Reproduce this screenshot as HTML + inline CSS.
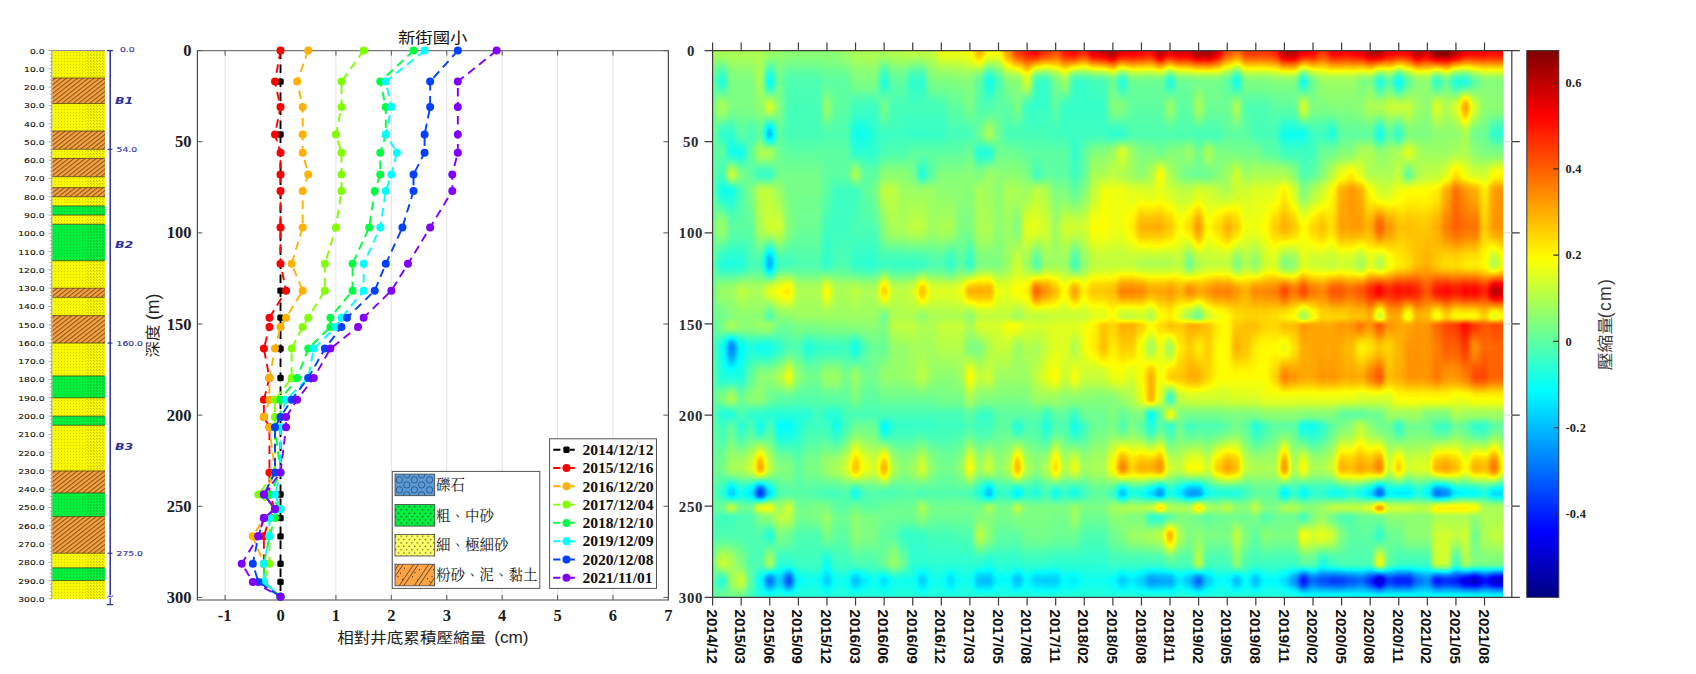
<!DOCTYPE html>
<html lang="zh-Hant"><head><meta charset="utf-8"><title>新街國小</title>
<style>html,body{margin:0;padding:0;background:#fff}body{width:1696px;height:674px;overflow:hidden}svg{display:block}text{white-space:pre}</style>
</head><body>
<svg width="1696" height="674" viewBox="0 0 1696 674">
<defs>
<pattern id="pdot" width="3" height="3" patternUnits="userSpaceOnUse"><rect x="1" y="1" width="1" height="1" fill="#5a5a00" fill-opacity=".26"/></pattern>
<pattern id="pdot2" width="3" height="3" patternUnits="userSpaceOnUse"><rect x="0" y="0" width="1.2" height="1.2" fill="#4a4a00" fill-opacity=".3"/></pattern>
<pattern id="phat" width="3.4" height="3.4" patternUnits="userSpaceOnUse" patternTransform="rotate(-38)"><rect x="0" y="0" width="3.4" height="1.1" fill="#5e3010" fill-opacity=".7"/></pattern>
<pattern id="lgdot" width="5.4" height="6.6" patternUnits="userSpaceOnUse"><rect x="1" y="1.2" width="1.1" height="1.1" fill="#111"/><rect x="3.7" y="4.5" width="1.1" height="1.1" fill="#111"/></pattern>
<filter id="jet" x="0" y="0" width="100%" height="100%" color-interpolation-filters="sRGB">
<feGaussianBlur stdDeviation="2.8 0.5"/>
<feComponentTransfer>
<feFuncR type="table" tableValues="0 0 0 0 0.5 1 1 1 0.5"/>
<feFuncG type="table" tableValues="0 0 0.5 1 1 1 0.5 0 0"/>
<feFuncB type="table" tableValues="0.5 1 1 1 0.5 0 0 0 0"/>
<feFuncA type="linear" slope="0" intercept="1"/>
</feComponentTransfer></filter>
<linearGradient id="cbar" x1="0" y1="1" x2="0" y2="0">
<stop offset="0" stop-color="#000080"/>
<stop offset="0.12" stop-color="#0000ff"/>
<stop offset="0.25" stop-color="#0080ff"/>
<stop offset="0.38" stop-color="#00ffff"/>
<stop offset="0.5" stop-color="#80ff80"/>
<stop offset="0.62" stop-color="#ffff00"/>
<stop offset="0.75" stop-color="#ff8000"/>
<stop offset="0.88" stop-color="#ff0000"/>
<stop offset="1" stop-color="#800000"/>
</linearGradient>
<clipPath id="hclip"><rect x="712.6" y="50.6" width="790.6" height="546.7"/></clipPath>
<linearGradient id="c0" x1="0" y1="0" x2="0" y2="1"><stop offset="0" stop-color="#8b8b8b"/><stop offset=".017" stop-color="#878787"/><stop offset=".0397" stop-color="#7c7c7c"/><stop offset=".0567" stop-color="#777777"/><stop offset=".1033" stop-color="#7f7f7f"/><stop offset=".1533" stop-color="#7b7b7b"/><stop offset=".1867" stop-color="#777777"/><stop offset=".2267" stop-color="#777777"/><stop offset=".2567" stop-color="#777777"/><stop offset=".3233" stop-color="#7f7f7f"/><stop offset=".39" stop-color="#777777"/><stop offset=".44" stop-color="#7f7f7f"/><stop offset=".4867" stop-color="#7b7b7b"/><stop offset=".5033" stop-color="#777777"/><stop offset=".5433" stop-color="#737373"/><stop offset=".5967" stop-color="#777777"/><stop offset=".6367" stop-color="#777777"/><stop offset=".6667" stop-color="#777777"/><stop offset=".6867" stop-color="#777777"/><stop offset=".7633" stop-color="#7b7b7b"/><stop offset=".81" stop-color="#777777"/><stop offset=".8367" stop-color="#777777"/><stop offset=".8533" stop-color="#737373"/><stop offset=".8867" stop-color="#737373"/><stop offset=".9017" stop-color="#767676"/><stop offset=".9217" stop-color="#7d7d7d"/><stop offset=".9367" stop-color="#7f7f7f"/><stop offset=".97" stop-color="#777777"/><stop offset="1" stop-color="#777777"/></linearGradient>
<linearGradient id="c1" x1="0" y1="0" x2="0" y2="1"><stop offset="0" stop-color="#8b8b8b"/><stop offset=".0142" stop-color="#868686"/><stop offset=".0283" stop-color="#797979"/><stop offset=".0425" stop-color="#6d6d6d"/><stop offset=".0567" stop-color="#676767"/><stop offset=".0683" stop-color="#6d6d6d"/><stop offset=".08" stop-color="#797979"/><stop offset=".0917" stop-color="#868686"/><stop offset=".1033" stop-color="#8b8b8b"/><stop offset=".1158" stop-color="#868686"/><stop offset=".1283" stop-color="#7b7b7b"/><stop offset=".1408" stop-color="#707070"/><stop offset=".1533" stop-color="#6b6b6b"/><stop offset=".1633" stop-color="#6e6e6e"/><stop offset=".1767" stop-color="#757575"/><stop offset=".1867" stop-color="#777777"/><stop offset=".2267" stop-color="#6f6f6f"/><stop offset=".2357" stop-color="#6d6d6d"/><stop offset=".2477" stop-color="#666666"/><stop offset=".2567" stop-color="#636363"/><stop offset=".2733" stop-color="#696969"/><stop offset=".29" stop-color="#757575"/><stop offset=".3067" stop-color="#828282"/><stop offset=".3233" stop-color="#878787"/><stop offset=".34" stop-color="#828282"/><stop offset=".3567" stop-color="#777777"/><stop offset=".3733" stop-color="#6c6c6c"/><stop offset=".39" stop-color="#676767"/><stop offset=".4025" stop-color="#6c6c6c"/><stop offset=".415" stop-color="#777777"/><stop offset=".4275" stop-color="#828282"/><stop offset=".44" stop-color="#878787"/><stop offset=".454" stop-color="#858585"/><stop offset=".4727" stop-color="#7e7e7e"/><stop offset=".4867" stop-color="#7b7b7b"/><stop offset=".5033" stop-color="#7f7f7f"/><stop offset=".5133" stop-color="#7b7b7b"/><stop offset=".5233" stop-color="#717171"/><stop offset=".5333" stop-color="#686868"/><stop offset=".5433" stop-color="#636363"/><stop offset=".5967" stop-color="#676767"/><stop offset=".6067" stop-color="#6b6b6b"/><stop offset=".6167" stop-color="#737373"/><stop offset=".6267" stop-color="#7c7c7c"/><stop offset=".6367" stop-color="#7f7f7f"/><stop offset=".6442" stop-color="#7c7c7c"/><stop offset=".6517" stop-color="#737373"/><stop offset=".6592" stop-color="#6b6b6b"/><stop offset=".6667" stop-color="#676767"/><stop offset=".6867" stop-color="#6f6f6f"/><stop offset=".7097" stop-color="#727272"/><stop offset=".7403" stop-color="#7a7a7a"/><stop offset=".7633" stop-color="#7d7d7d"/><stop offset=".7773" stop-color="#797979"/><stop offset=".796" stop-color="#6f6f6f"/><stop offset=".81" stop-color="#6b6b6b"/><stop offset=".818" stop-color="#6f6f6f"/><stop offset=".8287" stop-color="#787878"/><stop offset=".8367" stop-color="#7b7b7b"/><stop offset=".8417" stop-color="#797979"/><stop offset=".8483" stop-color="#727272"/><stop offset=".8533" stop-color="#6f6f6f"/><stop offset=".8867" stop-color="#737373"/><stop offset=".8992" stop-color="#787878"/><stop offset=".9117" stop-color="#838383"/><stop offset=".9242" stop-color="#8e8e8e"/><stop offset=".9367" stop-color="#949494"/><stop offset=".945" stop-color="#8d8d8d"/><stop offset=".9533" stop-color="#7d7d7d"/><stop offset=".9617" stop-color="#6e6e6e"/><stop offset=".97" stop-color="#676767"/><stop offset=".979" stop-color="#6c6c6c"/><stop offset=".991" stop-color="#777777"/><stop offset="1" stop-color="#7b7b7b"/></linearGradient>
<linearGradient id="c2" x1="0" y1="0" x2="0" y2="1"><stop offset="0" stop-color="#8b8b8b"/><stop offset=".017" stop-color="#898989"/><stop offset=".0397" stop-color="#828282"/><stop offset=".0567" stop-color="#7f7f7f"/><stop offset=".1033" stop-color="#7f7f7f"/><stop offset=".1183" stop-color="#7b7b7b"/><stop offset=".1383" stop-color="#707070"/><stop offset=".1533" stop-color="#6b6b6b"/><stop offset=".1867" stop-color="#636363"/><stop offset=".1967" stop-color="#6b6b6b"/><stop offset=".2067" stop-color="#7b7b7b"/><stop offset=".2167" stop-color="#8c8c8c"/><stop offset=".2267" stop-color="#949494"/><stop offset=".2342" stop-color="#8c8c8c"/><stop offset=".2417" stop-color="#7b7b7b"/><stop offset=".2492" stop-color="#6b6b6b"/><stop offset=".2567" stop-color="#636363"/><stop offset=".2767" stop-color="#686868"/><stop offset=".3033" stop-color="#737373"/><stop offset=".3233" stop-color="#777777"/><stop offset=".3433" stop-color="#747474"/><stop offset=".37" stop-color="#6b6b6b"/><stop offset=".39" stop-color="#676767"/><stop offset=".4025" stop-color="#6c6c6c"/><stop offset=".415" stop-color="#777777"/><stop offset=".4275" stop-color="#828282"/><stop offset=".44" stop-color="#878787"/><stop offset=".4867" stop-color="#818181"/><stop offset=".5033" stop-color="#8b8b8b"/><stop offset=".5093" stop-color="#878787"/><stop offset=".5153" stop-color="#7b7b7b"/><stop offset=".5233" stop-color="#656565"/><stop offset=".5313" stop-color="#505050"/><stop offset=".5373" stop-color="#444444"/><stop offset=".5433" stop-color="#3f3f3f"/><stop offset=".5567" stop-color="#454545"/><stop offset=".57" stop-color="#535353"/><stop offset=".5833" stop-color="#616161"/><stop offset=".5967" stop-color="#676767"/><stop offset=".6067" stop-color="#6d6d6d"/><stop offset=".6167" stop-color="#797979"/><stop offset=".6267" stop-color="#868686"/><stop offset=".6367" stop-color="#8b8b8b"/><stop offset=".6442" stop-color="#868686"/><stop offset=".6517" stop-color="#797979"/><stop offset=".6592" stop-color="#6d6d6d"/><stop offset=".6667" stop-color="#676767"/><stop offset=".6727" stop-color="#6b6b6b"/><stop offset=".6807" stop-color="#747474"/><stop offset=".6867" stop-color="#777777"/><stop offset=".7097" stop-color="#7c7c7c"/><stop offset=".7403" stop-color="#878787"/><stop offset=".7633" stop-color="#8b8b8b"/><stop offset=".7703" stop-color="#888888"/><stop offset=".7773" stop-color="#7f7f7f"/><stop offset=".7867" stop-color="#6f6f6f"/><stop offset=".796" stop-color="#5f5f5f"/><stop offset=".803" stop-color="#575757"/><stop offset=".81" stop-color="#535353"/><stop offset=".814" stop-color="#575757"/><stop offset=".818" stop-color="#606060"/><stop offset=".8233" stop-color="#717171"/><stop offset=".8287" stop-color="#828282"/><stop offset=".8327" stop-color="#8c8c8c"/><stop offset=".8367" stop-color="#909090"/><stop offset=".8408" stop-color="#8a8a8a"/><stop offset=".845" stop-color="#7f7f7f"/><stop offset=".8492" stop-color="#747474"/><stop offset=".8533" stop-color="#6f6f6f"/><stop offset=".8867" stop-color="#737373"/><stop offset=".8992" stop-color="#777777"/><stop offset=".9117" stop-color="#7f7f7f"/><stop offset=".9242" stop-color="#888888"/><stop offset=".9367" stop-color="#8b8b8b"/><stop offset=".97" stop-color="#878787"/><stop offset=".979" stop-color="#858585"/><stop offset=".991" stop-color="#7e7e7e"/><stop offset="1" stop-color="#7b7b7b"/></linearGradient>
<linearGradient id="c3" x1="0" y1="0" x2="0" y2="1"><stop offset="0" stop-color="#8b8b8b"/><stop offset=".017" stop-color="#898989"/><stop offset=".0397" stop-color="#828282"/><stop offset=".0567" stop-color="#7f7f7f"/><stop offset=".1033" stop-color="#7f7f7f"/><stop offset=".1533" stop-color="#777777"/><stop offset=".1633" stop-color="#737373"/><stop offset=".1767" stop-color="#686868"/><stop offset=".1867" stop-color="#636363"/><stop offset=".1967" stop-color="#686868"/><stop offset=".2067" stop-color="#717171"/><stop offset=".2167" stop-color="#7b7b7b"/><stop offset=".2267" stop-color="#7f7f7f"/><stop offset=".2357" stop-color="#7d7d7d"/><stop offset=".2477" stop-color="#767676"/><stop offset=".2567" stop-color="#737373"/><stop offset=".3233" stop-color="#777777"/><stop offset=".3433" stop-color="#747474"/><stop offset=".37" stop-color="#6b6b6b"/><stop offset=".39" stop-color="#676767"/><stop offset=".4025" stop-color="#6e6e6e"/><stop offset=".415" stop-color="#7b7b7b"/><stop offset=".4275" stop-color="#898989"/><stop offset=".44" stop-color="#909090"/><stop offset=".454" stop-color="#8d8d8d"/><stop offset=".4727" stop-color="#868686"/><stop offset=".4867" stop-color="#838383"/><stop offset=".5033" stop-color="#838383"/><stop offset=".5133" stop-color="#7e7e7e"/><stop offset=".5233" stop-color="#717171"/><stop offset=".5333" stop-color="#656565"/><stop offset=".5433" stop-color="#5f5f5f"/><stop offset=".5967" stop-color="#676767"/><stop offset=".6087" stop-color="#6c6c6c"/><stop offset=".6247" stop-color="#777777"/><stop offset=".6367" stop-color="#7b7b7b"/><stop offset=".6667" stop-color="#737373"/><stop offset=".6867" stop-color="#696969"/><stop offset=".7058" stop-color="#6f6f6f"/><stop offset=".725" stop-color="#7a7a7a"/><stop offset=".7442" stop-color="#868686"/><stop offset=".7633" stop-color="#8b8b8b"/><stop offset=".775" stop-color="#858585"/><stop offset=".7867" stop-color="#777777"/><stop offset=".7983" stop-color="#6a6a6a"/><stop offset=".81" stop-color="#636363"/><stop offset=".8167" stop-color="#676767"/><stop offset=".8233" stop-color="#6f6f6f"/><stop offset=".83" stop-color="#787878"/><stop offset=".8367" stop-color="#7b7b7b"/><stop offset=".8533" stop-color="#737373"/><stop offset=".8867" stop-color="#737373"/><stop offset=".9017" stop-color="#767676"/><stop offset=".9217" stop-color="#7d7d7d"/><stop offset=".9367" stop-color="#7f7f7f"/><stop offset=".9467" stop-color="#848484"/><stop offset=".96" stop-color="#8f8f8f"/><stop offset=".97" stop-color="#949494"/><stop offset=".9775" stop-color="#909090"/><stop offset=".985" stop-color="#878787"/><stop offset=".9925" stop-color="#7f7f7f"/><stop offset="1" stop-color="#7b7b7b"/></linearGradient>
<linearGradient id="c4" x1="0" y1="0" x2="0" y2="1"><stop offset="0" stop-color="#8b8b8b"/><stop offset=".017" stop-color="#898989"/><stop offset=".0397" stop-color="#828282"/><stop offset=".0567" stop-color="#7f7f7f"/><stop offset=".1033" stop-color="#7f7f7f"/><stop offset=".1183" stop-color="#7c7c7c"/><stop offset=".1383" stop-color="#747474"/><stop offset=".1533" stop-color="#717171"/><stop offset=".1867" stop-color="#777777"/><stop offset=".2267" stop-color="#777777"/><stop offset=".2567" stop-color="#7f7f7f"/><stop offset=".3233" stop-color="#777777"/><stop offset=".39" stop-color="#717171"/><stop offset=".4025" stop-color="#757575"/><stop offset=".415" stop-color="#7e7e7e"/><stop offset=".4275" stop-color="#878787"/><stop offset=".44" stop-color="#8b8b8b"/><stop offset=".4867" stop-color="#838383"/><stop offset=".5033" stop-color="#838383"/><stop offset=".5133" stop-color="#7f7f7f"/><stop offset=".5233" stop-color="#757575"/><stop offset=".5333" stop-color="#6c6c6c"/><stop offset=".5433" stop-color="#676767"/><stop offset=".5593" stop-color="#6b6b6b"/><stop offset=".5807" stop-color="#747474"/><stop offset=".5967" stop-color="#777777"/><stop offset=".6087" stop-color="#7a7a7a"/><stop offset=".6247" stop-color="#818181"/><stop offset=".6367" stop-color="#838383"/><stop offset=".6442" stop-color="#808080"/><stop offset=".6517" stop-color="#777777"/><stop offset=".6592" stop-color="#6f6f6f"/><stop offset=".6667" stop-color="#6b6b6b"/><stop offset=".6867" stop-color="#737373"/><stop offset=".7058" stop-color="#787878"/><stop offset=".725" stop-color="#838383"/><stop offset=".7442" stop-color="#8e8e8e"/><stop offset=".7633" stop-color="#949494"/><stop offset=".7703" stop-color="#909090"/><stop offset=".7773" stop-color="#878787"/><stop offset=".7867" stop-color="#777777"/><stop offset=".796" stop-color="#676767"/><stop offset=".803" stop-color="#5f5f5f"/><stop offset=".81" stop-color="#5b5b5b"/><stop offset=".8167" stop-color="#606060"/><stop offset=".8233" stop-color="#6b6b6b"/><stop offset=".83" stop-color="#767676"/><stop offset=".8367" stop-color="#7b7b7b"/><stop offset=".8533" stop-color="#737373"/><stop offset=".8867" stop-color="#737373"/><stop offset=".9367" stop-color="#737373"/><stop offset=".97" stop-color="#777777"/><stop offset="1" stop-color="#6f6f6f"/></linearGradient>
<linearGradient id="c5" x1="0" y1="0" x2="0" y2="1"><stop offset="0" stop-color="#8b8b8b"/><stop offset=".0567" stop-color="#8b8b8b"/><stop offset=".1033" stop-color="#838383"/><stop offset=".1183" stop-color="#818181"/><stop offset=".1383" stop-color="#7a7a7a"/><stop offset=".1533" stop-color="#777777"/><stop offset=".1633" stop-color="#7c7c7c"/><stop offset=".1767" stop-color="#878787"/><stop offset=".1867" stop-color="#8b8b8b"/><stop offset=".1967" stop-color="#878787"/><stop offset=".2067" stop-color="#7c7c7c"/><stop offset=".2167" stop-color="#727272"/><stop offset=".2267" stop-color="#6d6d6d"/><stop offset=".2342" stop-color="#737373"/><stop offset=".2417" stop-color="#7e7e7e"/><stop offset=".2492" stop-color="#8a8a8a"/><stop offset=".2567" stop-color="#909090"/><stop offset=".3233" stop-color="#8b8b8b"/><stop offset=".34" stop-color="#878787"/><stop offset=".3567" stop-color="#7e7e7e"/><stop offset=".3733" stop-color="#757575"/><stop offset=".39" stop-color="#717171"/><stop offset=".4025" stop-color="#757575"/><stop offset=".415" stop-color="#7e7e7e"/><stop offset=".4275" stop-color="#878787"/><stop offset=".44" stop-color="#8b8b8b"/><stop offset=".4867" stop-color="#838383"/><stop offset=".5033" stop-color="#878787"/><stop offset=".5133" stop-color="#828282"/><stop offset=".5233" stop-color="#757575"/><stop offset=".5333" stop-color="#696969"/><stop offset=".5433" stop-color="#636363"/><stop offset=".5567" stop-color="#686868"/><stop offset=".57" stop-color="#737373"/><stop offset=".5833" stop-color="#7e7e7e"/><stop offset=".5967" stop-color="#838383"/><stop offset=".6367" stop-color="#838383"/><stop offset=".6442" stop-color="#808080"/><stop offset=".6517" stop-color="#777777"/><stop offset=".6592" stop-color="#6f6f6f"/><stop offset=".6667" stop-color="#6b6b6b"/><stop offset=".6867" stop-color="#636363"/><stop offset=".6982" stop-color="#686868"/><stop offset=".7097" stop-color="#757575"/><stop offset=".725" stop-color="#8d8d8d"/><stop offset=".7403" stop-color="#a5a5a5"/><stop offset=".7518" stop-color="#b3b3b3"/><stop offset=".7633" stop-color="#b8b8b8"/><stop offset=".7703" stop-color="#afafaf"/><stop offset=".7773" stop-color="#999999"/><stop offset=".7867" stop-color="#717171"/><stop offset=".796" stop-color="#494949"/><stop offset=".803" stop-color="#333333"/><stop offset=".81" stop-color="#2b2b2b"/><stop offset=".814" stop-color="#323232"/><stop offset=".818" stop-color="#434343"/><stop offset=".8233" stop-color="#636363"/><stop offset=".8287" stop-color="#838383"/><stop offset=".8327" stop-color="#959595"/><stop offset=".8367" stop-color="#9c9c9c"/><stop offset=".8408" stop-color="#979797"/><stop offset=".845" stop-color="#8d8d8d"/><stop offset=".8492" stop-color="#848484"/><stop offset=".8533" stop-color="#7f7f7f"/><stop offset=".8633" stop-color="#7d7d7d"/><stop offset=".8767" stop-color="#767676"/><stop offset=".8867" stop-color="#737373"/><stop offset=".9367" stop-color="#737373"/><stop offset=".9467" stop-color="#6f6f6f"/><stop offset=".96" stop-color="#646464"/><stop offset=".97" stop-color="#5f5f5f"/><stop offset="1" stop-color="#696969"/></linearGradient>
<linearGradient id="c6" x1="0" y1="0" x2="0" y2="1"><stop offset="0" stop-color="#898989"/><stop offset=".0142" stop-color="#828282"/><stop offset=".0283" stop-color="#747474"/><stop offset=".0425" stop-color="#666666"/><stop offset=".0567" stop-color="#5f5f5f"/><stop offset=".0637" stop-color="#626262"/><stop offset=".0707" stop-color="#6b6b6b"/><stop offset=".08" stop-color="#7a7a7a"/><stop offset=".0893" stop-color="#8a8a8a"/><stop offset=".0963" stop-color="#929292"/><stop offset=".1033" stop-color="#969696"/><stop offset=".1108" stop-color="#919191"/><stop offset=".1183" stop-color="#868686"/><stop offset=".1283" stop-color="#727272"/><stop offset=".1383" stop-color="#5e5e5e"/><stop offset=".1458" stop-color="#535353"/><stop offset=".1533" stop-color="#4f4f4f"/><stop offset=".1583" stop-color="#535353"/><stop offset=".1633" stop-color="#5c5c5c"/><stop offset=".17" stop-color="#6d6d6d"/><stop offset=".1767" stop-color="#7e7e7e"/><stop offset=".1817" stop-color="#888888"/><stop offset=".1867" stop-color="#8b8b8b"/><stop offset=".1967" stop-color="#878787"/><stop offset=".2067" stop-color="#7c7c7c"/><stop offset=".2167" stop-color="#727272"/><stop offset=".2267" stop-color="#6d6d6d"/><stop offset=".2342" stop-color="#737373"/><stop offset=".2417" stop-color="#7e7e7e"/><stop offset=".2492" stop-color="#8a8a8a"/><stop offset=".2567" stop-color="#909090"/><stop offset=".3233" stop-color="#949494"/><stop offset=".3333" stop-color="#8f8f8f"/><stop offset=".3433" stop-color="#848484"/><stop offset=".3567" stop-color="#6f6f6f"/><stop offset=".37" stop-color="#5b5b5b"/><stop offset=".38" stop-color="#4f4f4f"/><stop offset=".39" stop-color="#4b4b4b"/><stop offset=".3975" stop-color="#505050"/><stop offset=".405" stop-color="#5c5c5c"/><stop offset=".415" stop-color="#727272"/><stop offset=".425" stop-color="#898989"/><stop offset=".4325" stop-color="#959595"/><stop offset=".44" stop-color="#9a9a9a"/><stop offset=".4517" stop-color="#949494"/><stop offset=".4633" stop-color="#868686"/><stop offset=".475" stop-color="#797979"/><stop offset=".4867" stop-color="#737373"/><stop offset=".4917" stop-color="#787878"/><stop offset=".4983" stop-color="#838383"/><stop offset=".5033" stop-color="#878787"/><stop offset=".5133" stop-color="#828282"/><stop offset=".5233" stop-color="#757575"/><stop offset=".5333" stop-color="#696969"/><stop offset=".5433" stop-color="#636363"/><stop offset=".5567" stop-color="#686868"/><stop offset=".57" stop-color="#737373"/><stop offset=".5833" stop-color="#7e7e7e"/><stop offset=".5967" stop-color="#838383"/><stop offset=".6367" stop-color="#7b7b7b"/><stop offset=".6457" stop-color="#777777"/><stop offset=".6577" stop-color="#6d6d6d"/><stop offset=".6667" stop-color="#696969"/><stop offset=".6867" stop-color="#737373"/><stop offset=".7058" stop-color="#787878"/><stop offset=".725" stop-color="#818181"/><stop offset=".7442" stop-color="#8b8b8b"/><stop offset=".7633" stop-color="#909090"/><stop offset=".7703" stop-color="#8c8c8c"/><stop offset=".7773" stop-color="#848484"/><stop offset=".7867" stop-color="#747474"/><stop offset=".796" stop-color="#656565"/><stop offset=".803" stop-color="#5c5c5c"/><stop offset=".81" stop-color="#595959"/><stop offset=".814" stop-color="#5d5d5d"/><stop offset=".818" stop-color="#686868"/><stop offset=".8233" stop-color="#7a7a7a"/><stop offset=".8287" stop-color="#8d8d8d"/><stop offset=".8327" stop-color="#989898"/><stop offset=".8367" stop-color="#9c9c9c"/><stop offset=".8408" stop-color="#989898"/><stop offset=".845" stop-color="#909090"/><stop offset=".8492" stop-color="#878787"/><stop offset=".8533" stop-color="#838383"/><stop offset=".8617" stop-color="#7f7f7f"/><stop offset=".87" stop-color="#757575"/><stop offset=".8783" stop-color="#6c6c6c"/><stop offset=".8867" stop-color="#676767"/><stop offset=".8992" stop-color="#6d6d6d"/><stop offset=".9117" stop-color="#797979"/><stop offset=".9242" stop-color="#868686"/><stop offset=".9367" stop-color="#8b8b8b"/><stop offset=".9417" stop-color="#878787"/><stop offset=".9467" stop-color="#7a7a7a"/><stop offset=".9533" stop-color="#636363"/><stop offset=".96" stop-color="#4c4c4c"/><stop offset=".965" stop-color="#404040"/><stop offset=".97" stop-color="#3b3b3b"/><stop offset=".9775" stop-color="#424242"/><stop offset=".985" stop-color="#525252"/><stop offset=".9925" stop-color="#626262"/><stop offset="1" stop-color="#696969"/></linearGradient>
<linearGradient id="c7" x1="0" y1="0" x2="0" y2="1"><stop offset="0" stop-color="#868686"/><stop offset=".0567" stop-color="#7b7b7b"/><stop offset=".1033" stop-color="#818181"/><stop offset=".1533" stop-color="#777777"/><stop offset=".1867" stop-color="#7b7b7b"/><stop offset=".2267" stop-color="#7d7d7d"/><stop offset=".2567" stop-color="#878787"/><stop offset=".2767" stop-color="#8a8a8a"/><stop offset=".3033" stop-color="#919191"/><stop offset=".3233" stop-color="#949494"/><stop offset=".34" stop-color="#8e8e8e"/><stop offset=".3567" stop-color="#818181"/><stop offset=".3733" stop-color="#757575"/><stop offset=".39" stop-color="#6f6f6f"/><stop offset=".4025" stop-color="#777777"/><stop offset=".415" stop-color="#878787"/><stop offset=".4275" stop-color="#989898"/><stop offset=".44" stop-color="#a0a0a0"/><stop offset=".4517" stop-color="#9b9b9b"/><stop offset=".4633" stop-color="#929292"/><stop offset=".475" stop-color="#888888"/><stop offset=".4867" stop-color="#838383"/><stop offset=".5033" stop-color="#7b7b7b"/><stop offset=".5153" stop-color="#787878"/><stop offset=".5313" stop-color="#6f6f6f"/><stop offset=".5433" stop-color="#6b6b6b"/><stop offset=".5567" stop-color="#707070"/><stop offset=".57" stop-color="#7b7b7b"/><stop offset=".5833" stop-color="#868686"/><stop offset=".5967" stop-color="#8b8b8b"/><stop offset=".6087" stop-color="#878787"/><stop offset=".6247" stop-color="#7c7c7c"/><stop offset=".6367" stop-color="#777777"/><stop offset=".6457" stop-color="#747474"/><stop offset=".6577" stop-color="#6c6c6c"/><stop offset=".6667" stop-color="#696969"/><stop offset=".6867" stop-color="#5f5f5f"/><stop offset=".7058" stop-color="#656565"/><stop offset=".725" stop-color="#707070"/><stop offset=".7442" stop-color="#7c7c7c"/><stop offset=".7633" stop-color="#818181"/><stop offset=".7773" stop-color="#7e7e7e"/><stop offset=".796" stop-color="#767676"/><stop offset=".81" stop-color="#737373"/><stop offset=".818" stop-color="#787878"/><stop offset=".8287" stop-color="#838383"/><stop offset=".8367" stop-color="#878787"/><stop offset=".8533" stop-color="#909090"/><stop offset=".8633" stop-color="#8c8c8c"/><stop offset=".8767" stop-color="#838383"/><stop offset=".8867" stop-color="#7f7f7f"/><stop offset=".9017" stop-color="#7b7b7b"/><stop offset=".9217" stop-color="#707070"/><stop offset=".9367" stop-color="#6b6b6b"/><stop offset=".9467" stop-color="#666666"/><stop offset=".96" stop-color="#5a5a5a"/><stop offset=".97" stop-color="#555555"/><stop offset=".979" stop-color="#595959"/><stop offset=".991" stop-color="#656565"/><stop offset="1" stop-color="#696969"/></linearGradient>
<linearGradient id="c8" x1="0" y1="0" x2="0" y2="1"><stop offset="0" stop-color="#838383"/><stop offset=".017" stop-color="#808080"/><stop offset=".0397" stop-color="#777777"/><stop offset=".0567" stop-color="#737373"/><stop offset=".1033" stop-color="#717171"/><stop offset=".1533" stop-color="#717171"/><stop offset=".1867" stop-color="#777777"/><stop offset=".2267" stop-color="#7d7d7d"/><stop offset=".2567" stop-color="#7d7d7d"/><stop offset=".3233" stop-color="#818181"/><stop offset=".3433" stop-color="#7d7d7d"/><stop offset=".37" stop-color="#737373"/><stop offset=".39" stop-color="#6f6f6f"/><stop offset=".3975" stop-color="#737373"/><stop offset=".405" stop-color="#7b7b7b"/><stop offset=".415" stop-color="#8a8a8a"/><stop offset=".425" stop-color="#9a9a9a"/><stop offset=".4325" stop-color="#a2a2a2"/><stop offset=".44" stop-color="#a6a6a6"/><stop offset=".4517" stop-color="#a0a0a0"/><stop offset=".4633" stop-color="#959595"/><stop offset=".475" stop-color="#898989"/><stop offset=".4867" stop-color="#838383"/><stop offset=".5033" stop-color="#7b7b7b"/><stop offset=".5433" stop-color="#737373"/><stop offset=".5567" stop-color="#7a7a7a"/><stop offset=".57" stop-color="#878787"/><stop offset=".5833" stop-color="#959595"/><stop offset=".5967" stop-color="#9c9c9c"/><stop offset=".6067" stop-color="#969696"/><stop offset=".6167" stop-color="#898989"/><stop offset=".6267" stop-color="#7d7d7d"/><stop offset=".6367" stop-color="#777777"/><stop offset=".6457" stop-color="#747474"/><stop offset=".6577" stop-color="#6c6c6c"/><stop offset=".6667" stop-color="#696969"/><stop offset=".6867" stop-color="#5f5f5f"/><stop offset=".7058" stop-color="#656565"/><stop offset=".725" stop-color="#707070"/><stop offset=".7442" stop-color="#7c7c7c"/><stop offset=".7633" stop-color="#818181"/><stop offset=".7773" stop-color="#7f7f7f"/><stop offset=".796" stop-color="#787878"/><stop offset=".81" stop-color="#757575"/><stop offset=".8167" stop-color="#7a7a7a"/><stop offset=".8233" stop-color="#848484"/><stop offset=".83" stop-color="#8f8f8f"/><stop offset=".8367" stop-color="#949494"/><stop offset=".8533" stop-color="#909090"/><stop offset=".8633" stop-color="#8b8b8b"/><stop offset=".8767" stop-color="#808080"/><stop offset=".8867" stop-color="#7b7b7b"/><stop offset=".9017" stop-color="#787878"/><stop offset=".9217" stop-color="#6f6f6f"/><stop offset=".9367" stop-color="#6b6b6b"/><stop offset=".9417" stop-color="#686868"/><stop offset=".9467" stop-color="#5f5f5f"/><stop offset=".9533" stop-color="#4f4f4f"/><stop offset=".96" stop-color="#3f3f3f"/><stop offset=".965" stop-color="#363636"/><stop offset=".97" stop-color="#333333"/><stop offset=".9745" stop-color="#363636"/><stop offset=".979" stop-color="#3f3f3f"/><stop offset=".985" stop-color="#4e4e4e"/><stop offset=".991" stop-color="#5e5e5e"/><stop offset=".9955" stop-color="#666666"/><stop offset="1" stop-color="#696969"/></linearGradient>
<linearGradient id="c9" x1="0" y1="0" x2="0" y2="1"><stop offset="0" stop-color="#838383"/><stop offset=".017" stop-color="#808080"/><stop offset=".0397" stop-color="#777777"/><stop offset=".0567" stop-color="#737373"/><stop offset=".1033" stop-color="#717171"/><stop offset=".1533" stop-color="#717171"/><stop offset=".1867" stop-color="#777777"/><stop offset=".2267" stop-color="#7d7d7d"/><stop offset=".2567" stop-color="#7d7d7d"/><stop offset=".3233" stop-color="#7b7b7b"/><stop offset=".39" stop-color="#737373"/><stop offset=".4025" stop-color="#777777"/><stop offset=".415" stop-color="#7f7f7f"/><stop offset=".4275" stop-color="#888888"/><stop offset=".44" stop-color="#8b8b8b"/><stop offset=".4867" stop-color="#878787"/><stop offset=".5033" stop-color="#7f7f7f"/><stop offset=".5153" stop-color="#7d7d7d"/><stop offset=".5313" stop-color="#767676"/><stop offset=".5433" stop-color="#737373"/><stop offset=".5593" stop-color="#777777"/><stop offset=".5807" stop-color="#808080"/><stop offset=".5967" stop-color="#838383"/><stop offset=".6087" stop-color="#808080"/><stop offset=".6247" stop-color="#787878"/><stop offset=".6367" stop-color="#757575"/><stop offset=".6457" stop-color="#737373"/><stop offset=".6577" stop-color="#6c6c6c"/><stop offset=".6667" stop-color="#696969"/><stop offset=".6867" stop-color="#676767"/><stop offset=".7097" stop-color="#6b6b6b"/><stop offset=".7403" stop-color="#747474"/><stop offset=".7633" stop-color="#777777"/><stop offset=".81" stop-color="#757575"/><stop offset=".8367" stop-color="#7d7d7d"/><stop offset=".8533" stop-color="#7d7d7d"/><stop offset=".8867" stop-color="#737373"/><stop offset=".9367" stop-color="#6f6f6f"/><stop offset=".9467" stop-color="#6c6c6c"/><stop offset=".96" stop-color="#636363"/><stop offset=".97" stop-color="#5f5f5f"/><stop offset="1" stop-color="#696969"/></linearGradient>
<linearGradient id="c10" x1="0" y1="0" x2="0" y2="1"><stop offset="0" stop-color="#838383"/><stop offset=".017" stop-color="#808080"/><stop offset=".0397" stop-color="#777777"/><stop offset=".0567" stop-color="#737373"/><stop offset=".1033" stop-color="#717171"/><stop offset=".1533" stop-color="#717171"/><stop offset=".1867" stop-color="#777777"/><stop offset=".2267" stop-color="#7d7d7d"/><stop offset=".2567" stop-color="#7d7d7d"/><stop offset=".3233" stop-color="#7b7b7b"/><stop offset=".39" stop-color="#737373"/><stop offset=".4025" stop-color="#777777"/><stop offset=".415" stop-color="#7f7f7f"/><stop offset=".4275" stop-color="#888888"/><stop offset=".44" stop-color="#8b8b8b"/><stop offset=".4867" stop-color="#878787"/><stop offset=".5033" stop-color="#7f7f7f"/><stop offset=".5133" stop-color="#7c7c7c"/><stop offset=".5233" stop-color="#737373"/><stop offset=".5333" stop-color="#6b6b6b"/><stop offset=".5433" stop-color="#676767"/><stop offset=".5593" stop-color="#6c6c6c"/><stop offset=".5807" stop-color="#797979"/><stop offset=".5967" stop-color="#7d7d7d"/><stop offset=".6367" stop-color="#757575"/><stop offset=".6457" stop-color="#737373"/><stop offset=".6577" stop-color="#6c6c6c"/><stop offset=".6667" stop-color="#696969"/><stop offset=".6867" stop-color="#6f6f6f"/><stop offset=".7097" stop-color="#737373"/><stop offset=".7403" stop-color="#7c7c7c"/><stop offset=".7633" stop-color="#7f7f7f"/><stop offset=".81" stop-color="#757575"/><stop offset=".8367" stop-color="#7d7d7d"/><stop offset=".8533" stop-color="#7d7d7d"/><stop offset=".8867" stop-color="#737373"/><stop offset=".9367" stop-color="#6f6f6f"/><stop offset=".9467" stop-color="#6d6d6d"/><stop offset=".96" stop-color="#666666"/><stop offset=".97" stop-color="#636363"/><stop offset="1" stop-color="#696969"/></linearGradient>
<linearGradient id="c11" x1="0" y1="0" x2="0" y2="1"><stop offset="0" stop-color="#838383"/><stop offset=".017" stop-color="#808080"/><stop offset=".0397" stop-color="#777777"/><stop offset=".0567" stop-color="#737373"/><stop offset=".1033" stop-color="#717171"/><stop offset=".1533" stop-color="#717171"/><stop offset=".1867" stop-color="#777777"/><stop offset=".2267" stop-color="#7d7d7d"/><stop offset=".2567" stop-color="#7d7d7d"/><stop offset=".3233" stop-color="#7b7b7b"/><stop offset=".39" stop-color="#737373"/><stop offset=".4025" stop-color="#777777"/><stop offset=".415" stop-color="#7f7f7f"/><stop offset=".4275" stop-color="#888888"/><stop offset=".44" stop-color="#8b8b8b"/><stop offset=".4867" stop-color="#878787"/><stop offset=".5033" stop-color="#7f7f7f"/><stop offset=".5153" stop-color="#7b7b7b"/><stop offset=".5313" stop-color="#717171"/><stop offset=".5433" stop-color="#6d6d6d"/><stop offset=".5593" stop-color="#717171"/><stop offset=".5807" stop-color="#7a7a7a"/><stop offset=".5967" stop-color="#7d7d7d"/><stop offset=".6367" stop-color="#757575"/><stop offset=".6667" stop-color="#717171"/><stop offset=".6867" stop-color="#6f6f6f"/><stop offset=".7097" stop-color="#737373"/><stop offset=".7403" stop-color="#7c7c7c"/><stop offset=".7633" stop-color="#7f7f7f"/><stop offset=".7773" stop-color="#7d7d7d"/><stop offset=".796" stop-color="#767676"/><stop offset=".81" stop-color="#737373"/><stop offset=".818" stop-color="#767676"/><stop offset=".8287" stop-color="#7d7d7d"/><stop offset=".8367" stop-color="#7f7f7f"/><stop offset=".8533" stop-color="#7f7f7f"/><stop offset=".8633" stop-color="#7d7d7d"/><stop offset=".8767" stop-color="#767676"/><stop offset=".8867" stop-color="#737373"/><stop offset=".9367" stop-color="#6f6f6f"/><stop offset=".9467" stop-color="#6d6d6d"/><stop offset=".96" stop-color="#666666"/><stop offset=".97" stop-color="#636363"/><stop offset="1" stop-color="#696969"/></linearGradient>
<linearGradient id="c12" x1="0" y1="0" x2="0" y2="1"><stop offset="0" stop-color="#838383"/><stop offset=".017" stop-color="#818181"/><stop offset=".0397" stop-color="#7a7a7a"/><stop offset=".0567" stop-color="#777777"/><stop offset=".0707" stop-color="#7a7a7a"/><stop offset=".0893" stop-color="#828282"/><stop offset=".1033" stop-color="#858585"/><stop offset=".1183" stop-color="#828282"/><stop offset=".1383" stop-color="#777777"/><stop offset=".1533" stop-color="#737373"/><stop offset=".1867" stop-color="#777777"/><stop offset=".2267" stop-color="#777777"/><stop offset=".2567" stop-color="#777777"/><stop offset=".3233" stop-color="#6f6f6f"/><stop offset=".39" stop-color="#6b6b6b"/><stop offset=".3975" stop-color="#6e6e6e"/><stop offset=".405" stop-color="#777777"/><stop offset=".415" stop-color="#858585"/><stop offset=".425" stop-color="#949494"/><stop offset=".4325" stop-color="#9c9c9c"/><stop offset=".44" stop-color="#a0a0a0"/><stop offset=".4517" stop-color="#9c9c9c"/><stop offset=".4633" stop-color="#949494"/><stop offset=".475" stop-color="#8b8b8b"/><stop offset=".4867" stop-color="#878787"/><stop offset=".5033" stop-color="#818181"/><stop offset=".5153" stop-color="#7d7d7d"/><stop offset=".5313" stop-color="#727272"/><stop offset=".5433" stop-color="#6d6d6d"/><stop offset=".5567" stop-color="#717171"/><stop offset=".57" stop-color="#7a7a7a"/><stop offset=".5833" stop-color="#838383"/><stop offset=".5967" stop-color="#878787"/><stop offset=".6087" stop-color="#848484"/><stop offset=".6247" stop-color="#7b7b7b"/><stop offset=".6367" stop-color="#777777"/><stop offset=".6457" stop-color="#747474"/><stop offset=".6577" stop-color="#6c6c6c"/><stop offset=".6667" stop-color="#696969"/><stop offset=".6867" stop-color="#6f6f6f"/><stop offset=".7058" stop-color="#737373"/><stop offset=".725" stop-color="#7b7b7b"/><stop offset=".7442" stop-color="#848484"/><stop offset=".7633" stop-color="#878787"/><stop offset=".7773" stop-color="#838383"/><stop offset=".796" stop-color="#767676"/><stop offset=".81" stop-color="#717171"/><stop offset=".818" stop-color="#747474"/><stop offset=".8287" stop-color="#7c7c7c"/><stop offset=".8367" stop-color="#7f7f7f"/><stop offset=".8533" stop-color="#878787"/><stop offset=".8867" stop-color="#7f7f7f"/><stop offset=".8992" stop-color="#7b7b7b"/><stop offset=".9117" stop-color="#717171"/><stop offset=".9242" stop-color="#686868"/><stop offset=".9367" stop-color="#636363"/><stop offset=".9467" stop-color="#606060"/><stop offset=".96" stop-color="#575757"/><stop offset=".97" stop-color="#535353"/><stop offset=".979" stop-color="#585858"/><stop offset=".991" stop-color="#646464"/><stop offset="1" stop-color="#696969"/></linearGradient>
<linearGradient id="c13" x1="0" y1="0" x2="0" y2="1"><stop offset="0" stop-color="#838383"/><stop offset=".017" stop-color="#818181"/><stop offset=".0397" stop-color="#7a7a7a"/><stop offset=".0567" stop-color="#777777"/><stop offset=".1033" stop-color="#777777"/><stop offset=".1533" stop-color="#737373"/><stop offset=".1867" stop-color="#777777"/><stop offset=".2267" stop-color="#777777"/><stop offset=".2567" stop-color="#6f6f6f"/><stop offset=".3233" stop-color="#6f6f6f"/><stop offset=".39" stop-color="#737373"/><stop offset=".4025" stop-color="#777777"/><stop offset=".415" stop-color="#7f7f7f"/><stop offset=".4275" stop-color="#888888"/><stop offset=".44" stop-color="#8b8b8b"/><stop offset=".4867" stop-color="#878787"/><stop offset=".5033" stop-color="#818181"/><stop offset=".5153" stop-color="#7d7d7d"/><stop offset=".5313" stop-color="#727272"/><stop offset=".5433" stop-color="#6d6d6d"/><stop offset=".5567" stop-color="#717171"/><stop offset=".57" stop-color="#7a7a7a"/><stop offset=".5833" stop-color="#838383"/><stop offset=".5967" stop-color="#878787"/><stop offset=".6087" stop-color="#848484"/><stop offset=".6247" stop-color="#7b7b7b"/><stop offset=".6367" stop-color="#777777"/><stop offset=".6457" stop-color="#747474"/><stop offset=".6577" stop-color="#6c6c6c"/><stop offset=".6667" stop-color="#696969"/><stop offset=".6867" stop-color="#636363"/><stop offset=".7058" stop-color="#6a6a6a"/><stop offset=".725" stop-color="#777777"/><stop offset=".7442" stop-color="#858585"/><stop offset=".7633" stop-color="#8b8b8b"/><stop offset=".775" stop-color="#878787"/><stop offset=".7867" stop-color="#7e7e7e"/><stop offset=".7983" stop-color="#757575"/><stop offset=".81" stop-color="#717171"/><stop offset=".8367" stop-color="#777777"/><stop offset=".8533" stop-color="#7b7b7b"/><stop offset=".8867" stop-color="#777777"/><stop offset=".9367" stop-color="#6f6f6f"/><stop offset=".9467" stop-color="#6d6d6d"/><stop offset=".96" stop-color="#666666"/><stop offset=".97" stop-color="#636363"/><stop offset="1" stop-color="#696969"/></linearGradient>
<linearGradient id="c14" x1="0" y1="0" x2="0" y2="1"><stop offset="0" stop-color="#878787"/><stop offset=".017" stop-color="#848484"/><stop offset=".0397" stop-color="#7b7b7b"/><stop offset=".0567" stop-color="#777777"/><stop offset=".1033" stop-color="#777777"/><stop offset=".1533" stop-color="#737373"/><stop offset=".1867" stop-color="#777777"/><stop offset=".2267" stop-color="#777777"/><stop offset=".2567" stop-color="#6f6f6f"/><stop offset=".3233" stop-color="#6f6f6f"/><stop offset=".39" stop-color="#737373"/><stop offset=".4025" stop-color="#777777"/><stop offset=".415" stop-color="#7f7f7f"/><stop offset=".4275" stop-color="#888888"/><stop offset=".44" stop-color="#8b8b8b"/><stop offset=".4867" stop-color="#878787"/><stop offset=".5033" stop-color="#818181"/><stop offset=".5153" stop-color="#7d7d7d"/><stop offset=".5313" stop-color="#737373"/><stop offset=".5433" stop-color="#6f6f6f"/><stop offset=".5593" stop-color="#727272"/><stop offset=".5807" stop-color="#7a7a7a"/><stop offset=".5967" stop-color="#7d7d7d"/><stop offset=".6367" stop-color="#777777"/><stop offset=".6667" stop-color="#717171"/><stop offset=".6867" stop-color="#717171"/><stop offset=".7058" stop-color="#777777"/><stop offset=".725" stop-color="#828282"/><stop offset=".7442" stop-color="#8e8e8e"/><stop offset=".7633" stop-color="#949494"/><stop offset=".775" stop-color="#8f8f8f"/><stop offset=".7867" stop-color="#848484"/><stop offset=".7983" stop-color="#797979"/><stop offset=".81" stop-color="#747474"/><stop offset=".8367" stop-color="#777777"/><stop offset=".8533" stop-color="#7b7b7b"/><stop offset=".8867" stop-color="#777777"/><stop offset=".9367" stop-color="#6f6f6f"/><stop offset=".9467" stop-color="#6d6d6d"/><stop offset=".96" stop-color="#666666"/><stop offset=".97" stop-color="#636363"/><stop offset="1" stop-color="#696969"/></linearGradient>
<linearGradient id="c15" x1="0" y1="0" x2="0" y2="1"><stop offset="0" stop-color="#8b8b8b"/><stop offset=".017" stop-color="#898989"/><stop offset=".0397" stop-color="#828282"/><stop offset=".0567" stop-color="#7f7f7f"/><stop offset=".0707" stop-color="#7c7c7c"/><stop offset=".0893" stop-color="#737373"/><stop offset=".1033" stop-color="#6f6f6f"/><stop offset=".1183" stop-color="#6d6d6d"/><stop offset=".1383" stop-color="#666666"/><stop offset=".1533" stop-color="#636363"/><stop offset=".1867" stop-color="#6b6b6b"/><stop offset=".1967" stop-color="#707070"/><stop offset=".2067" stop-color="#7b7b7b"/><stop offset=".2167" stop-color="#868686"/><stop offset=".2267" stop-color="#8b8b8b"/><stop offset=".2342" stop-color="#878787"/><stop offset=".2417" stop-color="#7d7d7d"/><stop offset=".2492" stop-color="#747474"/><stop offset=".2567" stop-color="#6f6f6f"/><stop offset=".3233" stop-color="#737373"/><stop offset=".39" stop-color="#6b6b6b"/><stop offset=".4025" stop-color="#717171"/><stop offset=".415" stop-color="#7d7d7d"/><stop offset=".4275" stop-color="#8a8a8a"/><stop offset=".44" stop-color="#909090"/><stop offset=".4867" stop-color="#878787"/><stop offset=".5033" stop-color="#838383"/><stop offset=".5133" stop-color="#7e7e7e"/><stop offset=".5233" stop-color="#737373"/><stop offset=".5333" stop-color="#686868"/><stop offset=".5433" stop-color="#636363"/><stop offset=".5567" stop-color="#696969"/><stop offset=".57" stop-color="#757575"/><stop offset=".5833" stop-color="#828282"/><stop offset=".5967" stop-color="#878787"/><stop offset=".6367" stop-color="#7f7f7f"/><stop offset=".6457" stop-color="#7c7c7c"/><stop offset=".6577" stop-color="#747474"/><stop offset=".6667" stop-color="#717171"/><stop offset=".6867" stop-color="#7b7b7b"/><stop offset=".6982" stop-color="#7f7f7f"/><stop offset=".7097" stop-color="#878787"/><stop offset=".725" stop-color="#969696"/><stop offset=".7403" stop-color="#a4a4a4"/><stop offset=".7518" stop-color="#adadad"/><stop offset=".7633" stop-color="#b0b0b0"/><stop offset=".7703" stop-color="#ababab"/><stop offset=".7773" stop-color="#9f9f9f"/><stop offset=".7867" stop-color="#898989"/><stop offset=".796" stop-color="#747474"/><stop offset=".803" stop-color="#686868"/><stop offset=".81" stop-color="#636363"/><stop offset=".8167" stop-color="#676767"/><stop offset=".8233" stop-color="#707070"/><stop offset=".83" stop-color="#797979"/><stop offset=".8367" stop-color="#7d7d7d"/><stop offset=".8533" stop-color="#858585"/><stop offset=".8867" stop-color="#838383"/><stop offset=".9017" stop-color="#808080"/><stop offset=".9217" stop-color="#777777"/><stop offset=".9367" stop-color="#737373"/><stop offset=".945" stop-color="#6e6e6e"/><stop offset=".9533" stop-color="#616161"/><stop offset=".9617" stop-color="#555555"/><stop offset=".97" stop-color="#4f4f4f"/><stop offset=".9775" stop-color="#535353"/><stop offset=".985" stop-color="#5c5c5c"/><stop offset=".9925" stop-color="#656565"/><stop offset="1" stop-color="#696969"/></linearGradient>
<linearGradient id="c16" x1="0" y1="0" x2="0" y2="1"><stop offset="0" stop-color="#8b8b8b"/><stop offset=".017" stop-color="#898989"/><stop offset=".0397" stop-color="#828282"/><stop offset=".0567" stop-color="#7f7f7f"/><stop offset=".0707" stop-color="#7c7c7c"/><stop offset=".0893" stop-color="#737373"/><stop offset=".1033" stop-color="#6f6f6f"/><stop offset=".1183" stop-color="#6d6d6d"/><stop offset=".1383" stop-color="#666666"/><stop offset=".1533" stop-color="#636363"/><stop offset=".1867" stop-color="#6b6b6b"/><stop offset=".1987" stop-color="#6e6e6e"/><stop offset=".2147" stop-color="#757575"/><stop offset=".2267" stop-color="#777777"/><stop offset=".2567" stop-color="#777777"/><stop offset=".3233" stop-color="#737373"/><stop offset=".39" stop-color="#6b6b6b"/><stop offset=".4025" stop-color="#707070"/><stop offset=".415" stop-color="#7b7b7b"/><stop offset=".4275" stop-color="#868686"/><stop offset=".44" stop-color="#8b8b8b"/><stop offset=".4867" stop-color="#878787"/><stop offset=".5033" stop-color="#838383"/><stop offset=".5153" stop-color="#808080"/><stop offset=".5313" stop-color="#777777"/><stop offset=".5433" stop-color="#737373"/><stop offset=".5967" stop-color="#7d7d7d"/><stop offset=".6367" stop-color="#777777"/><stop offset=".6667" stop-color="#717171"/><stop offset=".6867" stop-color="#7b7b7b"/><stop offset=".7058" stop-color="#808080"/><stop offset=".725" stop-color="#8b8b8b"/><stop offset=".7442" stop-color="#979797"/><stop offset=".7633" stop-color="#9c9c9c"/><stop offset=".775" stop-color="#959595"/><stop offset=".7867" stop-color="#878787"/><stop offset=".7983" stop-color="#797979"/><stop offset=".81" stop-color="#727272"/><stop offset=".8367" stop-color="#777777"/><stop offset=".8533" stop-color="#7f7f7f"/><stop offset=".8867" stop-color="#7f7f7f"/><stop offset=".9017" stop-color="#7d7d7d"/><stop offset=".9217" stop-color="#767676"/><stop offset=".9367" stop-color="#737373"/><stop offset=".945" stop-color="#707070"/><stop offset=".9533" stop-color="#676767"/><stop offset=".9617" stop-color="#5f5f5f"/><stop offset=".97" stop-color="#5b5b5b"/><stop offset=".979" stop-color="#5e5e5e"/><stop offset=".991" stop-color="#666666"/><stop offset="1" stop-color="#696969"/></linearGradient>
<linearGradient id="c17" x1="0" y1="0" x2="0" y2="1"><stop offset="0" stop-color="#8b8b8b"/><stop offset=".017" stop-color="#898989"/><stop offset=".0397" stop-color="#828282"/><stop offset=".0567" stop-color="#7f7f7f"/><stop offset=".0707" stop-color="#7c7c7c"/><stop offset=".0893" stop-color="#737373"/><stop offset=".1033" stop-color="#6f6f6f"/><stop offset=".1533" stop-color="#6b6b6b"/><stop offset=".1867" stop-color="#6b6b6b"/><stop offset=".1987" stop-color="#6e6e6e"/><stop offset=".2147" stop-color="#757575"/><stop offset=".2267" stop-color="#777777"/><stop offset=".2567" stop-color="#7d7d7d"/><stop offset=".3233" stop-color="#737373"/><stop offset=".39" stop-color="#6b6b6b"/><stop offset=".4025" stop-color="#707070"/><stop offset=".415" stop-color="#7b7b7b"/><stop offset=".4275" stop-color="#868686"/><stop offset=".44" stop-color="#8b8b8b"/><stop offset=".4867" stop-color="#878787"/><stop offset=".5033" stop-color="#838383"/><stop offset=".5433" stop-color="#7b7b7b"/><stop offset=".5967" stop-color="#7d7d7d"/><stop offset=".6367" stop-color="#777777"/><stop offset=".6667" stop-color="#717171"/><stop offset=".6867" stop-color="#7b7b7b"/><stop offset=".7058" stop-color="#7f7f7f"/><stop offset=".725" stop-color="#878787"/><stop offset=".7442" stop-color="#909090"/><stop offset=".7633" stop-color="#949494"/><stop offset=".775" stop-color="#8f8f8f"/><stop offset=".7867" stop-color="#848484"/><stop offset=".7983" stop-color="#7a7a7a"/><stop offset=".81" stop-color="#757575"/><stop offset=".8367" stop-color="#777777"/><stop offset=".8533" stop-color="#7f7f7f"/><stop offset=".8867" stop-color="#7f7f7f"/><stop offset=".9017" stop-color="#7d7d7d"/><stop offset=".9217" stop-color="#767676"/><stop offset=".9367" stop-color="#737373"/><stop offset=".9467" stop-color="#707070"/><stop offset=".96" stop-color="#676767"/><stop offset=".97" stop-color="#636363"/><stop offset="1" stop-color="#696969"/></linearGradient>
<linearGradient id="c18" x1="0" y1="0" x2="0" y2="1"><stop offset="0" stop-color="#8b8b8b"/><stop offset=".0142" stop-color="#868686"/><stop offset=".0283" stop-color="#797979"/><stop offset=".0425" stop-color="#6d6d6d"/><stop offset=".0567" stop-color="#676767"/><stop offset=".0707" stop-color="#6c6c6c"/><stop offset=".0893" stop-color="#797979"/><stop offset=".1033" stop-color="#7d7d7d"/><stop offset=".1183" stop-color="#7a7a7a"/><stop offset=".1383" stop-color="#727272"/><stop offset=".1533" stop-color="#6f6f6f"/><stop offset=".1867" stop-color="#737373"/><stop offset=".1987" stop-color="#777777"/><stop offset=".2147" stop-color="#808080"/><stop offset=".2267" stop-color="#838383"/><stop offset=".2357" stop-color="#868686"/><stop offset=".2477" stop-color="#8d8d8d"/><stop offset=".2567" stop-color="#909090"/><stop offset=".2767" stop-color="#8d8d8d"/><stop offset=".3033" stop-color="#868686"/><stop offset=".3233" stop-color="#838383"/><stop offset=".3433" stop-color="#7f7f7f"/><stop offset=".37" stop-color="#747474"/><stop offset=".39" stop-color="#6f6f6f"/><stop offset=".3975" stop-color="#737373"/><stop offset=".405" stop-color="#7c7c7c"/><stop offset=".415" stop-color="#8d8d8d"/><stop offset=".425" stop-color="#9f9f9f"/><stop offset=".4325" stop-color="#a8a8a8"/><stop offset=".44" stop-color="#acacac"/><stop offset=".4517" stop-color="#a4a4a4"/><stop offset=".4633" stop-color="#949494"/><stop offset=".475" stop-color="#838383"/><stop offset=".4867" stop-color="#7b7b7b"/><stop offset=".5033" stop-color="#7f7f7f"/><stop offset=".5433" stop-color="#797979"/><stop offset=".5593" stop-color="#7c7c7c"/><stop offset=".5807" stop-color="#838383"/><stop offset=".5967" stop-color="#858585"/><stop offset=".6367" stop-color="#7b7b7b"/><stop offset=".6667" stop-color="#717171"/><stop offset=".6727" stop-color="#6d6d6d"/><stop offset=".6807" stop-color="#626262"/><stop offset=".6867" stop-color="#5d5d5d"/><stop offset=".6982" stop-color="#626262"/><stop offset=".7097" stop-color="#707070"/><stop offset=".725" stop-color="#888888"/><stop offset=".7403" stop-color="#a1a1a1"/><stop offset=".7518" stop-color="#aeaeae"/><stop offset=".7633" stop-color="#b4b4b4"/><stop offset=".7703" stop-color="#b0b0b0"/><stop offset=".7773" stop-color="#a6a6a6"/><stop offset=".7867" stop-color="#939393"/><stop offset=".796" stop-color="#808080"/><stop offset=".803" stop-color="#767676"/><stop offset=".81" stop-color="#727272"/><stop offset=".8367" stop-color="#7b7b7b"/><stop offset=".8533" stop-color="#7b7b7b"/><stop offset=".8867" stop-color="#777777"/><stop offset=".9367" stop-color="#7b7b7b"/><stop offset=".945" stop-color="#767676"/><stop offset=".9533" stop-color="#696969"/><stop offset=".9617" stop-color="#5d5d5d"/><stop offset=".97" stop-color="#575757"/><stop offset=".979" stop-color="#5b5b5b"/><stop offset=".991" stop-color="#656565"/><stop offset="1" stop-color="#696969"/></linearGradient>
<linearGradient id="c19" x1="0" y1="0" x2="0" y2="1"><stop offset="0" stop-color="#8d8d8d"/><stop offset=".017" stop-color="#888888"/><stop offset=".0397" stop-color="#7c7c7c"/><stop offset=".0567" stop-color="#777777"/><stop offset=".1033" stop-color="#717171"/><stop offset=".1533" stop-color="#6f6f6f"/><stop offset=".1867" stop-color="#737373"/><stop offset=".1987" stop-color="#777777"/><stop offset=".2147" stop-color="#808080"/><stop offset=".2267" stop-color="#838383"/><stop offset=".2357" stop-color="#868686"/><stop offset=".2477" stop-color="#8d8d8d"/><stop offset=".2567" stop-color="#909090"/><stop offset=".3233" stop-color="#8b8b8b"/><stop offset=".34" stop-color="#878787"/><stop offset=".3567" stop-color="#7c7c7c"/><stop offset=".3733" stop-color="#727272"/><stop offset=".39" stop-color="#6d6d6d"/><stop offset=".4025" stop-color="#737373"/><stop offset=".415" stop-color="#7e7e7e"/><stop offset=".4275" stop-color="#8a8a8a"/><stop offset=".44" stop-color="#909090"/><stop offset=".4867" stop-color="#8b8b8b"/><stop offset=".5033" stop-color="#909090"/><stop offset=".5433" stop-color="#858585"/><stop offset=".5967" stop-color="#858585"/><stop offset=".6367" stop-color="#7b7b7b"/><stop offset=".6667" stop-color="#717171"/><stop offset=".6867" stop-color="#6b6b6b"/><stop offset=".7058" stop-color="#707070"/><stop offset=".725" stop-color="#7b7b7b"/><stop offset=".7442" stop-color="#868686"/><stop offset=".7633" stop-color="#8b8b8b"/><stop offset=".775" stop-color="#888888"/><stop offset=".7867" stop-color="#7f7f7f"/><stop offset=".7983" stop-color="#767676"/><stop offset=".81" stop-color="#727272"/><stop offset=".8367" stop-color="#7b7b7b"/><stop offset=".8533" stop-color="#7b7b7b"/><stop offset=".8867" stop-color="#777777"/><stop offset=".9017" stop-color="#7b7b7b"/><stop offset=".9217" stop-color="#848484"/><stop offset=".9367" stop-color="#878787"/><stop offset=".945" stop-color="#828282"/><stop offset=".9533" stop-color="#757575"/><stop offset=".9617" stop-color="#696969"/><stop offset=".97" stop-color="#636363"/><stop offset="1" stop-color="#696969"/></linearGradient>
<linearGradient id="c20" x1="0" y1="0" x2="0" y2="1"><stop offset="0" stop-color="#8e8e8e"/><stop offset=".017" stop-color="#898989"/><stop offset=".0397" stop-color="#7c7c7c"/><stop offset=".0567" stop-color="#777777"/><stop offset=".1033" stop-color="#717171"/><stop offset=".1533" stop-color="#6f6f6f"/><stop offset=".1867" stop-color="#737373"/><stop offset=".1987" stop-color="#777777"/><stop offset=".2147" stop-color="#808080"/><stop offset=".2267" stop-color="#838383"/><stop offset=".2567" stop-color="#878787"/><stop offset=".3233" stop-color="#8b8b8b"/><stop offset=".34" stop-color="#878787"/><stop offset=".3567" stop-color="#7c7c7c"/><stop offset=".3733" stop-color="#727272"/><stop offset=".39" stop-color="#6d6d6d"/><stop offset=".4025" stop-color="#737373"/><stop offset=".415" stop-color="#7e7e7e"/><stop offset=".4275" stop-color="#8a8a8a"/><stop offset=".44" stop-color="#909090"/><stop offset=".4867" stop-color="#8b8b8b"/><stop offset=".5033" stop-color="#909090"/><stop offset=".5433" stop-color="#858585"/><stop offset=".5967" stop-color="#858585"/><stop offset=".6367" stop-color="#7b7b7b"/><stop offset=".6667" stop-color="#717171"/><stop offset=".6867" stop-color="#6d6d6d"/><stop offset=".7097" stop-color="#727272"/><stop offset=".7403" stop-color="#7f7f7f"/><stop offset=".7633" stop-color="#838383"/><stop offset=".7773" stop-color="#808080"/><stop offset=".796" stop-color="#787878"/><stop offset=".81" stop-color="#757575"/><stop offset=".8367" stop-color="#7b7b7b"/><stop offset=".8533" stop-color="#7b7b7b"/><stop offset=".8633" stop-color="#787878"/><stop offset=".8767" stop-color="#707070"/><stop offset=".8867" stop-color="#6d6d6d"/><stop offset=".9017" stop-color="#707070"/><stop offset=".9217" stop-color="#787878"/><stop offset=".9367" stop-color="#7b7b7b"/><stop offset=".945" stop-color="#787878"/><stop offset=".9533" stop-color="#6f6f6f"/><stop offset=".9617" stop-color="#676767"/><stop offset=".97" stop-color="#636363"/><stop offset="1" stop-color="#696969"/></linearGradient>
<linearGradient id="c21" x1="0" y1="0" x2="0" y2="1"><stop offset="0" stop-color="#909090"/><stop offset=".0142" stop-color="#8a8a8a"/><stop offset=".0283" stop-color="#7d7d7d"/><stop offset=".0425" stop-color="#717171"/><stop offset=".0567" stop-color="#6b6b6b"/><stop offset=".1033" stop-color="#717171"/><stop offset=".1533" stop-color="#6d6d6d"/><stop offset=".1867" stop-color="#777777"/><stop offset=".2267" stop-color="#7f7f7f"/><stop offset=".2567" stop-color="#878787"/><stop offset=".3233" stop-color="#909090"/><stop offset=".34" stop-color="#8a8a8a"/><stop offset=".3567" stop-color="#7e7e7e"/><stop offset=".3733" stop-color="#737373"/><stop offset=".39" stop-color="#6d6d6d"/><stop offset=".4025" stop-color="#737373"/><stop offset=".415" stop-color="#808080"/><stop offset=".4275" stop-color="#8e8e8e"/><stop offset=".44" stop-color="#949494"/><stop offset=".4867" stop-color="#8b8b8b"/><stop offset=".5033" stop-color="#909090"/><stop offset=".5433" stop-color="#898989"/><stop offset=".5967" stop-color="#878787"/><stop offset=".6087" stop-color="#858585"/><stop offset=".6247" stop-color="#7e7e7e"/><stop offset=".6367" stop-color="#7b7b7b"/><stop offset=".6667" stop-color="#717171"/><stop offset=".6867" stop-color="#6d6d6d"/><stop offset=".7058" stop-color="#717171"/><stop offset=".725" stop-color="#7a7a7a"/><stop offset=".7442" stop-color="#838383"/><stop offset=".7633" stop-color="#878787"/><stop offset=".7773" stop-color="#848484"/><stop offset=".796" stop-color="#797979"/><stop offset=".81" stop-color="#757575"/><stop offset=".8367" stop-color="#7b7b7b"/><stop offset=".8533" stop-color="#7b7b7b"/><stop offset=".8633" stop-color="#787878"/><stop offset=".8767" stop-color="#707070"/><stop offset=".8867" stop-color="#6d6d6d"/><stop offset=".9367" stop-color="#6b6b6b"/><stop offset=".97" stop-color="#636363"/><stop offset="1" stop-color="#696969"/></linearGradient>
<linearGradient id="c22" x1="0" y1="0" x2="0" y2="1"><stop offset="0" stop-color="#909090"/><stop offset=".0142" stop-color="#8a8a8a"/><stop offset=".0283" stop-color="#7d7d7d"/><stop offset=".0425" stop-color="#717171"/><stop offset=".0567" stop-color="#6b6b6b"/><stop offset=".1033" stop-color="#717171"/><stop offset=".1533" stop-color="#6d6d6d"/><stop offset=".1867" stop-color="#777777"/><stop offset=".1987" stop-color="#747474"/><stop offset=".2147" stop-color="#6b6b6b"/><stop offset=".2267" stop-color="#676767"/><stop offset=".2342" stop-color="#6c6c6c"/><stop offset=".2417" stop-color="#777777"/><stop offset=".2492" stop-color="#828282"/><stop offset=".2567" stop-color="#878787"/><stop offset=".3233" stop-color="#909090"/><stop offset=".34" stop-color="#8a8a8a"/><stop offset=".3567" stop-color="#7e7e7e"/><stop offset=".3733" stop-color="#737373"/><stop offset=".39" stop-color="#6d6d6d"/><stop offset=".3975" stop-color="#717171"/><stop offset=".405" stop-color="#7c7c7c"/><stop offset=".415" stop-color="#8e8e8e"/><stop offset=".425" stop-color="#a1a1a1"/><stop offset=".4325" stop-color="#acacac"/><stop offset=".44" stop-color="#b0b0b0"/><stop offset=".4517" stop-color="#a9a9a9"/><stop offset=".4633" stop-color="#9a9a9a"/><stop offset=".475" stop-color="#8a8a8a"/><stop offset=".4867" stop-color="#838383"/><stop offset=".5033" stop-color="#8b8b8b"/><stop offset=".5433" stop-color="#898989"/><stop offset=".5967" stop-color="#909090"/><stop offset=".6087" stop-color="#8b8b8b"/><stop offset=".6247" stop-color="#808080"/><stop offset=".6367" stop-color="#7b7b7b"/><stop offset=".6667" stop-color="#717171"/><stop offset=".6867" stop-color="#6d6d6d"/><stop offset=".7058" stop-color="#747474"/><stop offset=".725" stop-color="#818181"/><stop offset=".7442" stop-color="#8f8f8f"/><stop offset=".7633" stop-color="#969696"/><stop offset=".775" stop-color="#909090"/><stop offset=".7867" stop-color="#838383"/><stop offset=".7983" stop-color="#777777"/><stop offset=".81" stop-color="#717171"/><stop offset=".8167" stop-color="#757575"/><stop offset=".8233" stop-color="#7e7e7e"/><stop offset=".83" stop-color="#878787"/><stop offset=".8367" stop-color="#8b8b8b"/><stop offset=".8533" stop-color="#838383"/><stop offset=".8633" stop-color="#7f7f7f"/><stop offset=".8767" stop-color="#727272"/><stop offset=".8867" stop-color="#6d6d6d"/><stop offset=".9367" stop-color="#6b6b6b"/><stop offset=".945" stop-color="#676767"/><stop offset=".9533" stop-color="#5f5f5f"/><stop offset=".9617" stop-color="#575757"/><stop offset=".97" stop-color="#535353"/><stop offset=".979" stop-color="#585858"/><stop offset=".991" stop-color="#646464"/><stop offset="1" stop-color="#696969"/></linearGradient>
<linearGradient id="c23" x1="0" y1="0" x2="0" y2="1"><stop offset="0" stop-color="#909090"/><stop offset=".017" stop-color="#8c8c8c"/><stop offset=".0397" stop-color="#838383"/><stop offset=".0567" stop-color="#7f7f7f"/><stop offset=".0707" stop-color="#7c7c7c"/><stop offset=".0893" stop-color="#747474"/><stop offset=".1033" stop-color="#717171"/><stop offset=".1533" stop-color="#6d6d6d"/><stop offset=".1867" stop-color="#777777"/><stop offset=".2267" stop-color="#777777"/><stop offset=".2357" stop-color="#7b7b7b"/><stop offset=".2477" stop-color="#848484"/><stop offset=".2567" stop-color="#878787"/><stop offset=".3233" stop-color="#878787"/><stop offset=".3433" stop-color="#838383"/><stop offset=".37" stop-color="#787878"/><stop offset=".39" stop-color="#737373"/><stop offset=".4025" stop-color="#797979"/><stop offset=".415" stop-color="#858585"/><stop offset=".4275" stop-color="#929292"/><stop offset=".44" stop-color="#989898"/><stop offset=".454" stop-color="#959595"/><stop offset=".4727" stop-color="#8e8e8e"/><stop offset=".4867" stop-color="#8b8b8b"/><stop offset=".5033" stop-color="#8b8b8b"/><stop offset=".5433" stop-color="#898989"/><stop offset=".5967" stop-color="#858585"/><stop offset=".6367" stop-color="#7b7b7b"/><stop offset=".6667" stop-color="#717171"/><stop offset=".6867" stop-color="#6d6d6d"/><stop offset=".7097" stop-color="#727272"/><stop offset=".7403" stop-color="#7f7f7f"/><stop offset=".7633" stop-color="#838383"/><stop offset=".7773" stop-color="#808080"/><stop offset=".796" stop-color="#787878"/><stop offset=".81" stop-color="#747474"/><stop offset=".8367" stop-color="#7d7d7d"/><stop offset=".8533" stop-color="#7b7b7b"/><stop offset=".8867" stop-color="#717171"/><stop offset=".9367" stop-color="#6b6b6b"/><stop offset=".97" stop-color="#636363"/><stop offset="1" stop-color="#696969"/></linearGradient>
<linearGradient id="c24" x1="0" y1="0" x2="0" y2="1"><stop offset="0" stop-color="#9c9c9c"/><stop offset=".0142" stop-color="#979797"/><stop offset=".0283" stop-color="#8d8d8d"/><stop offset=".0425" stop-color="#848484"/><stop offset=".0567" stop-color="#7f7f7f"/><stop offset=".0707" stop-color="#7c7c7c"/><stop offset=".0893" stop-color="#747474"/><stop offset=".1033" stop-color="#717171"/><stop offset=".1533" stop-color="#6d6d6d"/><stop offset=".1867" stop-color="#777777"/><stop offset=".2267" stop-color="#818181"/><stop offset=".2567" stop-color="#838383"/><stop offset=".3233" stop-color="#8b8b8b"/><stop offset=".34" stop-color="#888888"/><stop offset=".3567" stop-color="#7f7f7f"/><stop offset=".3733" stop-color="#777777"/><stop offset=".39" stop-color="#737373"/><stop offset=".4025" stop-color="#797979"/><stop offset=".415" stop-color="#858585"/><stop offset=".4275" stop-color="#929292"/><stop offset=".44" stop-color="#989898"/><stop offset=".454" stop-color="#959595"/><stop offset=".4727" stop-color="#8e8e8e"/><stop offset=".4867" stop-color="#8b8b8b"/><stop offset=".5033" stop-color="#929292"/><stop offset=".5433" stop-color="#8d8d8d"/><stop offset=".5967" stop-color="#838383"/><stop offset=".6367" stop-color="#7d7d7d"/><stop offset=".6457" stop-color="#7b7b7b"/><stop offset=".6577" stop-color="#747474"/><stop offset=".6667" stop-color="#717171"/><stop offset=".6867" stop-color="#6f6f6f"/><stop offset=".7097" stop-color="#727272"/><stop offset=".7403" stop-color="#7a7a7a"/><stop offset=".7633" stop-color="#7d7d7d"/><stop offset=".81" stop-color="#747474"/><stop offset=".8367" stop-color="#7d7d7d"/><stop offset=".8533" stop-color="#7b7b7b"/><stop offset=".8867" stop-color="#717171"/><stop offset=".9367" stop-color="#6b6b6b"/><stop offset=".97" stop-color="#636363"/><stop offset="1" stop-color="#696969"/></linearGradient>
<linearGradient id="c25" x1="0" y1="0" x2="0" y2="1"><stop offset="0" stop-color="#9c9c9c"/><stop offset=".0142" stop-color="#979797"/><stop offset=".0283" stop-color="#8d8d8d"/><stop offset=".0425" stop-color="#848484"/><stop offset=".0567" stop-color="#7f7f7f"/><stop offset=".1033" stop-color="#777777"/><stop offset=".1533" stop-color="#717171"/><stop offset=".1867" stop-color="#777777"/><stop offset=".2267" stop-color="#818181"/><stop offset=".2567" stop-color="#838383"/><stop offset=".3233" stop-color="#8b8b8b"/><stop offset=".34" stop-color="#868686"/><stop offset=".3567" stop-color="#7b7b7b"/><stop offset=".3733" stop-color="#707070"/><stop offset=".39" stop-color="#6b6b6b"/><stop offset=".4025" stop-color="#727272"/><stop offset=".415" stop-color="#818181"/><stop offset=".4275" stop-color="#919191"/><stop offset=".44" stop-color="#989898"/><stop offset=".454" stop-color="#959595"/><stop offset=".4727" stop-color="#8e8e8e"/><stop offset=".4867" stop-color="#8b8b8b"/><stop offset=".5033" stop-color="#929292"/><stop offset=".5433" stop-color="#8d8d8d"/><stop offset=".5967" stop-color="#838383"/><stop offset=".6367" stop-color="#7d7d7d"/><stop offset=".6457" stop-color="#7b7b7b"/><stop offset=".6577" stop-color="#747474"/><stop offset=".6667" stop-color="#717171"/><stop offset=".6867" stop-color="#6f6f6f"/><stop offset=".7097" stop-color="#727272"/><stop offset=".7403" stop-color="#7a7a7a"/><stop offset=".7633" stop-color="#7d7d7d"/><stop offset=".81" stop-color="#747474"/><stop offset=".8367" stop-color="#7d7d7d"/><stop offset=".8533" stop-color="#7b7b7b"/><stop offset=".8867" stop-color="#717171"/><stop offset=".9367" stop-color="#6b6b6b"/><stop offset=".9467" stop-color="#676767"/><stop offset=".96" stop-color="#5b5b5b"/><stop offset=".97" stop-color="#575757"/><stop offset=".979" stop-color="#5b5b5b"/><stop offset=".991" stop-color="#656565"/><stop offset="1" stop-color="#696969"/></linearGradient>
<linearGradient id="c26" x1="0" y1="0" x2="0" y2="1"><stop offset="0" stop-color="#9c9c9c"/><stop offset=".0142" stop-color="#979797"/><stop offset=".0283" stop-color="#8e8e8e"/><stop offset=".0425" stop-color="#868686"/><stop offset=".0567" stop-color="#818181"/><stop offset=".1033" stop-color="#777777"/><stop offset=".1533" stop-color="#717171"/><stop offset=".1867" stop-color="#777777"/><stop offset=".2267" stop-color="#818181"/><stop offset=".2567" stop-color="#838383"/><stop offset=".3233" stop-color="#7f7f7f"/><stop offset=".39" stop-color="#777777"/><stop offset=".4025" stop-color="#7d7d7d"/><stop offset=".415" stop-color="#898989"/><stop offset=".4275" stop-color="#969696"/><stop offset=".44" stop-color="#9c9c9c"/><stop offset=".454" stop-color="#989898"/><stop offset=".4727" stop-color="#8f8f8f"/><stop offset=".4867" stop-color="#8b8b8b"/><stop offset=".5033" stop-color="#929292"/><stop offset=".5433" stop-color="#8d8d8d"/><stop offset=".5967" stop-color="#878787"/><stop offset=".6367" stop-color="#7d7d7d"/><stop offset=".6457" stop-color="#7b7b7b"/><stop offset=".6577" stop-color="#747474"/><stop offset=".6667" stop-color="#717171"/><stop offset=".6867" stop-color="#6f6f6f"/><stop offset=".7097" stop-color="#747474"/><stop offset=".7403" stop-color="#7f7f7f"/><stop offset=".7633" stop-color="#838383"/><stop offset=".7773" stop-color="#808080"/><stop offset=".796" stop-color="#787878"/><stop offset=".81" stop-color="#747474"/><stop offset=".8367" stop-color="#7d7d7d"/><stop offset=".8533" stop-color="#7b7b7b"/><stop offset=".8867" stop-color="#737373"/><stop offset=".9367" stop-color="#6b6b6b"/><stop offset=".97" stop-color="#636363"/><stop offset="1" stop-color="#696969"/></linearGradient>
<linearGradient id="c27" x1="0" y1="0" x2="0" y2="1"><stop offset="0" stop-color="#a0a0a0"/><stop offset=".0142" stop-color="#9b9b9b"/><stop offset=".0283" stop-color="#919191"/><stop offset=".0425" stop-color="#868686"/><stop offset=".0567" stop-color="#818181"/><stop offset=".1033" stop-color="#7f7f7f"/><stop offset=".1183" stop-color="#7c7c7c"/><stop offset=".1383" stop-color="#747474"/><stop offset=".1533" stop-color="#717171"/><stop offset=".1867" stop-color="#7b7b7b"/><stop offset=".2267" stop-color="#838383"/><stop offset=".2567" stop-color="#818181"/><stop offset=".3233" stop-color="#7f7f7f"/><stop offset=".3433" stop-color="#7b7b7b"/><stop offset=".37" stop-color="#707070"/><stop offset=".39" stop-color="#6b6b6b"/><stop offset=".3975" stop-color="#707070"/><stop offset=".405" stop-color="#7b7b7b"/><stop offset=".415" stop-color="#909090"/><stop offset=".425" stop-color="#a4a4a4"/><stop offset=".4325" stop-color="#afafaf"/><stop offset=".44" stop-color="#b4b4b4"/><stop offset=".4517" stop-color="#acacac"/><stop offset=".4633" stop-color="#9c9c9c"/><stop offset=".475" stop-color="#8b8b8b"/><stop offset=".4867" stop-color="#838383"/><stop offset=".5033" stop-color="#898989"/><stop offset=".5433" stop-color="#7f7f7f"/><stop offset=".5567" stop-color="#848484"/><stop offset=".57" stop-color="#909090"/><stop offset=".5833" stop-color="#9b9b9b"/><stop offset=".5967" stop-color="#a0a0a0"/><stop offset=".6087" stop-color="#9b9b9b"/><stop offset=".6247" stop-color="#909090"/><stop offset=".6367" stop-color="#8b8b8b"/><stop offset=".6457" stop-color="#878787"/><stop offset=".6577" stop-color="#7c7c7c"/><stop offset=".6667" stop-color="#777777"/><stop offset=".6867" stop-color="#737373"/><stop offset=".7058" stop-color="#7a7a7a"/><stop offset=".725" stop-color="#898989"/><stop offset=".7442" stop-color="#999999"/><stop offset=".7633" stop-color="#a0a0a0"/><stop offset=".775" stop-color="#989898"/><stop offset=".7867" stop-color="#888888"/><stop offset=".7983" stop-color="#797979"/><stop offset=".81" stop-color="#717171"/><stop offset=".818" stop-color="#747474"/><stop offset=".8287" stop-color="#7b7b7b"/><stop offset=".8367" stop-color="#7d7d7d"/><stop offset=".8533" stop-color="#7b7b7b"/><stop offset=".8867" stop-color="#737373"/><stop offset=".9367" stop-color="#6b6b6b"/><stop offset=".97" stop-color="#636363"/><stop offset="1" stop-color="#696969"/></linearGradient>
<linearGradient id="c28" x1="0" y1="0" x2="0" y2="1"><stop offset="0" stop-color="#b4b4b4"/><stop offset=".0085" stop-color="#b0b0b0"/><stop offset=".017" stop-color="#a7a7a7"/><stop offset=".0283" stop-color="#969696"/><stop offset=".0397" stop-color="#848484"/><stop offset=".0482" stop-color="#7b7b7b"/><stop offset=".0567" stop-color="#777777"/><stop offset=".1033" stop-color="#737373"/><stop offset=".1533" stop-color="#7b7b7b"/><stop offset=".1633" stop-color="#777777"/><stop offset=".1767" stop-color="#6c6c6c"/><stop offset=".1867" stop-color="#676767"/><stop offset=".1967" stop-color="#6b6b6b"/><stop offset=".2067" stop-color="#737373"/><stop offset=".2167" stop-color="#7c7c7c"/><stop offset=".2267" stop-color="#7f7f7f"/><stop offset=".2357" stop-color="#828282"/><stop offset=".2477" stop-color="#898989"/><stop offset=".2567" stop-color="#8b8b8b"/><stop offset=".3233" stop-color="#8b8b8b"/><stop offset=".3433" stop-color="#898989"/><stop offset=".37" stop-color="#828282"/><stop offset=".39" stop-color="#7f7f7f"/><stop offset=".3975" stop-color="#838383"/><stop offset=".405" stop-color="#8b8b8b"/><stop offset=".415" stop-color="#9a9a9a"/><stop offset=".425" stop-color="#a8a8a8"/><stop offset=".4325" stop-color="#b1b1b1"/><stop offset=".44" stop-color="#b4b4b4"/><stop offset=".4517" stop-color="#aeaeae"/><stop offset=".4633" stop-color="#a2a2a2"/><stop offset=".475" stop-color="#959595"/><stop offset=".4867" stop-color="#909090"/><stop offset=".5033" stop-color="#969696"/><stop offset=".5153" stop-color="#919191"/><stop offset=".5313" stop-color="#848484"/><stop offset=".5433" stop-color="#7f7f7f"/><stop offset=".5593" stop-color="#838383"/><stop offset=".5807" stop-color="#8c8c8c"/><stop offset=".5967" stop-color="#909090"/><stop offset=".6087" stop-color="#8c8c8c"/><stop offset=".6247" stop-color="#848484"/><stop offset=".6367" stop-color="#818181"/><stop offset=".6457" stop-color="#7d7d7d"/><stop offset=".6577" stop-color="#727272"/><stop offset=".6667" stop-color="#6d6d6d"/><stop offset=".6867" stop-color="#6f6f6f"/><stop offset=".7058" stop-color="#737373"/><stop offset=".725" stop-color="#7b7b7b"/><stop offset=".7442" stop-color="#848484"/><stop offset=".7633" stop-color="#878787"/><stop offset=".775" stop-color="#828282"/><stop offset=".7867" stop-color="#777777"/><stop offset=".7983" stop-color="#6c6c6c"/><stop offset=".81" stop-color="#676767"/><stop offset=".818" stop-color="#6c6c6c"/><stop offset=".8287" stop-color="#797979"/><stop offset=".8367" stop-color="#7d7d7d"/><stop offset=".8533" stop-color="#818181"/><stop offset=".8633" stop-color="#848484"/><stop offset=".8767" stop-color="#8c8c8c"/><stop offset=".8867" stop-color="#909090"/><stop offset=".8992" stop-color="#8a8a8a"/><stop offset=".9117" stop-color="#7d7d7d"/><stop offset=".9242" stop-color="#717171"/><stop offset=".9367" stop-color="#6b6b6b"/><stop offset=".945" stop-color="#676767"/><stop offset=".9533" stop-color="#5d5d5d"/><stop offset=".9617" stop-color="#535353"/><stop offset=".97" stop-color="#4f4f4f"/><stop offset=".9775" stop-color="#535353"/><stop offset=".985" stop-color="#5c5c5c"/><stop offset=".9925" stop-color="#656565"/><stop offset="1" stop-color="#696969"/></linearGradient>
<linearGradient id="c29" x1="0" y1="0" x2="0" y2="1"><stop offset="0" stop-color="#a0a0a0"/><stop offset=".0085" stop-color="#9c9c9c"/><stop offset=".017" stop-color="#939393"/><stop offset=".0283" stop-color="#818181"/><stop offset=".0397" stop-color="#707070"/><stop offset=".0482" stop-color="#676767"/><stop offset=".0567" stop-color="#636363"/><stop offset=".0707" stop-color="#676767"/><stop offset=".0893" stop-color="#707070"/><stop offset=".1033" stop-color="#737373"/><stop offset=".1158" stop-color="#777777"/><stop offset=".1283" stop-color="#7f7f7f"/><stop offset=".1408" stop-color="#888888"/><stop offset=".1533" stop-color="#8b8b8b"/><stop offset=".1617" stop-color="#868686"/><stop offset=".17" stop-color="#797979"/><stop offset=".1783" stop-color="#6d6d6d"/><stop offset=".1867" stop-color="#676767"/><stop offset=".1967" stop-color="#6c6c6c"/><stop offset=".2067" stop-color="#777777"/><stop offset=".2167" stop-color="#828282"/><stop offset=".2267" stop-color="#878787"/><stop offset=".2567" stop-color="#878787"/><stop offset=".3233" stop-color="#8b8b8b"/><stop offset=".3433" stop-color="#898989"/><stop offset=".37" stop-color="#828282"/><stop offset=".39" stop-color="#7f7f7f"/><stop offset=".3975" stop-color="#838383"/><stop offset=".405" stop-color="#8b8b8b"/><stop offset=".415" stop-color="#9a9a9a"/><stop offset=".425" stop-color="#a8a8a8"/><stop offset=".4325" stop-color="#b1b1b1"/><stop offset=".44" stop-color="#b4b4b4"/><stop offset=".4517" stop-color="#aeaeae"/><stop offset=".4633" stop-color="#a2a2a2"/><stop offset=".475" stop-color="#959595"/><stop offset=".4867" stop-color="#909090"/><stop offset=".5033" stop-color="#969696"/><stop offset=".5433" stop-color="#8b8b8b"/><stop offset=".5967" stop-color="#949494"/><stop offset=".6087" stop-color="#909090"/><stop offset=".6247" stop-color="#858585"/><stop offset=".6367" stop-color="#818181"/><stop offset=".6457" stop-color="#7d7d7d"/><stop offset=".6577" stop-color="#727272"/><stop offset=".6667" stop-color="#6d6d6d"/><stop offset=".6867" stop-color="#6f6f6f"/><stop offset=".7058" stop-color="#757575"/><stop offset=".725" stop-color="#818181"/><stop offset=".7442" stop-color="#8e8e8e"/><stop offset=".7633" stop-color="#949494"/><stop offset=".7703" stop-color="#8f8f8f"/><stop offset=".7773" stop-color="#858585"/><stop offset=".7867" stop-color="#717171"/><stop offset=".796" stop-color="#5e5e5e"/><stop offset=".803" stop-color="#535353"/><stop offset=".81" stop-color="#4f4f4f"/><stop offset=".814" stop-color="#535353"/><stop offset=".818" stop-color="#5c5c5c"/><stop offset=".8233" stop-color="#6d6d6d"/><stop offset=".8287" stop-color="#7e7e7e"/><stop offset=".8327" stop-color="#888888"/><stop offset=".8367" stop-color="#8b8b8b"/><stop offset=".8533" stop-color="#818181"/><stop offset=".8867" stop-color="#838383"/><stop offset=".8992" stop-color="#7f7f7f"/><stop offset=".9117" stop-color="#757575"/><stop offset=".9242" stop-color="#6c6c6c"/><stop offset=".9367" stop-color="#676767"/><stop offset=".945" stop-color="#636363"/><stop offset=".9533" stop-color="#5b5b5b"/><stop offset=".9617" stop-color="#535353"/><stop offset=".97" stop-color="#4f4f4f"/><stop offset=".9775" stop-color="#535353"/><stop offset=".985" stop-color="#5c5c5c"/><stop offset=".9925" stop-color="#656565"/><stop offset="1" stop-color="#696969"/></linearGradient>
<linearGradient id="c30" x1="0" y1="0" x2="0" y2="1"><stop offset="0" stop-color="#a0a0a0"/><stop offset=".0142" stop-color="#989898"/><stop offset=".0283" stop-color="#888888"/><stop offset=".0425" stop-color="#797979"/><stop offset=".0567" stop-color="#717171"/><stop offset=".1033" stop-color="#777777"/><stop offset=".1533" stop-color="#7b7b7b"/><stop offset=".1867" stop-color="#7b7b7b"/><stop offset=".2267" stop-color="#838383"/><stop offset=".2567" stop-color="#838383"/><stop offset=".3233" stop-color="#838383"/><stop offset=".39" stop-color="#7f7f7f"/><stop offset=".4025" stop-color="#848484"/><stop offset=".415" stop-color="#8d8d8d"/><stop offset=".4275" stop-color="#979797"/><stop offset=".44" stop-color="#9c9c9c"/><stop offset=".454" stop-color="#999999"/><stop offset=".4727" stop-color="#929292"/><stop offset=".4867" stop-color="#909090"/><stop offset=".5033" stop-color="#969696"/><stop offset=".5433" stop-color="#929292"/><stop offset=".5967" stop-color="#878787"/><stop offset=".6367" stop-color="#7f7f7f"/><stop offset=".6667" stop-color="#777777"/><stop offset=".6867" stop-color="#777777"/><stop offset=".7097" stop-color="#7a7a7a"/><stop offset=".7403" stop-color="#818181"/><stop offset=".7633" stop-color="#838383"/><stop offset=".7773" stop-color="#7f7f7f"/><stop offset=".796" stop-color="#727272"/><stop offset=".81" stop-color="#6d6d6d"/><stop offset=".818" stop-color="#717171"/><stop offset=".8287" stop-color="#7a7a7a"/><stop offset=".8367" stop-color="#7d7d7d"/><stop offset=".8533" stop-color="#7d7d7d"/><stop offset=".8867" stop-color="#777777"/><stop offset=".9017" stop-color="#757575"/><stop offset=".9217" stop-color="#6e6e6e"/><stop offset=".9367" stop-color="#6b6b6b"/><stop offset=".9467" stop-color="#696969"/><stop offset=".96" stop-color="#626262"/><stop offset=".97" stop-color="#5f5f5f"/><stop offset="1" stop-color="#696969"/></linearGradient>
<linearGradient id="c31" x1="0" y1="0" x2="0" y2="1"><stop offset="0" stop-color="#bababa"/><stop offset=".0085" stop-color="#b6b6b6"/><stop offset=".017" stop-color="#aeaeae"/><stop offset=".0283" stop-color="#9e9e9e"/><stop offset=".0397" stop-color="#8e8e8e"/><stop offset=".0482" stop-color="#858585"/><stop offset=".0567" stop-color="#818181"/><stop offset=".1033" stop-color="#777777"/><stop offset=".1533" stop-color="#717171"/><stop offset=".1867" stop-color="#7b7b7b"/><stop offset=".2267" stop-color="#838383"/><stop offset=".2567" stop-color="#8b8b8b"/><stop offset=".3233" stop-color="#878787"/><stop offset=".39" stop-color="#878787"/><stop offset=".405" stop-color="#8b8b8b"/><stop offset=".425" stop-color="#969696"/><stop offset=".44" stop-color="#9a9a9a"/><stop offset=".4867" stop-color="#909090"/><stop offset=".4917" stop-color="#939393"/><stop offset=".4983" stop-color="#9b9b9b"/><stop offset=".5033" stop-color="#9e9e9e"/><stop offset=".5153" stop-color="#9b9b9b"/><stop offset=".5313" stop-color="#949494"/><stop offset=".5433" stop-color="#929292"/><stop offset=".5967" stop-color="#878787"/><stop offset=".6367" stop-color="#7f7f7f"/><stop offset=".6667" stop-color="#777777"/><stop offset=".6867" stop-color="#777777"/><stop offset=".7097" stop-color="#7c7c7c"/><stop offset=".7403" stop-color="#878787"/><stop offset=".7633" stop-color="#8b8b8b"/><stop offset=".775" stop-color="#868686"/><stop offset=".7867" stop-color="#7b7b7b"/><stop offset=".7983" stop-color="#707070"/><stop offset=".81" stop-color="#6b6b6b"/><stop offset=".818" stop-color="#6f6f6f"/><stop offset=".8287" stop-color="#797979"/><stop offset=".8367" stop-color="#7d7d7d"/><stop offset=".8533" stop-color="#7d7d7d"/><stop offset=".8867" stop-color="#777777"/><stop offset=".9017" stop-color="#757575"/><stop offset=".9217" stop-color="#6e6e6e"/><stop offset=".9367" stop-color="#6b6b6b"/><stop offset=".9467" stop-color="#696969"/><stop offset=".96" stop-color="#626262"/><stop offset=".97" stop-color="#5f5f5f"/><stop offset="1" stop-color="#696969"/></linearGradient>
<linearGradient id="c32" x1="0" y1="0" x2="0" y2="1"><stop offset="0" stop-color="#d2d2d2"/><stop offset=".0085" stop-color="#cdcdcd"/><stop offset=".017" stop-color="#c1c1c1"/><stop offset=".0283" stop-color="#aaaaaa"/><stop offset=".0397" stop-color="#939393"/><stop offset=".0482" stop-color="#868686"/><stop offset=".0567" stop-color="#818181"/><stop offset=".1033" stop-color="#7f7f7f"/><stop offset=".1183" stop-color="#7c7c7c"/><stop offset=".1383" stop-color="#747474"/><stop offset=".1533" stop-color="#717171"/><stop offset=".1867" stop-color="#7b7b7b"/><stop offset=".2267" stop-color="#838383"/><stop offset=".2567" stop-color="#8b8b8b"/><stop offset=".2767" stop-color="#898989"/><stop offset=".3033" stop-color="#828282"/><stop offset=".3233" stop-color="#7f7f7f"/><stop offset=".3433" stop-color="#848484"/><stop offset=".37" stop-color="#8f8f8f"/><stop offset=".39" stop-color="#949494"/><stop offset=".405" stop-color="#969696"/><stop offset=".425" stop-color="#9d9d9d"/><stop offset=".44" stop-color="#a0a0a0"/><stop offset=".4517" stop-color="#9c9c9c"/><stop offset=".4633" stop-color="#949494"/><stop offset=".475" stop-color="#8b8b8b"/><stop offset=".4867" stop-color="#878787"/><stop offset=".4917" stop-color="#8c8c8c"/><stop offset=".4983" stop-color="#999999"/><stop offset=".5033" stop-color="#9e9e9e"/><stop offset=".5133" stop-color="#9a9a9a"/><stop offset=".5233" stop-color="#929292"/><stop offset=".5333" stop-color="#898989"/><stop offset=".5433" stop-color="#858585"/><stop offset=".5967" stop-color="#878787"/><stop offset=".6367" stop-color="#7f7f7f"/><stop offset=".6667" stop-color="#777777"/><stop offset=".6727" stop-color="#747474"/><stop offset=".6807" stop-color="#6b6b6b"/><stop offset=".6867" stop-color="#676767"/><stop offset=".6982" stop-color="#6c6c6c"/><stop offset=".7097" stop-color="#787878"/><stop offset=".725" stop-color="#8d8d8d"/><stop offset=".7403" stop-color="#a3a3a3"/><stop offset=".7518" stop-color="#afafaf"/><stop offset=".7633" stop-color="#b4b4b4"/><stop offset=".7703" stop-color="#aeaeae"/><stop offset=".7773" stop-color="#a1a1a1"/><stop offset=".7867" stop-color="#878787"/><stop offset=".796" stop-color="#6e6e6e"/><stop offset=".803" stop-color="#616161"/><stop offset=".81" stop-color="#5b5b5b"/><stop offset=".814" stop-color="#5e5e5e"/><stop offset=".818" stop-color="#666666"/><stop offset=".8233" stop-color="#757575"/><stop offset=".8287" stop-color="#848484"/><stop offset=".8327" stop-color="#8c8c8c"/><stop offset=".8367" stop-color="#909090"/><stop offset=".8417" stop-color="#8c8c8c"/><stop offset=".8483" stop-color="#848484"/><stop offset=".8533" stop-color="#818181"/><stop offset=".8867" stop-color="#777777"/><stop offset=".9017" stop-color="#757575"/><stop offset=".9217" stop-color="#6e6e6e"/><stop offset=".9367" stop-color="#6b6b6b"/><stop offset=".945" stop-color="#676767"/><stop offset=".9533" stop-color="#5d5d5d"/><stop offset=".9617" stop-color="#535353"/><stop offset=".97" stop-color="#4f4f4f"/><stop offset=".9775" stop-color="#535353"/><stop offset=".985" stop-color="#5c5c5c"/><stop offset=".9925" stop-color="#656565"/><stop offset="1" stop-color="#696969"/></linearGradient>
<linearGradient id="c33" x1="0" y1="0" x2="0" y2="1"><stop offset="0" stop-color="#dcdcdc"/><stop offset=".0085" stop-color="#d8d8d8"/><stop offset=".017" stop-color="#cdcdcd"/><stop offset=".0283" stop-color="#b9b9b9"/><stop offset=".0397" stop-color="#a5a5a5"/><stop offset=".0482" stop-color="#9a9a9a"/><stop offset=".0567" stop-color="#969696"/><stop offset=".0683" stop-color="#8f8f8f"/><stop offset=".08" stop-color="#818181"/><stop offset=".0917" stop-color="#747474"/><stop offset=".1033" stop-color="#6d6d6d"/><stop offset=".1533" stop-color="#717171"/><stop offset=".1867" stop-color="#777777"/><stop offset=".2267" stop-color="#7f7f7f"/><stop offset=".2567" stop-color="#878787"/><stop offset=".2767" stop-color="#8b8b8b"/><stop offset=".3033" stop-color="#969696"/><stop offset=".3233" stop-color="#9a9a9a"/><stop offset=".3433" stop-color="#969696"/><stop offset=".37" stop-color="#8b8b8b"/><stop offset=".39" stop-color="#878787"/><stop offset=".4025" stop-color="#8c8c8c"/><stop offset=".415" stop-color="#969696"/><stop offset=".4275" stop-color="#9f9f9f"/><stop offset=".44" stop-color="#a4a4a4"/><stop offset=".454" stop-color="#9f9f9f"/><stop offset=".4727" stop-color="#949494"/><stop offset=".4867" stop-color="#909090"/><stop offset=".5033" stop-color="#969696"/><stop offset=".5433" stop-color="#8d8d8d"/><stop offset=".5967" stop-color="#878787"/><stop offset=".6367" stop-color="#7f7f7f"/><stop offset=".6667" stop-color="#777777"/><stop offset=".6867" stop-color="#737373"/><stop offset=".7058" stop-color="#777777"/><stop offset=".725" stop-color="#7f7f7f"/><stop offset=".7442" stop-color="#888888"/><stop offset=".7633" stop-color="#8b8b8b"/><stop offset=".775" stop-color="#878787"/><stop offset=".7867" stop-color="#7c7c7c"/><stop offset=".7983" stop-color="#727272"/><stop offset=".81" stop-color="#6d6d6d"/><stop offset=".818" stop-color="#717171"/><stop offset=".8287" stop-color="#7b7b7b"/><stop offset=".8367" stop-color="#7f7f7f"/><stop offset=".8533" stop-color="#7f7f7f"/><stop offset=".8867" stop-color="#7d7d7d"/><stop offset=".9017" stop-color="#7a7a7a"/><stop offset=".9217" stop-color="#717171"/><stop offset=".9367" stop-color="#6d6d6d"/><stop offset=".9467" stop-color="#6a6a6a"/><stop offset=".96" stop-color="#626262"/><stop offset=".97" stop-color="#5f5f5f"/><stop offset="1" stop-color="#696969"/></linearGradient>
<linearGradient id="c34" x1="0" y1="0" x2="0" y2="1"><stop offset="0" stop-color="#e2e2e2"/><stop offset=".0085" stop-color="#dbdbdb"/><stop offset=".017" stop-color="#c9c9c9"/><stop offset=".0283" stop-color="#a8a8a8"/><stop offset=".0397" stop-color="#868686"/><stop offset=".0482" stop-color="#747474"/><stop offset=".0567" stop-color="#6d6d6d"/><stop offset=".1033" stop-color="#6d6d6d"/><stop offset=".1533" stop-color="#717171"/><stop offset=".1867" stop-color="#777777"/><stop offset=".2267" stop-color="#6f6f6f"/><stop offset=".2342" stop-color="#747474"/><stop offset=".2417" stop-color="#7f7f7f"/><stop offset=".2492" stop-color="#8a8a8a"/><stop offset=".2567" stop-color="#909090"/><stop offset=".3233" stop-color="#9a9a9a"/><stop offset=".34" stop-color="#949494"/><stop offset=".3567" stop-color="#868686"/><stop offset=".3733" stop-color="#797979"/><stop offset=".39" stop-color="#737373"/><stop offset=".3975" stop-color="#787878"/><stop offset=".405" stop-color="#868686"/><stop offset=".415" stop-color="#9e9e9e"/><stop offset=".425" stop-color="#b6b6b6"/><stop offset=".4325" stop-color="#c3c3c3"/><stop offset=".44" stop-color="#c8c8c8"/><stop offset=".447" stop-color="#c4c4c4"/><stop offset=".454" stop-color="#bcbcbc"/><stop offset=".4633" stop-color="#acacac"/><stop offset=".4727" stop-color="#9c9c9c"/><stop offset=".4797" stop-color="#939393"/><stop offset=".4867" stop-color="#909090"/><stop offset=".5033" stop-color="#969696"/><stop offset=".5433" stop-color="#898989"/><stop offset=".5967" stop-color="#909090"/><stop offset=".6367" stop-color="#878787"/><stop offset=".6457" stop-color="#848484"/><stop offset=".6577" stop-color="#7b7b7b"/><stop offset=".6667" stop-color="#777777"/><stop offset=".6867" stop-color="#737373"/><stop offset=".7097" stop-color="#777777"/><stop offset=".7403" stop-color="#808080"/><stop offset=".7633" stop-color="#838383"/><stop offset=".775" stop-color="#7f7f7f"/><stop offset=".7867" stop-color="#757575"/><stop offset=".7983" stop-color="#6c6c6c"/><stop offset=".81" stop-color="#676767"/><stop offset=".8167" stop-color="#6b6b6b"/><stop offset=".8233" stop-color="#737373"/><stop offset=".83" stop-color="#7c7c7c"/><stop offset=".8367" stop-color="#7f7f7f"/><stop offset=".8533" stop-color="#7f7f7f"/><stop offset=".8867" stop-color="#7d7d7d"/><stop offset=".9017" stop-color="#7a7a7a"/><stop offset=".9217" stop-color="#717171"/><stop offset=".9367" stop-color="#6d6d6d"/><stop offset=".945" stop-color="#696969"/><stop offset=".9533" stop-color="#606060"/><stop offset=".9617" stop-color="#575757"/><stop offset=".97" stop-color="#535353"/><stop offset=".979" stop-color="#585858"/><stop offset=".991" stop-color="#646464"/><stop offset="1" stop-color="#696969"/></linearGradient>
<linearGradient id="c35" x1="0" y1="0" x2="0" y2="1"><stop offset="0" stop-color="#d4d4d4"/><stop offset=".0085" stop-color="#cecece"/><stop offset=".017" stop-color="#bebebe"/><stop offset=".0283" stop-color="#a1a1a1"/><stop offset=".0397" stop-color="#838383"/><stop offset=".0482" stop-color="#747474"/><stop offset=".0567" stop-color="#6d6d6d"/><stop offset=".1033" stop-color="#6d6d6d"/><stop offset=".1533" stop-color="#717171"/><stop offset=".1867" stop-color="#777777"/><stop offset=".2267" stop-color="#777777"/><stop offset=".2357" stop-color="#7c7c7c"/><stop offset=".2477" stop-color="#878787"/><stop offset=".2567" stop-color="#8b8b8b"/><stop offset=".3233" stop-color="#949494"/><stop offset=".3433" stop-color="#919191"/><stop offset=".37" stop-color="#8a8a8a"/><stop offset=".39" stop-color="#878787"/><stop offset=".3975" stop-color="#8b8b8b"/><stop offset=".405" stop-color="#929292"/><stop offset=".415" stop-color="#a1a1a1"/><stop offset=".425" stop-color="#afafaf"/><stop offset=".4325" stop-color="#b7b7b7"/><stop offset=".44" stop-color="#bababa"/><stop offset=".4517" stop-color="#b3b3b3"/><stop offset=".4633" stop-color="#a5a5a5"/><stop offset=".475" stop-color="#969696"/><stop offset=".4867" stop-color="#909090"/><stop offset=".5033" stop-color="#969696"/><stop offset=".5433" stop-color="#929292"/><stop offset=".5967" stop-color="#9a9a9a"/><stop offset=".6087" stop-color="#969696"/><stop offset=".6247" stop-color="#8b8b8b"/><stop offset=".6367" stop-color="#878787"/><stop offset=".6442" stop-color="#838383"/><stop offset=".6517" stop-color="#7a7a7a"/><stop offset=".6592" stop-color="#717171"/><stop offset=".6667" stop-color="#6d6d6d"/><stop offset=".6867" stop-color="#676767"/><stop offset=".7058" stop-color="#6d6d6d"/><stop offset=".725" stop-color="#797979"/><stop offset=".7442" stop-color="#868686"/><stop offset=".7633" stop-color="#8b8b8b"/><stop offset=".775" stop-color="#878787"/><stop offset=".7867" stop-color="#7e7e7e"/><stop offset=".7983" stop-color="#757575"/><stop offset=".81" stop-color="#717171"/><stop offset=".818" stop-color="#747474"/><stop offset=".8287" stop-color="#7c7c7c"/><stop offset=".8367" stop-color="#7f7f7f"/><stop offset=".8533" stop-color="#7f7f7f"/><stop offset=".8867" stop-color="#7d7d7d"/><stop offset=".9017" stop-color="#7a7a7a"/><stop offset=".9217" stop-color="#717171"/><stop offset=".9367" stop-color="#6d6d6d"/><stop offset=".945" stop-color="#696969"/><stop offset=".9533" stop-color="#606060"/><stop offset=".9617" stop-color="#575757"/><stop offset=".97" stop-color="#535353"/><stop offset=".979" stop-color="#585858"/><stop offset=".991" stop-color="#646464"/><stop offset="1" stop-color="#696969"/></linearGradient>
<linearGradient id="c36" x1="0" y1="0" x2="0" y2="1"><stop offset="0" stop-color="#cccccc"/><stop offset=".0085" stop-color="#c7c7c7"/><stop offset=".017" stop-color="#bbbbbb"/><stop offset=".0283" stop-color="#a5a5a5"/><stop offset=".0397" stop-color="#8e8e8e"/><stop offset=".0482" stop-color="#828282"/><stop offset=".0567" stop-color="#7d7d7d"/><stop offset=".1033" stop-color="#777777"/><stop offset=".1533" stop-color="#6f6f6f"/><stop offset=".1867" stop-color="#777777"/><stop offset=".2267" stop-color="#777777"/><stop offset=".2567" stop-color="#7f7f7f"/><stop offset=".3233" stop-color="#878787"/><stop offset=".39" stop-color="#878787"/><stop offset=".4025" stop-color="#8e8e8e"/><stop offset=".415" stop-color="#9c9c9c"/><stop offset=".4275" stop-color="#a9a9a9"/><stop offset=".44" stop-color="#b0b0b0"/><stop offset=".4517" stop-color="#ababab"/><stop offset=".4633" stop-color="#a1a1a1"/><stop offset=".475" stop-color="#969696"/><stop offset=".4867" stop-color="#929292"/><stop offset=".5033" stop-color="#989898"/><stop offset=".5433" stop-color="#989898"/><stop offset=".5967" stop-color="#a0a0a0"/><stop offset=".6067" stop-color="#9c9c9c"/><stop offset=".6167" stop-color="#949494"/><stop offset=".6267" stop-color="#8b8b8b"/><stop offset=".6367" stop-color="#878787"/><stop offset=".6457" stop-color="#848484"/><stop offset=".6577" stop-color="#7b7b7b"/><stop offset=".6667" stop-color="#777777"/><stop offset=".6867" stop-color="#737373"/><stop offset=".6982" stop-color="#777777"/><stop offset=".7097" stop-color="#7f7f7f"/><stop offset=".725" stop-color="#8e8e8e"/><stop offset=".7403" stop-color="#9e9e9e"/><stop offset=".7518" stop-color="#a6a6a6"/><stop offset=".7633" stop-color="#aaaaaa"/><stop offset=".7703" stop-color="#a5a5a5"/><stop offset=".7773" stop-color="#9a9a9a"/><stop offset=".7867" stop-color="#868686"/><stop offset=".796" stop-color="#727272"/><stop offset=".803" stop-color="#686868"/><stop offset=".81" stop-color="#636363"/><stop offset=".8167" stop-color="#686868"/><stop offset=".8233" stop-color="#717171"/><stop offset=".83" stop-color="#7b7b7b"/><stop offset=".8367" stop-color="#7f7f7f"/><stop offset=".8533" stop-color="#7d7d7d"/><stop offset=".8867" stop-color="#7b7b7b"/><stop offset=".9017" stop-color="#787878"/><stop offset=".9217" stop-color="#6f6f6f"/><stop offset=".9367" stop-color="#6b6b6b"/><stop offset=".945" stop-color="#676767"/><stop offset=".9533" stop-color="#5f5f5f"/><stop offset=".9617" stop-color="#575757"/><stop offset=".97" stop-color="#535353"/><stop offset=".979" stop-color="#585858"/><stop offset=".991" stop-color="#646464"/><stop offset="1" stop-color="#696969"/></linearGradient>
<linearGradient id="c37" x1="0" y1="0" x2="0" y2="1"><stop offset="0" stop-color="#dcdcdc"/><stop offset=".0085" stop-color="#d7d7d7"/><stop offset=".017" stop-color="#cacaca"/><stop offset=".0283" stop-color="#b2b2b2"/><stop offset=".0397" stop-color="#9a9a9a"/><stop offset=".0482" stop-color="#8d8d8d"/><stop offset=".0567" stop-color="#878787"/><stop offset=".0683" stop-color="#838383"/><stop offset=".08" stop-color="#7a7a7a"/><stop offset=".0917" stop-color="#717171"/><stop offset=".1033" stop-color="#6d6d6d"/><stop offset=".1533" stop-color="#6f6f6f"/><stop offset=".1867" stop-color="#777777"/><stop offset=".2267" stop-color="#777777"/><stop offset=".2567" stop-color="#7f7f7f"/><stop offset=".2767" stop-color="#848484"/><stop offset=".3033" stop-color="#8f8f8f"/><stop offset=".3233" stop-color="#949494"/><stop offset=".3433" stop-color="#919191"/><stop offset=".37" stop-color="#8a8a8a"/><stop offset=".39" stop-color="#878787"/><stop offset=".4025" stop-color="#8b8b8b"/><stop offset=".415" stop-color="#949494"/><stop offset=".4275" stop-color="#9c9c9c"/><stop offset=".44" stop-color="#a0a0a0"/><stop offset=".454" stop-color="#9d9d9d"/><stop offset=".4727" stop-color="#959595"/><stop offset=".4867" stop-color="#929292"/><stop offset=".5033" stop-color="#989898"/><stop offset=".5433" stop-color="#989898"/><stop offset=".5967" stop-color="#929292"/><stop offset=".6087" stop-color="#8e8e8e"/><stop offset=".6247" stop-color="#868686"/><stop offset=".6367" stop-color="#838383"/><stop offset=".6457" stop-color="#818181"/><stop offset=".6577" stop-color="#7a7a7a"/><stop offset=".6667" stop-color="#777777"/><stop offset=".6867" stop-color="#737373"/><stop offset=".7058" stop-color="#777777"/><stop offset=".725" stop-color="#7f7f7f"/><stop offset=".7442" stop-color="#888888"/><stop offset=".7633" stop-color="#8b8b8b"/><stop offset=".775" stop-color="#878787"/><stop offset=".7867" stop-color="#7c7c7c"/><stop offset=".7983" stop-color="#727272"/><stop offset=".81" stop-color="#6d6d6d"/><stop offset=".818" stop-color="#717171"/><stop offset=".8287" stop-color="#7b7b7b"/><stop offset=".8367" stop-color="#7f7f7f"/><stop offset=".8533" stop-color="#7d7d7d"/><stop offset=".8867" stop-color="#7b7b7b"/><stop offset=".9017" stop-color="#787878"/><stop offset=".9217" stop-color="#6f6f6f"/><stop offset=".9367" stop-color="#6b6b6b"/><stop offset=".9467" stop-color="#696969"/><stop offset=".96" stop-color="#626262"/><stop offset=".97" stop-color="#5f5f5f"/><stop offset="1" stop-color="#696969"/></linearGradient>
<linearGradient id="c38" x1="0" y1="0" x2="0" y2="1"><stop offset="0" stop-color="#e2e2e2"/><stop offset=".0085" stop-color="#dbdbdb"/><stop offset=".017" stop-color="#c9c9c9"/><stop offset=".0283" stop-color="#a8a8a8"/><stop offset=".0397" stop-color="#868686"/><stop offset=".0482" stop-color="#747474"/><stop offset=".0567" stop-color="#6d6d6d"/><stop offset=".1033" stop-color="#6d6d6d"/><stop offset=".1533" stop-color="#6f6f6f"/><stop offset=".1867" stop-color="#6b6b6b"/><stop offset=".2267" stop-color="#6f6f6f"/><stop offset=".2567" stop-color="#777777"/><stop offset=".2733" stop-color="#7c7c7c"/><stop offset=".29" stop-color="#858585"/><stop offset=".3067" stop-color="#8f8f8f"/><stop offset=".3233" stop-color="#949494"/><stop offset=".34" stop-color="#8e8e8e"/><stop offset=".3567" stop-color="#818181"/><stop offset=".3733" stop-color="#757575"/><stop offset=".39" stop-color="#6f6f6f"/><stop offset=".3975" stop-color="#747474"/><stop offset=".405" stop-color="#7f7f7f"/><stop offset=".415" stop-color="#949494"/><stop offset=".425" stop-color="#a8a8a8"/><stop offset=".4325" stop-color="#b3b3b3"/><stop offset=".44" stop-color="#b8b8b8"/><stop offset=".4517" stop-color="#b2b2b2"/><stop offset=".4633" stop-color="#a5a5a5"/><stop offset=".475" stop-color="#979797"/><stop offset=".4867" stop-color="#929292"/><stop offset=".5033" stop-color="#989898"/><stop offset=".5153" stop-color="#959595"/><stop offset=".5313" stop-color="#8e8e8e"/><stop offset=".5433" stop-color="#8b8b8b"/><stop offset=".5593" stop-color="#8f8f8f"/><stop offset=".5807" stop-color="#9a9a9a"/><stop offset=".5967" stop-color="#9e9e9e"/><stop offset=".6067" stop-color="#9a9a9a"/><stop offset=".6167" stop-color="#919191"/><stop offset=".6267" stop-color="#888888"/><stop offset=".6367" stop-color="#838383"/><stop offset=".6457" stop-color="#7f7f7f"/><stop offset=".6577" stop-color="#727272"/><stop offset=".6667" stop-color="#6d6d6d"/><stop offset=".6867" stop-color="#636363"/><stop offset=".6982" stop-color="#676767"/><stop offset=".7097" stop-color="#6f6f6f"/><stop offset=".725" stop-color="#7f7f7f"/><stop offset=".7403" stop-color="#8f8f8f"/><stop offset=".7518" stop-color="#989898"/><stop offset=".7633" stop-color="#9c9c9c"/><stop offset=".7703" stop-color="#989898"/><stop offset=".7773" stop-color="#8f8f8f"/><stop offset=".7867" stop-color="#7f7f7f"/><stop offset=".796" stop-color="#6f6f6f"/><stop offset=".803" stop-color="#676767"/><stop offset=".81" stop-color="#636363"/><stop offset=".8167" stop-color="#696969"/><stop offset=".8233" stop-color="#757575"/><stop offset=".83" stop-color="#828282"/><stop offset=".8367" stop-color="#878787"/><stop offset=".8533" stop-color="#878787"/><stop offset=".8633" stop-color="#858585"/><stop offset=".8767" stop-color="#7e7e7e"/><stop offset=".8867" stop-color="#7b7b7b"/><stop offset=".9017" stop-color="#787878"/><stop offset=".9217" stop-color="#6f6f6f"/><stop offset=".9367" stop-color="#6b6b6b"/><stop offset=".9467" stop-color="#686868"/><stop offset=".96" stop-color="#5f5f5f"/><stop offset=".97" stop-color="#5b5b5b"/><stop offset=".979" stop-color="#5e5e5e"/><stop offset=".991" stop-color="#666666"/><stop offset="1" stop-color="#696969"/></linearGradient>
<linearGradient id="c39" x1="0" y1="0" x2="0" y2="1"><stop offset="0" stop-color="#d6d6d6"/><stop offset=".0085" stop-color="#d0d0d0"/><stop offset=".017" stop-color="#bfbfbf"/><stop offset=".0283" stop-color="#a2a2a2"/><stop offset=".0397" stop-color="#848484"/><stop offset=".0482" stop-color="#747474"/><stop offset=".0567" stop-color="#6d6d6d"/><stop offset=".1033" stop-color="#6d6d6d"/><stop offset=".1533" stop-color="#6f6f6f"/><stop offset=".1867" stop-color="#777777"/><stop offset=".2267" stop-color="#777777"/><stop offset=".2567" stop-color="#818181"/><stop offset=".2767" stop-color="#858585"/><stop offset=".3033" stop-color="#909090"/><stop offset=".3233" stop-color="#949494"/><stop offset=".3433" stop-color="#909090"/><stop offset=".37" stop-color="#878787"/><stop offset=".39" stop-color="#838383"/><stop offset=".4025" stop-color="#888888"/><stop offset=".415" stop-color="#949494"/><stop offset=".4275" stop-color="#9f9f9f"/><stop offset=".44" stop-color="#a4a4a4"/><stop offset=".454" stop-color="#a0a0a0"/><stop offset=".4727" stop-color="#959595"/><stop offset=".4867" stop-color="#929292"/><stop offset=".5033" stop-color="#9c9c9c"/><stop offset=".5433" stop-color="#9c9c9c"/><stop offset=".5967" stop-color="#929292"/><stop offset=".6087" stop-color="#8e8e8e"/><stop offset=".6247" stop-color="#868686"/><stop offset=".6367" stop-color="#838383"/><stop offset=".6667" stop-color="#7b7b7b"/><stop offset=".6727" stop-color="#797979"/><stop offset=".6807" stop-color="#727272"/><stop offset=".6867" stop-color="#6f6f6f"/><stop offset=".7058" stop-color="#737373"/><stop offset=".725" stop-color="#7b7b7b"/><stop offset=".7442" stop-color="#848484"/><stop offset=".7633" stop-color="#878787"/><stop offset=".775" stop-color="#848484"/><stop offset=".7867" stop-color="#7b7b7b"/><stop offset=".7983" stop-color="#737373"/><stop offset=".81" stop-color="#6f6f6f"/><stop offset=".818" stop-color="#737373"/><stop offset=".8287" stop-color="#7c7c7c"/><stop offset=".8367" stop-color="#7f7f7f"/><stop offset=".8533" stop-color="#7b7b7b"/><stop offset=".8867" stop-color="#737373"/><stop offset=".9367" stop-color="#6b6b6b"/><stop offset=".97" stop-color="#636363"/><stop offset="1" stop-color="#696969"/></linearGradient>
<linearGradient id="c40" x1="0" y1="0" x2="0" y2="1"><stop offset="0" stop-color="#eaeaea"/><stop offset=".0085" stop-color="#e3e3e3"/><stop offset=".017" stop-color="#d0d0d0"/><stop offset=".0283" stop-color="#aeaeae"/><stop offset=".0397" stop-color="#8b8b8b"/><stop offset=".0482" stop-color="#797979"/><stop offset=".0567" stop-color="#717171"/><stop offset=".1033" stop-color="#6d6d6d"/><stop offset=".1533" stop-color="#6f6f6f"/><stop offset=".1633" stop-color="#737373"/><stop offset=".1767" stop-color="#7d7d7d"/><stop offset=".1867" stop-color="#818181"/><stop offset=".2267" stop-color="#8b8b8b"/><stop offset=".2567" stop-color="#909090"/><stop offset=".2767" stop-color="#939393"/><stop offset=".3033" stop-color="#9c9c9c"/><stop offset=".3233" stop-color="#a0a0a0"/><stop offset=".3433" stop-color="#9c9c9c"/><stop offset=".37" stop-color="#939393"/><stop offset=".39" stop-color="#909090"/><stop offset=".4025" stop-color="#949494"/><stop offset=".415" stop-color="#9f9f9f"/><stop offset=".4275" stop-color="#a9a9a9"/><stop offset=".44" stop-color="#aeaeae"/><stop offset=".454" stop-color="#a9a9a9"/><stop offset=".4727" stop-color="#9c9c9c"/><stop offset=".4867" stop-color="#989898"/><stop offset=".5033" stop-color="#a2a2a2"/><stop offset=".5433" stop-color="#a4a4a4"/><stop offset=".5593" stop-color="#a0a0a0"/><stop offset=".5807" stop-color="#959595"/><stop offset=".5967" stop-color="#929292"/><stop offset=".6087" stop-color="#8e8e8e"/><stop offset=".6247" stop-color="#858585"/><stop offset=".6367" stop-color="#818181"/><stop offset=".6667" stop-color="#7b7b7b"/><stop offset=".6867" stop-color="#7b7b7b"/><stop offset=".7097" stop-color="#7f7f7f"/><stop offset=".7403" stop-color="#888888"/><stop offset=".7633" stop-color="#8b8b8b"/><stop offset=".7773" stop-color="#878787"/><stop offset=".796" stop-color="#7c7c7c"/><stop offset=".81" stop-color="#777777"/><stop offset=".8367" stop-color="#7f7f7f"/><stop offset=".8533" stop-color="#7b7b7b"/><stop offset=".8867" stop-color="#737373"/><stop offset=".9367" stop-color="#6b6b6b"/><stop offset=".97" stop-color="#636363"/><stop offset="1" stop-color="#696969"/></linearGradient>
<linearGradient id="c41" x1="0" y1="0" x2="0" y2="1"><stop offset="0" stop-color="#f0f0f0"/><stop offset=".0085" stop-color="#e8e8e8"/><stop offset=".017" stop-color="#d5d5d5"/><stop offset=".0283" stop-color="#b1b1b1"/><stop offset=".0397" stop-color="#8d8d8d"/><stop offset=".0482" stop-color="#797979"/><stop offset=".0567" stop-color="#717171"/><stop offset=".1033" stop-color="#6d6d6d"/><stop offset=".1533" stop-color="#6f6f6f"/><stop offset=".1633" stop-color="#737373"/><stop offset=".1767" stop-color="#7d7d7d"/><stop offset=".1867" stop-color="#818181"/><stop offset=".2267" stop-color="#8b8b8b"/><stop offset=".2357" stop-color="#8f8f8f"/><stop offset=".2477" stop-color="#989898"/><stop offset=".2567" stop-color="#9c9c9c"/><stop offset=".3233" stop-color="#a0a0a0"/><stop offset=".3433" stop-color="#9c9c9c"/><stop offset=".37" stop-color="#939393"/><stop offset=".39" stop-color="#909090"/><stop offset=".4025" stop-color="#949494"/><stop offset=".415" stop-color="#9f9f9f"/><stop offset=".4275" stop-color="#a9a9a9"/><stop offset=".44" stop-color="#aeaeae"/><stop offset=".454" stop-color="#a9a9a9"/><stop offset=".4727" stop-color="#9c9c9c"/><stop offset=".4867" stop-color="#989898"/><stop offset=".4917" stop-color="#9c9c9c"/><stop offset=".4983" stop-color="#a9a9a9"/><stop offset=".5033" stop-color="#aeaeae"/><stop offset=".5433" stop-color="#b0b0b0"/><stop offset=".5567" stop-color="#ababab"/><stop offset=".57" stop-color="#a1a1a1"/><stop offset=".5833" stop-color="#969696"/><stop offset=".5967" stop-color="#929292"/><stop offset=".6087" stop-color="#8e8e8e"/><stop offset=".6247" stop-color="#858585"/><stop offset=".6367" stop-color="#818181"/><stop offset=".6667" stop-color="#7b7b7b"/><stop offset=".6867" stop-color="#7b7b7b"/><stop offset=".7097" stop-color="#7f7f7f"/><stop offset=".7403" stop-color="#888888"/><stop offset=".7633" stop-color="#8b8b8b"/><stop offset=".7773" stop-color="#878787"/><stop offset=".796" stop-color="#7c7c7c"/><stop offset=".81" stop-color="#777777"/><stop offset=".8367" stop-color="#7f7f7f"/><stop offset=".8533" stop-color="#7b7b7b"/><stop offset=".8867" stop-color="#737373"/><stop offset=".9367" stop-color="#6b6b6b"/><stop offset=".97" stop-color="#636363"/><stop offset="1" stop-color="#696969"/></linearGradient>
<linearGradient id="c42" x1="0" y1="0" x2="0" y2="1"><stop offset="0" stop-color="#fafafa"/><stop offset=".0085" stop-color="#f2f2f2"/><stop offset=".017" stop-color="#dfdfdf"/><stop offset=".0283" stop-color="#bbbbbb"/><stop offset=".0397" stop-color="#979797"/><stop offset=".0482" stop-color="#838383"/><stop offset=".0567" stop-color="#7b7b7b"/><stop offset=".1033" stop-color="#818181"/><stop offset=".1183" stop-color="#7d7d7d"/><stop offset=".1383" stop-color="#707070"/><stop offset=".1533" stop-color="#6b6b6b"/><stop offset=".1617" stop-color="#707070"/><stop offset=".17" stop-color="#797979"/><stop offset=".1783" stop-color="#838383"/><stop offset=".1867" stop-color="#878787"/><stop offset=".2267" stop-color="#909090"/><stop offset=".2357" stop-color="#929292"/><stop offset=".2477" stop-color="#999999"/><stop offset=".2567" stop-color="#9c9c9c"/><stop offset=".3233" stop-color="#9c9c9c"/><stop offset=".3433" stop-color="#999999"/><stop offset=".37" stop-color="#929292"/><stop offset=".39" stop-color="#909090"/><stop offset=".4025" stop-color="#959595"/><stop offset=".415" stop-color="#a0a0a0"/><stop offset=".4275" stop-color="#ababab"/><stop offset=".44" stop-color="#b0b0b0"/><stop offset=".454" stop-color="#acacac"/><stop offset=".4727" stop-color="#a3a3a3"/><stop offset=".4867" stop-color="#a0a0a0"/><stop offset=".5033" stop-color="#aaaaaa"/><stop offset=".5433" stop-color="#a4a4a4"/><stop offset=".5967" stop-color="#9c9c9c"/><stop offset=".6067" stop-color="#979797"/><stop offset=".6167" stop-color="#8e8e8e"/><stop offset=".6267" stop-color="#868686"/><stop offset=".6367" stop-color="#818181"/><stop offset=".6667" stop-color="#818181"/><stop offset=".6867" stop-color="#7f7f7f"/><stop offset=".7058" stop-color="#848484"/><stop offset=".725" stop-color="#909090"/><stop offset=".7442" stop-color="#9b9b9b"/><stop offset=".7633" stop-color="#a0a0a0"/><stop offset=".775" stop-color="#989898"/><stop offset=".7867" stop-color="#878787"/><stop offset=".7983" stop-color="#777777"/><stop offset=".81" stop-color="#6f6f6f"/><stop offset=".8167" stop-color="#737373"/><stop offset=".8233" stop-color="#7b7b7b"/><stop offset=".83" stop-color="#848484"/><stop offset=".8367" stop-color="#878787"/><stop offset=".8533" stop-color="#838383"/><stop offset=".8867" stop-color="#7b7b7b"/><stop offset=".9017" stop-color="#797979"/><stop offset=".9217" stop-color="#727272"/><stop offset=".9367" stop-color="#6f6f6f"/><stop offset=".9467" stop-color="#6c6c6c"/><stop offset=".96" stop-color="#636363"/><stop offset=".97" stop-color="#5f5f5f"/><stop offset="1" stop-color="#696969"/></linearGradient>
<linearGradient id="c43" x1="0" y1="0" x2="0" y2="1"><stop offset="0" stop-color="#e6e6e6"/><stop offset=".0085" stop-color="#dedede"/><stop offset=".017" stop-color="#cbcbcb"/><stop offset=".0283" stop-color="#a7a7a7"/><stop offset=".0397" stop-color="#838383"/><stop offset=".0482" stop-color="#6f6f6f"/><stop offset=".0567" stop-color="#676767"/><stop offset=".0683" stop-color="#6b6b6b"/><stop offset=".08" stop-color="#747474"/><stop offset=".0917" stop-color="#7d7d7d"/><stop offset=".1033" stop-color="#818181"/><stop offset=".1183" stop-color="#7d7d7d"/><stop offset=".1383" stop-color="#707070"/><stop offset=".1533" stop-color="#6b6b6b"/><stop offset=".1617" stop-color="#727272"/><stop offset=".17" stop-color="#818181"/><stop offset=".1783" stop-color="#919191"/><stop offset=".1867" stop-color="#989898"/><stop offset=".1987" stop-color="#959595"/><stop offset=".2147" stop-color="#8e8e8e"/><stop offset=".2267" stop-color="#8b8b8b"/><stop offset=".2357" stop-color="#8f8f8f"/><stop offset=".2477" stop-color="#989898"/><stop offset=".2567" stop-color="#9c9c9c"/><stop offset=".3233" stop-color="#9c9c9c"/><stop offset=".3433" stop-color="#999999"/><stop offset=".37" stop-color="#929292"/><stop offset=".39" stop-color="#909090"/><stop offset=".4025" stop-color="#979797"/><stop offset=".415" stop-color="#a8a8a8"/><stop offset=".4275" stop-color="#b8b8b8"/><stop offset=".44" stop-color="#c0c0c0"/><stop offset=".4517" stop-color="#b8b8b8"/><stop offset=".4633" stop-color="#a8a8a8"/><stop offset=".475" stop-color="#979797"/><stop offset=".4867" stop-color="#909090"/><stop offset=".4908" stop-color="#959595"/><stop offset=".495" stop-color="#a2a2a2"/><stop offset=".4992" stop-color="#aeaeae"/><stop offset=".5033" stop-color="#b4b4b4"/><stop offset=".5433" stop-color="#acacac"/><stop offset=".5593" stop-color="#a8a8a8"/><stop offset=".5807" stop-color="#9f9f9f"/><stop offset=".5967" stop-color="#9c9c9c"/><stop offset=".6087" stop-color="#979797"/><stop offset=".6247" stop-color="#8c8c8c"/><stop offset=".6367" stop-color="#878787"/><stop offset=".6457" stop-color="#848484"/><stop offset=".6577" stop-color="#7b7b7b"/><stop offset=".6667" stop-color="#777777"/><stop offset=".6867" stop-color="#737373"/><stop offset=".6982" stop-color="#787878"/><stop offset=".7097" stop-color="#848484"/><stop offset=".725" stop-color="#9a9a9a"/><stop offset=".7403" stop-color="#afafaf"/><stop offset=".7518" stop-color="#bbbbbb"/><stop offset=".7633" stop-color="#c0c0c0"/><stop offset=".7703" stop-color="#b9b9b9"/><stop offset=".7773" stop-color="#a7a7a7"/><stop offset=".7867" stop-color="#878787"/><stop offset=".796" stop-color="#676767"/><stop offset=".803" stop-color="#565656"/><stop offset=".81" stop-color="#4f4f4f"/><stop offset=".814" stop-color="#535353"/><stop offset=".818" stop-color="#5c5c5c"/><stop offset=".8233" stop-color="#6d6d6d"/><stop offset=".8287" stop-color="#7e7e7e"/><stop offset=".8327" stop-color="#888888"/><stop offset=".8367" stop-color="#8b8b8b"/><stop offset=".8533" stop-color="#838383"/><stop offset=".8867" stop-color="#7f7f7f"/><stop offset=".9017" stop-color="#7c7c7c"/><stop offset=".9217" stop-color="#737373"/><stop offset=".9367" stop-color="#6f6f6f"/><stop offset=".945" stop-color="#6b6b6b"/><stop offset=".9533" stop-color="#616161"/><stop offset=".9617" stop-color="#585858"/><stop offset=".97" stop-color="#535353"/><stop offset=".979" stop-color="#585858"/><stop offset=".991" stop-color="#646464"/><stop offset="1" stop-color="#696969"/></linearGradient>
<linearGradient id="c44" x1="0" y1="0" x2="0" y2="1"><stop offset="0" stop-color="#e6e6e6"/><stop offset=".0085" stop-color="#e0e0e0"/><stop offset=".017" stop-color="#cfcfcf"/><stop offset=".0283" stop-color="#b1b1b1"/><stop offset=".0397" stop-color="#929292"/><stop offset=".0482" stop-color="#828282"/><stop offset=".0567" stop-color="#7b7b7b"/><stop offset=".1033" stop-color="#777777"/><stop offset=".1533" stop-color="#737373"/><stop offset=".1633" stop-color="#787878"/><stop offset=".1767" stop-color="#838383"/><stop offset=".1867" stop-color="#878787"/><stop offset=".2267" stop-color="#878787"/><stop offset=".2357" stop-color="#8b8b8b"/><stop offset=".2477" stop-color="#949494"/><stop offset=".2567" stop-color="#989898"/><stop offset=".2767" stop-color="#9a9a9a"/><stop offset=".3033" stop-color="#a1a1a1"/><stop offset=".3233" stop-color="#a4a4a4"/><stop offset=".3433" stop-color="#9f9f9f"/><stop offset=".37" stop-color="#949494"/><stop offset=".39" stop-color="#909090"/><stop offset=".4025" stop-color="#979797"/><stop offset=".415" stop-color="#a8a8a8"/><stop offset=".4275" stop-color="#b8b8b8"/><stop offset=".44" stop-color="#c0c0c0"/><stop offset=".4517" stop-color="#b8b8b8"/><stop offset=".4633" stop-color="#a8a8a8"/><stop offset=".475" stop-color="#979797"/><stop offset=".4867" stop-color="#909090"/><stop offset=".4908" stop-color="#959595"/><stop offset=".495" stop-color="#a2a2a2"/><stop offset=".4992" stop-color="#aeaeae"/><stop offset=".5033" stop-color="#b4b4b4"/><stop offset=".5433" stop-color="#acacac"/><stop offset=".5593" stop-color="#a7a7a7"/><stop offset=".5807" stop-color="#9a9a9a"/><stop offset=".5967" stop-color="#969696"/><stop offset=".6367" stop-color="#8b8b8b"/><stop offset=".6457" stop-color="#898989"/><stop offset=".6577" stop-color="#828282"/><stop offset=".6667" stop-color="#7f7f7f"/><stop offset=".6867" stop-color="#7f7f7f"/><stop offset=".7058" stop-color="#868686"/><stop offset=".725" stop-color="#969696"/><stop offset=".7442" stop-color="#a5a5a5"/><stop offset=".7633" stop-color="#acacac"/><stop offset=".7703" stop-color="#a8a8a8"/><stop offset=".7773" stop-color="#9d9d9d"/><stop offset=".7867" stop-color="#898989"/><stop offset=".796" stop-color="#767676"/><stop offset=".803" stop-color="#6b6b6b"/><stop offset=".81" stop-color="#676767"/><stop offset=".8167" stop-color="#6d6d6d"/><stop offset=".8233" stop-color="#797979"/><stop offset=".83" stop-color="#868686"/><stop offset=".8367" stop-color="#8b8b8b"/><stop offset=".8417" stop-color="#898989"/><stop offset=".8483" stop-color="#828282"/><stop offset=".8533" stop-color="#7f7f7f"/><stop offset=".8867" stop-color="#878787"/><stop offset=".8992" stop-color="#848484"/><stop offset=".9117" stop-color="#7b7b7b"/><stop offset=".9242" stop-color="#737373"/><stop offset=".9367" stop-color="#6f6f6f"/><stop offset=".9467" stop-color="#6b6b6b"/><stop offset=".96" stop-color="#606060"/><stop offset=".97" stop-color="#5b5b5b"/><stop offset=".979" stop-color="#5e5e5e"/><stop offset=".991" stop-color="#666666"/><stop offset="1" stop-color="#696969"/></linearGradient>
<linearGradient id="c45" x1="0" y1="0" x2="0" y2="1"><stop offset="0" stop-color="#e2e2e2"/><stop offset=".0085" stop-color="#dcdcdc"/><stop offset=".017" stop-color="#cccccc"/><stop offset=".0283" stop-color="#afafaf"/><stop offset=".0397" stop-color="#929292"/><stop offset=".0482" stop-color="#828282"/><stop offset=".0567" stop-color="#7b7b7b"/><stop offset=".1033" stop-color="#777777"/><stop offset=".1533" stop-color="#737373"/><stop offset=".1633" stop-color="#767676"/><stop offset=".1767" stop-color="#7d7d7d"/><stop offset=".1867" stop-color="#7f7f7f"/><stop offset=".2267" stop-color="#838383"/><stop offset=".2357" stop-color="#888888"/><stop offset=".2477" stop-color="#939393"/><stop offset=".2567" stop-color="#989898"/><stop offset=".2733" stop-color="#9c9c9c"/><stop offset=".29" stop-color="#a6a6a6"/><stop offset=".3067" stop-color="#afafaf"/><stop offset=".3233" stop-color="#b4b4b4"/><stop offset=".34" stop-color="#adadad"/><stop offset=".3567" stop-color="#a0a0a0"/><stop offset=".3733" stop-color="#929292"/><stop offset=".39" stop-color="#8b8b8b"/><stop offset=".4025" stop-color="#939393"/><stop offset=".415" stop-color="#a5a5a5"/><stop offset=".4275" stop-color="#b6b6b6"/><stop offset=".44" stop-color="#bebebe"/><stop offset=".4517" stop-color="#b7b7b7"/><stop offset=".4633" stop-color="#a9a9a9"/><stop offset=".475" stop-color="#9a9a9a"/><stop offset=".4867" stop-color="#949494"/><stop offset=".4908" stop-color="#979797"/><stop offset=".495" stop-color="#a0a0a0"/><stop offset=".4992" stop-color="#a8a8a8"/><stop offset=".5033" stop-color="#acacac"/><stop offset=".5153" stop-color="#a8a8a8"/><stop offset=".5313" stop-color="#9f9f9f"/><stop offset=".5433" stop-color="#9c9c9c"/><stop offset=".5967" stop-color="#a0a0a0"/><stop offset=".6367" stop-color="#9a9a9a"/><stop offset=".6442" stop-color="#959595"/><stop offset=".6517" stop-color="#8c8c8c"/><stop offset=".6592" stop-color="#838383"/><stop offset=".6667" stop-color="#7f7f7f"/><stop offset=".6867" stop-color="#777777"/><stop offset=".6982" stop-color="#7b7b7b"/><stop offset=".7097" stop-color="#848484"/><stop offset=".725" stop-color="#969696"/><stop offset=".7403" stop-color="#a7a7a7"/><stop offset=".7518" stop-color="#b0b0b0"/><stop offset=".7633" stop-color="#b4b4b4"/><stop offset=".7703" stop-color="#afafaf"/><stop offset=".7773" stop-color="#a2a2a2"/><stop offset=".7867" stop-color="#8b8b8b"/><stop offset=".796" stop-color="#757575"/><stop offset=".803" stop-color="#686868"/><stop offset=".81" stop-color="#636363"/><stop offset=".8167" stop-color="#6a6a6a"/><stop offset=".8233" stop-color="#777777"/><stop offset=".83" stop-color="#858585"/><stop offset=".8367" stop-color="#8b8b8b"/><stop offset=".8417" stop-color="#898989"/><stop offset=".8483" stop-color="#828282"/><stop offset=".8533" stop-color="#7f7f7f"/><stop offset=".8867" stop-color="#878787"/><stop offset=".8992" stop-color="#848484"/><stop offset=".9117" stop-color="#7b7b7b"/><stop offset=".9242" stop-color="#737373"/><stop offset=".9367" stop-color="#6f6f6f"/><stop offset=".945" stop-color="#6b6b6b"/><stop offset=".9533" stop-color="#616161"/><stop offset=".9617" stop-color="#585858"/><stop offset=".97" stop-color="#535353"/><stop offset=".979" stop-color="#585858"/><stop offset=".991" stop-color="#646464"/><stop offset="1" stop-color="#696969"/></linearGradient>
<linearGradient id="c46" x1="0" y1="0" x2="0" y2="1"><stop offset="0" stop-color="#dedede"/><stop offset=".0085" stop-color="#d8d8d8"/><stop offset=".017" stop-color="#c9c9c9"/><stop offset=".0283" stop-color="#adadad"/><stop offset=".0397" stop-color="#919191"/><stop offset=".0482" stop-color="#818181"/><stop offset=".0567" stop-color="#7b7b7b"/><stop offset=".1033" stop-color="#777777"/><stop offset=".1533" stop-color="#737373"/><stop offset=".1633" stop-color="#767676"/><stop offset=".1767" stop-color="#7d7d7d"/><stop offset=".1867" stop-color="#7f7f7f"/><stop offset=".1987" stop-color="#828282"/><stop offset=".2147" stop-color="#898989"/><stop offset=".2267" stop-color="#8b8b8b"/><stop offset=".2567" stop-color="#969696"/><stop offset=".2733" stop-color="#9a9a9a"/><stop offset=".29" stop-color="#a5a5a5"/><stop offset=".3067" stop-color="#afafaf"/><stop offset=".3233" stop-color="#b4b4b4"/><stop offset=".34" stop-color="#adadad"/><stop offset=".3567" stop-color="#a0a0a0"/><stop offset=".3733" stop-color="#929292"/><stop offset=".39" stop-color="#8b8b8b"/><stop offset=".4025" stop-color="#929292"/><stop offset=".415" stop-color="#a1a1a1"/><stop offset=".4275" stop-color="#afafaf"/><stop offset=".44" stop-color="#b6b6b6"/><stop offset=".4517" stop-color="#afafaf"/><stop offset=".4633" stop-color="#a1a1a1"/><stop offset=".475" stop-color="#929292"/><stop offset=".4867" stop-color="#8b8b8b"/><stop offset=".4917" stop-color="#909090"/><stop offset=".4983" stop-color="#9b9b9b"/><stop offset=".5033" stop-color="#a0a0a0"/><stop offset=".5133" stop-color="#9c9c9c"/><stop offset=".5233" stop-color="#949494"/><stop offset=".5333" stop-color="#8b8b8b"/><stop offset=".5433" stop-color="#878787"/><stop offset=".5567" stop-color="#8e8e8e"/><stop offset=".57" stop-color="#9e9e9e"/><stop offset=".5833" stop-color="#adadad"/><stop offset=".5967" stop-color="#b4b4b4"/><stop offset=".6367" stop-color="#b4b4b4"/><stop offset=".6412" stop-color="#afafaf"/><stop offset=".6457" stop-color="#a1a1a1"/><stop offset=".6517" stop-color="#898989"/><stop offset=".6577" stop-color="#717171"/><stop offset=".6622" stop-color="#646464"/><stop offset=".6667" stop-color="#5f5f5f"/><stop offset=".6867" stop-color="#676767"/><stop offset=".6982" stop-color="#6c6c6c"/><stop offset=".7097" stop-color="#787878"/><stop offset=".725" stop-color="#8d8d8d"/><stop offset=".7403" stop-color="#a3a3a3"/><stop offset=".7518" stop-color="#afafaf"/><stop offset=".7633" stop-color="#b4b4b4"/><stop offset=".7703" stop-color="#aeaeae"/><stop offset=".7773" stop-color="#a0a0a0"/><stop offset=".7867" stop-color="#858585"/><stop offset=".796" stop-color="#6b6b6b"/><stop offset=".803" stop-color="#5d5d5d"/><stop offset=".81" stop-color="#575757"/><stop offset=".814" stop-color="#5b5b5b"/><stop offset=".818" stop-color="#636363"/><stop offset=".8233" stop-color="#737373"/><stop offset=".8287" stop-color="#838383"/><stop offset=".8327" stop-color="#8c8c8c"/><stop offset=".8367" stop-color="#909090"/><stop offset=".8408" stop-color="#8a8a8a"/><stop offset=".845" stop-color="#7d7d7d"/><stop offset=".8492" stop-color="#717171"/><stop offset=".8533" stop-color="#6b6b6b"/><stop offset=".8617" stop-color="#707070"/><stop offset=".87" stop-color="#7b7b7b"/><stop offset=".8783" stop-color="#868686"/><stop offset=".8867" stop-color="#8b8b8b"/><stop offset=".8992" stop-color="#878787"/><stop offset=".9117" stop-color="#7d7d7d"/><stop offset=".9242" stop-color="#747474"/><stop offset=".9367" stop-color="#6f6f6f"/><stop offset=".945" stop-color="#696969"/><stop offset=".9533" stop-color="#5a5a5a"/><stop offset=".9617" stop-color="#4c4c4c"/><stop offset=".97" stop-color="#454545"/><stop offset=".9775" stop-color="#4b4b4b"/><stop offset=".985" stop-color="#575757"/><stop offset=".9925" stop-color="#646464"/><stop offset="1" stop-color="#696969"/></linearGradient>
<linearGradient id="c47" x1="0" y1="0" x2="0" y2="1"><stop offset="0" stop-color="#f6f6f6"/><stop offset=".0085" stop-color="#efefef"/><stop offset=".017" stop-color="#dcdcdc"/><stop offset=".0283" stop-color="#b9b9b9"/><stop offset=".0397" stop-color="#969696"/><stop offset=".0482" stop-color="#838383"/><stop offset=".0567" stop-color="#7b7b7b"/><stop offset=".1033" stop-color="#777777"/><stop offset=".1533" stop-color="#737373"/><stop offset=".1867" stop-color="#7b7b7b"/><stop offset=".1967" stop-color="#818181"/><stop offset=".2067" stop-color="#8d8d8d"/><stop offset=".2167" stop-color="#9a9a9a"/><stop offset=".2267" stop-color="#a0a0a0"/><stop offset=".2567" stop-color="#9a9a9a"/><stop offset=".2733" stop-color="#9e9e9e"/><stop offset=".29" stop-color="#a7a7a7"/><stop offset=".3067" stop-color="#b0b0b0"/><stop offset=".3233" stop-color="#b4b4b4"/><stop offset=".34" stop-color="#adadad"/><stop offset=".3567" stop-color="#a0a0a0"/><stop offset=".3733" stop-color="#929292"/><stop offset=".39" stop-color="#8b8b8b"/><stop offset=".4025" stop-color="#929292"/><stop offset=".415" stop-color="#a1a1a1"/><stop offset=".4275" stop-color="#afafaf"/><stop offset=".44" stop-color="#b6b6b6"/><stop offset=".454" stop-color="#b1b1b1"/><stop offset=".4727" stop-color="#a4a4a4"/><stop offset=".4867" stop-color="#a0a0a0"/><stop offset=".5033" stop-color="#a8a8a8"/><stop offset=".5153" stop-color="#a5a5a5"/><stop offset=".5313" stop-color="#9e9e9e"/><stop offset=".5433" stop-color="#9c9c9c"/><stop offset=".5967" stop-color="#9c9c9c"/><stop offset=".6367" stop-color="#969696"/><stop offset=".6442" stop-color="#919191"/><stop offset=".6517" stop-color="#868686"/><stop offset=".6592" stop-color="#7c7c7c"/><stop offset=".6667" stop-color="#777777"/><stop offset=".6867" stop-color="#777777"/><stop offset=".6982" stop-color="#7c7c7c"/><stop offset=".7097" stop-color="#868686"/><stop offset=".725" stop-color="#9a9a9a"/><stop offset=".7403" stop-color="#adadad"/><stop offset=".7518" stop-color="#b8b8b8"/><stop offset=".7633" stop-color="#bcbcbc"/><stop offset=".7703" stop-color="#b5b5b5"/><stop offset=".7773" stop-color="#a2a2a2"/><stop offset=".7867" stop-color="#808080"/><stop offset=".796" stop-color="#5f5f5f"/><stop offset=".803" stop-color="#4c4c4c"/><stop offset=".81" stop-color="#454545"/><stop offset=".814" stop-color="#4b4b4b"/><stop offset=".818" stop-color="#5a5a5a"/><stop offset=".8233" stop-color="#767676"/><stop offset=".8287" stop-color="#929292"/><stop offset=".8327" stop-color="#a2a2a2"/><stop offset=".8367" stop-color="#a8a8a8"/><stop offset=".8392" stop-color="#a4a4a4"/><stop offset=".8417" stop-color="#9b9b9b"/><stop offset=".845" stop-color="#898989"/><stop offset=".8483" stop-color="#787878"/><stop offset=".8508" stop-color="#6f6f6f"/><stop offset=".8533" stop-color="#6b6b6b"/><stop offset=".8617" stop-color="#717171"/><stop offset=".87" stop-color="#7d7d7d"/><stop offset=".8783" stop-color="#8a8a8a"/><stop offset=".8867" stop-color="#909090"/><stop offset=".8992" stop-color="#8a8a8a"/><stop offset=".9117" stop-color="#7f7f7f"/><stop offset=".9242" stop-color="#747474"/><stop offset=".9367" stop-color="#6f6f6f"/><stop offset=".945" stop-color="#696969"/><stop offset=".9533" stop-color="#5c5c5c"/><stop offset=".9617" stop-color="#4f4f4f"/><stop offset=".97" stop-color="#494949"/><stop offset=".9775" stop-color="#4e4e4e"/><stop offset=".985" stop-color="#595959"/><stop offset=".9925" stop-color="#646464"/><stop offset="1" stop-color="#696969"/></linearGradient>
<linearGradient id="c48" x1="0" y1="0" x2="0" y2="1"><stop offset="0" stop-color="#e6e6e6"/><stop offset=".0085" stop-color="#dedede"/><stop offset=".017" stop-color="#cbcbcb"/><stop offset=".0283" stop-color="#a7a7a7"/><stop offset=".0397" stop-color="#838383"/><stop offset=".0482" stop-color="#6f6f6f"/><stop offset=".0567" stop-color="#676767"/><stop offset=".0683" stop-color="#6c6c6c"/><stop offset=".08" stop-color="#777777"/><stop offset=".0917" stop-color="#828282"/><stop offset=".1033" stop-color="#878787"/><stop offset=".1183" stop-color="#838383"/><stop offset=".1383" stop-color="#787878"/><stop offset=".1533" stop-color="#737373"/><stop offset=".1633" stop-color="#767676"/><stop offset=".1767" stop-color="#7e7e7e"/><stop offset=".1867" stop-color="#818181"/><stop offset=".2267" stop-color="#8b8b8b"/><stop offset=".2567" stop-color="#949494"/><stop offset=".2733" stop-color="#989898"/><stop offset=".29" stop-color="#a1a1a1"/><stop offset=".3067" stop-color="#aaaaaa"/><stop offset=".3233" stop-color="#aeaeae"/><stop offset=".34" stop-color="#a8a8a8"/><stop offset=".3567" stop-color="#9d9d9d"/><stop offset=".3733" stop-color="#919191"/><stop offset=".39" stop-color="#8b8b8b"/><stop offset=".4025" stop-color="#939393"/><stop offset=".415" stop-color="#a3a3a3"/><stop offset=".4275" stop-color="#b3b3b3"/><stop offset=".44" stop-color="#bababa"/><stop offset=".454" stop-color="#b5b5b5"/><stop offset=".4727" stop-color="#a8a8a8"/><stop offset=".4867" stop-color="#a4a4a4"/><stop offset=".4917" stop-color="#a6a6a6"/><stop offset=".4983" stop-color="#adadad"/><stop offset=".5033" stop-color="#b0b0b0"/><stop offset=".5133" stop-color="#a9a9a9"/><stop offset=".5233" stop-color="#9c9c9c"/><stop offset=".5333" stop-color="#8e8e8e"/><stop offset=".5433" stop-color="#878787"/><stop offset=".5567" stop-color="#8d8d8d"/><stop offset=".57" stop-color="#9a9a9a"/><stop offset=".5833" stop-color="#a6a6a6"/><stop offset=".5967" stop-color="#acacac"/><stop offset=".6027" stop-color="#a8a8a8"/><stop offset=".6087" stop-color="#9e9e9e"/><stop offset=".6167" stop-color="#8b8b8b"/><stop offset=".6247" stop-color="#797979"/><stop offset=".6307" stop-color="#6f6f6f"/><stop offset=".6367" stop-color="#6b6b6b"/><stop offset=".6412" stop-color="#6e6e6e"/><stop offset=".6457" stop-color="#777777"/><stop offset=".6517" stop-color="#858585"/><stop offset=".6577" stop-color="#949494"/><stop offset=".6622" stop-color="#9c9c9c"/><stop offset=".6667" stop-color="#a0a0a0"/><stop offset=".6697" stop-color="#9c9c9c"/><stop offset=".6727" stop-color="#949494"/><stop offset=".6767" stop-color="#858585"/><stop offset=".6807" stop-color="#777777"/><stop offset=".6837" stop-color="#6e6e6e"/><stop offset=".6867" stop-color="#6b6b6b"/><stop offset=".7058" stop-color="#727272"/><stop offset=".725" stop-color="#7f7f7f"/><stop offset=".7442" stop-color="#8d8d8d"/><stop offset=".7633" stop-color="#949494"/><stop offset=".775" stop-color="#8d8d8d"/><stop offset=".7867" stop-color="#7d7d7d"/><stop offset=".7983" stop-color="#6e6e6e"/><stop offset=".81" stop-color="#676767"/><stop offset=".8167" stop-color="#6d6d6d"/><stop offset=".8233" stop-color="#797979"/><stop offset=".83" stop-color="#868686"/><stop offset=".8367" stop-color="#8b8b8b"/><stop offset=".8417" stop-color="#878787"/><stop offset=".8483" stop-color="#7c7c7c"/><stop offset=".8533" stop-color="#777777"/><stop offset=".8583" stop-color="#7b7b7b"/><stop offset=".8633" stop-color="#848484"/><stop offset=".87" stop-color="#969696"/><stop offset=".8767" stop-color="#a7a7a7"/><stop offset=".8817" stop-color="#b0b0b0"/><stop offset=".8867" stop-color="#b4b4b4"/><stop offset=".8942" stop-color="#b0b0b0"/><stop offset=".9017" stop-color="#a7a7a7"/><stop offset=".9117" stop-color="#969696"/><stop offset=".9217" stop-color="#848484"/><stop offset=".9292" stop-color="#7b7b7b"/><stop offset=".9367" stop-color="#777777"/><stop offset=".945" stop-color="#707070"/><stop offset=".9533" stop-color="#606060"/><stop offset=".9617" stop-color="#505050"/><stop offset=".97" stop-color="#494949"/><stop offset=".9775" stop-color="#4e4e4e"/><stop offset=".985" stop-color="#595959"/><stop offset=".9925" stop-color="#646464"/><stop offset="1" stop-color="#696969"/></linearGradient>
<linearGradient id="c49" x1="0" y1="0" x2="0" y2="1"><stop offset="0" stop-color="#ececec"/><stop offset=".0085" stop-color="#e5e5e5"/><stop offset=".017" stop-color="#d4d4d4"/><stop offset=".0283" stop-color="#b4b4b4"/><stop offset=".0397" stop-color="#949494"/><stop offset=".0482" stop-color="#828282"/><stop offset=".0567" stop-color="#7b7b7b"/><stop offset=".1033" stop-color="#777777"/><stop offset=".1533" stop-color="#737373"/><stop offset=".1633" stop-color="#767676"/><stop offset=".1767" stop-color="#7e7e7e"/><stop offset=".1867" stop-color="#818181"/><stop offset=".2267" stop-color="#818181"/><stop offset=".2357" stop-color="#848484"/><stop offset=".2477" stop-color="#8c8c8c"/><stop offset=".2567" stop-color="#909090"/><stop offset=".2767" stop-color="#939393"/><stop offset=".3033" stop-color="#9c9c9c"/><stop offset=".3233" stop-color="#a0a0a0"/><stop offset=".3433" stop-color="#9c9c9c"/><stop offset=".37" stop-color="#939393"/><stop offset=".39" stop-color="#909090"/><stop offset=".4025" stop-color="#959595"/><stop offset=".415" stop-color="#a1a1a1"/><stop offset=".4275" stop-color="#acacac"/><stop offset=".44" stop-color="#b2b2b2"/><stop offset=".4517" stop-color="#aeaeae"/><stop offset=".4633" stop-color="#a5a5a5"/><stop offset=".475" stop-color="#9c9c9c"/><stop offset=".4867" stop-color="#989898"/><stop offset=".4917" stop-color="#9c9c9c"/><stop offset=".4983" stop-color="#a7a7a7"/><stop offset=".5033" stop-color="#acacac"/><stop offset=".5433" stop-color="#a4a4a4"/><stop offset=".5967" stop-color="#aeaeae"/><stop offset=".6067" stop-color="#a9a9a9"/><stop offset=".6167" stop-color="#9f9f9f"/><stop offset=".6267" stop-color="#949494"/><stop offset=".6367" stop-color="#909090"/><stop offset=".6457" stop-color="#8c8c8c"/><stop offset=".6577" stop-color="#838383"/><stop offset=".6667" stop-color="#7f7f7f"/><stop offset=".6867" stop-color="#7b7b7b"/><stop offset=".7097" stop-color="#808080"/><stop offset=".7403" stop-color="#8b8b8b"/><stop offset=".7633" stop-color="#909090"/><stop offset=".7703" stop-color="#8c8c8c"/><stop offset=".7773" stop-color="#848484"/><stop offset=".7867" stop-color="#757575"/><stop offset=".796" stop-color="#666666"/><stop offset=".803" stop-color="#5e5e5e"/><stop offset=".81" stop-color="#5b5b5b"/><stop offset=".8167" stop-color="#636363"/><stop offset=".8233" stop-color="#737373"/><stop offset=".83" stop-color="#848484"/><stop offset=".8367" stop-color="#8b8b8b"/><stop offset=".8417" stop-color="#898989"/><stop offset=".8483" stop-color="#828282"/><stop offset=".8533" stop-color="#7f7f7f"/><stop offset=".8633" stop-color="#828282"/><stop offset=".8767" stop-color="#898989"/><stop offset=".8867" stop-color="#8b8b8b"/><stop offset=".8992" stop-color="#888888"/><stop offset=".9117" stop-color="#7f7f7f"/><stop offset=".9242" stop-color="#777777"/><stop offset=".9367" stop-color="#737373"/><stop offset=".945" stop-color="#707070"/><stop offset=".9533" stop-color="#676767"/><stop offset=".9617" stop-color="#5f5f5f"/><stop offset=".97" stop-color="#5b5b5b"/><stop offset=".979" stop-color="#5e5e5e"/><stop offset=".991" stop-color="#666666"/><stop offset="1" stop-color="#696969"/></linearGradient>
<linearGradient id="c50" x1="0" y1="0" x2="0" y2="1"><stop offset="0" stop-color="#ececec"/><stop offset=".0085" stop-color="#e5e5e5"/><stop offset=".017" stop-color="#d4d4d4"/><stop offset=".0283" stop-color="#b4b4b4"/><stop offset=".0397" stop-color="#949494"/><stop offset=".0482" stop-color="#828282"/><stop offset=".0567" stop-color="#7b7b7b"/><stop offset=".1033" stop-color="#777777"/><stop offset=".1533" stop-color="#737373"/><stop offset=".1633" stop-color="#787878"/><stop offset=".1767" stop-color="#838383"/><stop offset=".1867" stop-color="#878787"/><stop offset=".1987" stop-color="#858585"/><stop offset=".2147" stop-color="#7e7e7e"/><stop offset=".2267" stop-color="#7b7b7b"/><stop offset=".2357" stop-color="#808080"/><stop offset=".2477" stop-color="#8b8b8b"/><stop offset=".2567" stop-color="#909090"/><stop offset=".2733" stop-color="#939393"/><stop offset=".29" stop-color="#9c9c9c"/><stop offset=".3067" stop-color="#a4a4a4"/><stop offset=".3233" stop-color="#a8a8a8"/><stop offset=".34" stop-color="#a1a1a1"/><stop offset=".3567" stop-color="#929292"/><stop offset=".3733" stop-color="#828282"/><stop offset=".39" stop-color="#7b7b7b"/><stop offset=".3975" stop-color="#7f7f7f"/><stop offset=".405" stop-color="#8a8a8a"/><stop offset=".415" stop-color="#9d9d9d"/><stop offset=".425" stop-color="#afafaf"/><stop offset=".4325" stop-color="#bababa"/><stop offset=".44" stop-color="#bebebe"/><stop offset=".447" stop-color="#bababa"/><stop offset=".454" stop-color="#b2b2b2"/><stop offset=".4633" stop-color="#a3a3a3"/><stop offset=".4727" stop-color="#939393"/><stop offset=".4797" stop-color="#8b8b8b"/><stop offset=".4867" stop-color="#878787"/><stop offset=".4908" stop-color="#8e8e8e"/><stop offset=".495" stop-color="#9e9e9e"/><stop offset=".4992" stop-color="#adadad"/><stop offset=".5033" stop-color="#b4b4b4"/><stop offset=".5433" stop-color="#acacac"/><stop offset=".5967" stop-color="#b4b4b4"/><stop offset=".6067" stop-color="#afafaf"/><stop offset=".6167" stop-color="#a4a4a4"/><stop offset=".6267" stop-color="#999999"/><stop offset=".6367" stop-color="#949494"/><stop offset=".6457" stop-color="#8f8f8f"/><stop offset=".6577" stop-color="#828282"/><stop offset=".6667" stop-color="#7d7d7d"/><stop offset=".6727" stop-color="#7a7a7a"/><stop offset=".6807" stop-color="#727272"/><stop offset=".6867" stop-color="#6f6f6f"/><stop offset=".7058" stop-color="#777777"/><stop offset=".725" stop-color="#878787"/><stop offset=".7442" stop-color="#989898"/><stop offset=".7633" stop-color="#a0a0a0"/><stop offset=".7703" stop-color="#9a9a9a"/><stop offset=".7773" stop-color="#8c8c8c"/><stop offset=".7867" stop-color="#737373"/><stop offset=".796" stop-color="#5a5a5a"/><stop offset=".803" stop-color="#4c4c4c"/><stop offset=".81" stop-color="#474747"/><stop offset=".814" stop-color="#4b4b4b"/><stop offset=".818" stop-color="#565656"/><stop offset=".8233" stop-color="#696969"/><stop offset=".8287" stop-color="#7d7d7d"/><stop offset=".8327" stop-color="#878787"/><stop offset=".8367" stop-color="#8b8b8b"/><stop offset=".8417" stop-color="#898989"/><stop offset=".8483" stop-color="#828282"/><stop offset=".8533" stop-color="#7f7f7f"/><stop offset=".8867" stop-color="#7f7f7f"/><stop offset=".9017" stop-color="#7d7d7d"/><stop offset=".9217" stop-color="#767676"/><stop offset=".9367" stop-color="#737373"/><stop offset=".945" stop-color="#6e6e6e"/><stop offset=".9533" stop-color="#616161"/><stop offset=".9617" stop-color="#555555"/><stop offset=".97" stop-color="#4f4f4f"/><stop offset=".9775" stop-color="#535353"/><stop offset=".985" stop-color="#5c5c5c"/><stop offset=".9925" stop-color="#656565"/><stop offset="1" stop-color="#696969"/></linearGradient>
<linearGradient id="c51" x1="0" y1="0" x2="0" y2="1"><stop offset="0" stop-color="#fafafa"/><stop offset=".0085" stop-color="#f3f3f3"/><stop offset=".017" stop-color="#dfdfdf"/><stop offset=".0283" stop-color="#bcbcbc"/><stop offset=".0397" stop-color="#989898"/><stop offset=".0482" stop-color="#858585"/><stop offset=".0567" stop-color="#7d7d7d"/><stop offset=".0707" stop-color="#808080"/><stop offset=".0893" stop-color="#888888"/><stop offset=".1033" stop-color="#8b8b8b"/><stop offset=".1158" stop-color="#878787"/><stop offset=".1283" stop-color="#7e7e7e"/><stop offset=".1408" stop-color="#757575"/><stop offset=".1533" stop-color="#717171"/><stop offset=".1867" stop-color="#7b7b7b"/><stop offset=".2267" stop-color="#7b7b7b"/><stop offset=".2342" stop-color="#7f7f7f"/><stop offset=".2417" stop-color="#888888"/><stop offset=".2492" stop-color="#919191"/><stop offset=".2567" stop-color="#969696"/><stop offset=".2733" stop-color="#9b9b9b"/><stop offset=".29" stop-color="#a8a8a8"/><stop offset=".3067" stop-color="#b4b4b4"/><stop offset=".3233" stop-color="#bababa"/><stop offset=".34" stop-color="#b3b3b3"/><stop offset=".3567" stop-color="#a3a3a3"/><stop offset=".3733" stop-color="#939393"/><stop offset=".39" stop-color="#8b8b8b"/><stop offset=".4025" stop-color="#929292"/><stop offset=".415" stop-color="#a1a1a1"/><stop offset=".4275" stop-color="#afafaf"/><stop offset=".44" stop-color="#b6b6b6"/><stop offset=".447" stop-color="#b2b2b2"/><stop offset=".454" stop-color="#a9a9a9"/><stop offset=".4633" stop-color="#999999"/><stop offset=".4727" stop-color="#888888"/><stop offset=".4797" stop-color="#7f7f7f"/><stop offset=".4867" stop-color="#7b7b7b"/><stop offset=".4892" stop-color="#7f7f7f"/><stop offset=".4917" stop-color="#888888"/><stop offset=".495" stop-color="#989898"/><stop offset=".4983" stop-color="#a8a8a8"/><stop offset=".5008" stop-color="#b0b0b0"/><stop offset=".5033" stop-color="#b4b4b4"/><stop offset=".5153" stop-color="#b0b0b0"/><stop offset=".5313" stop-color="#a7a7a7"/><stop offset=".5433" stop-color="#a4a4a4"/><stop offset=".5593" stop-color="#a7a7a7"/><stop offset=".5807" stop-color="#b0b0b0"/><stop offset=".5967" stop-color="#b4b4b4"/><stop offset=".6067" stop-color="#afafaf"/><stop offset=".6167" stop-color="#a4a4a4"/><stop offset=".6267" stop-color="#999999"/><stop offset=".6367" stop-color="#949494"/><stop offset=".6457" stop-color="#8f8f8f"/><stop offset=".6577" stop-color="#828282"/><stop offset=".6667" stop-color="#7d7d7d"/><stop offset=".6867" stop-color="#737373"/><stop offset=".7058" stop-color="#7a7a7a"/><stop offset=".725" stop-color="#898989"/><stop offset=".7442" stop-color="#999999"/><stop offset=".7633" stop-color="#a0a0a0"/><stop offset=".7703" stop-color="#9a9a9a"/><stop offset=".7773" stop-color="#8c8c8c"/><stop offset=".7867" stop-color="#737373"/><stop offset=".796" stop-color="#5a5a5a"/><stop offset=".803" stop-color="#4c4c4c"/><stop offset=".81" stop-color="#474747"/><stop offset=".814" stop-color="#4d4d4d"/><stop offset=".818" stop-color="#5c5c5c"/><stop offset=".8233" stop-color="#777777"/><stop offset=".8287" stop-color="#939393"/><stop offset=".8327" stop-color="#a2a2a2"/><stop offset=".8367" stop-color="#a8a8a8"/><stop offset=".8408" stop-color="#a1a1a1"/><stop offset=".845" stop-color="#929292"/><stop offset=".8492" stop-color="#828282"/><stop offset=".8533" stop-color="#7b7b7b"/><stop offset=".8867" stop-color="#838383"/><stop offset=".9017" stop-color="#868686"/><stop offset=".9217" stop-color="#8d8d8d"/><stop offset=".9367" stop-color="#909090"/><stop offset=".9417" stop-color="#8a8a8a"/><stop offset=".9467" stop-color="#7c7c7c"/><stop offset=".9533" stop-color="#636363"/><stop offset=".96" stop-color="#4a4a4a"/><stop offset=".965" stop-color="#3c3c3c"/><stop offset=".97" stop-color="#373737"/><stop offset=".9745" stop-color="#3a3a3a"/><stop offset=".979" stop-color="#424242"/><stop offset=".985" stop-color="#505050"/><stop offset=".991" stop-color="#5e5e5e"/><stop offset=".9955" stop-color="#666666"/><stop offset="1" stop-color="#696969"/></linearGradient>
<linearGradient id="c52" x1="0" y1="0" x2="0" y2="1"><stop offset="0" stop-color="#fafafa"/><stop offset=".0085" stop-color="#f3f3f3"/><stop offset=".017" stop-color="#dfdfdf"/><stop offset=".0283" stop-color="#bcbcbc"/><stop offset=".0397" stop-color="#989898"/><stop offset=".0482" stop-color="#858585"/><stop offset=".0567" stop-color="#7d7d7d"/><stop offset=".1033" stop-color="#7b7b7b"/><stop offset=".1533" stop-color="#717171"/><stop offset=".1617" stop-color="#757575"/><stop offset=".17" stop-color="#7e7e7e"/><stop offset=".1783" stop-color="#878787"/><stop offset=".1867" stop-color="#8b8b8b"/><stop offset=".1987" stop-color="#888888"/><stop offset=".2147" stop-color="#7f7f7f"/><stop offset=".2267" stop-color="#7b7b7b"/><stop offset=".2342" stop-color="#7f7f7f"/><stop offset=".2417" stop-color="#878787"/><stop offset=".2492" stop-color="#909090"/><stop offset=".2567" stop-color="#949494"/><stop offset=".2767" stop-color="#969696"/><stop offset=".3033" stop-color="#9d9d9d"/><stop offset=".3233" stop-color="#a0a0a0"/><stop offset=".3433" stop-color="#9c9c9c"/><stop offset=".37" stop-color="#939393"/><stop offset=".39" stop-color="#909090"/><stop offset=".4025" stop-color="#969696"/><stop offset=".415" stop-color="#a5a5a5"/><stop offset=".4275" stop-color="#b3b3b3"/><stop offset=".44" stop-color="#bababa"/><stop offset=".4517" stop-color="#b4b4b4"/><stop offset=".4633" stop-color="#a7a7a7"/><stop offset=".475" stop-color="#9a9a9a"/><stop offset=".4867" stop-color="#949494"/><stop offset=".4908" stop-color="#989898"/><stop offset=".495" stop-color="#a1a1a1"/><stop offset=".4992" stop-color="#aaaaaa"/><stop offset=".5033" stop-color="#aeaeae"/><stop offset=".5433" stop-color="#acacac"/><stop offset=".5967" stop-color="#aaaaaa"/><stop offset=".6087" stop-color="#a5a5a5"/><stop offset=".6247" stop-color="#989898"/><stop offset=".6367" stop-color="#949494"/><stop offset=".6457" stop-color="#8f8f8f"/><stop offset=".6577" stop-color="#828282"/><stop offset=".6667" stop-color="#7d7d7d"/><stop offset=".6867" stop-color="#737373"/><stop offset=".7058" stop-color="#787878"/><stop offset=".725" stop-color="#838383"/><stop offset=".7442" stop-color="#8e8e8e"/><stop offset=".7633" stop-color="#949494"/><stop offset=".775" stop-color="#8c8c8c"/><stop offset=".7867" stop-color="#7b7b7b"/><stop offset=".7983" stop-color="#6b6b6b"/><stop offset=".81" stop-color="#636363"/><stop offset=".8167" stop-color="#6a6a6a"/><stop offset=".8233" stop-color="#777777"/><stop offset=".83" stop-color="#858585"/><stop offset=".8367" stop-color="#8b8b8b"/><stop offset=".8417" stop-color="#878787"/><stop offset=".8483" stop-color="#7c7c7c"/><stop offset=".8533" stop-color="#777777"/><stop offset=".8867" stop-color="#7f7f7f"/><stop offset=".9017" stop-color="#7c7c7c"/><stop offset=".9217" stop-color="#747474"/><stop offset=".9367" stop-color="#717171"/><stop offset=".945" stop-color="#6d6d6d"/><stop offset=".9533" stop-color="#626262"/><stop offset=".9617" stop-color="#585858"/><stop offset=".97" stop-color="#535353"/><stop offset=".979" stop-color="#585858"/><stop offset=".991" stop-color="#646464"/><stop offset="1" stop-color="#696969"/></linearGradient>
<linearGradient id="c53" x1="0" y1="0" x2="0" y2="1"><stop offset="0" stop-color="#ececec"/><stop offset=".0085" stop-color="#e5e5e5"/><stop offset=".017" stop-color="#d4d4d4"/><stop offset=".0283" stop-color="#b5b5b5"/><stop offset=".0397" stop-color="#959595"/><stop offset=".0482" stop-color="#848484"/><stop offset=".0567" stop-color="#7d7d7d"/><stop offset=".1033" stop-color="#7b7b7b"/><stop offset=".1533" stop-color="#717171"/><stop offset=".1633" stop-color="#747474"/><stop offset=".1767" stop-color="#7c7c7c"/><stop offset=".1867" stop-color="#7f7f7f"/><stop offset=".2267" stop-color="#818181"/><stop offset=".2357" stop-color="#848484"/><stop offset=".2477" stop-color="#8c8c8c"/><stop offset=".2567" stop-color="#909090"/><stop offset=".2733" stop-color="#939393"/><stop offset=".29" stop-color="#9c9c9c"/><stop offset=".3067" stop-color="#a4a4a4"/><stop offset=".3233" stop-color="#a8a8a8"/><stop offset=".34" stop-color="#a4a4a4"/><stop offset=".3567" stop-color="#9c9c9c"/><stop offset=".3733" stop-color="#939393"/><stop offset=".39" stop-color="#909090"/><stop offset=".4025" stop-color="#979797"/><stop offset=".415" stop-color="#a8a8a8"/><stop offset=".4275" stop-color="#b8b8b8"/><stop offset=".44" stop-color="#c0c0c0"/><stop offset=".4517" stop-color="#bababa"/><stop offset=".4633" stop-color="#aeaeae"/><stop offset=".475" stop-color="#a1a1a1"/><stop offset=".4867" stop-color="#9c9c9c"/><stop offset=".5033" stop-color="#a4a4a4"/><stop offset=".5433" stop-color="#a0a0a0"/><stop offset=".5967" stop-color="#a0a0a0"/><stop offset=".6087" stop-color="#9d9d9d"/><stop offset=".6247" stop-color="#969696"/><stop offset=".6367" stop-color="#949494"/><stop offset=".6457" stop-color="#8f8f8f"/><stop offset=".6577" stop-color="#828282"/><stop offset=".6667" stop-color="#7d7d7d"/><stop offset=".6867" stop-color="#737373"/><stop offset=".6982" stop-color="#777777"/><stop offset=".7097" stop-color="#7f7f7f"/><stop offset=".725" stop-color="#909090"/><stop offset=".7403" stop-color="#a0a0a0"/><stop offset=".7518" stop-color="#a8a8a8"/><stop offset=".7633" stop-color="#acacac"/><stop offset=".7703" stop-color="#a8a8a8"/><stop offset=".7773" stop-color="#9d9d9d"/><stop offset=".7867" stop-color="#898989"/><stop offset=".796" stop-color="#767676"/><stop offset=".803" stop-color="#6b6b6b"/><stop offset=".81" stop-color="#676767"/><stop offset=".8167" stop-color="#6c6c6c"/><stop offset=".8233" stop-color="#777777"/><stop offset=".83" stop-color="#828282"/><stop offset=".8367" stop-color="#878787"/><stop offset=".8417" stop-color="#858585"/><stop offset=".8483" stop-color="#7e7e7e"/><stop offset=".8533" stop-color="#7b7b7b"/><stop offset=".8867" stop-color="#7f7f7f"/><stop offset=".9017" stop-color="#7c7c7c"/><stop offset=".9217" stop-color="#747474"/><stop offset=".9367" stop-color="#717171"/><stop offset=".9467" stop-color="#6d6d6d"/><stop offset=".96" stop-color="#636363"/><stop offset=".97" stop-color="#5f5f5f"/><stop offset="1" stop-color="#696969"/></linearGradient>
<linearGradient id="c54" x1="0" y1="0" x2="0" y2="1"><stop offset="0" stop-color="#cecece"/><stop offset=".0085" stop-color="#c9c9c9"/><stop offset=".017" stop-color="#bbbbbb"/><stop offset=".0283" stop-color="#a3a3a3"/><stop offset=".0397" stop-color="#8a8a8a"/><stop offset=".0482" stop-color="#7d7d7d"/><stop offset=".0567" stop-color="#777777"/><stop offset=".1033" stop-color="#7b7b7b"/><stop offset=".1533" stop-color="#777777"/><stop offset=".1867" stop-color="#7f7f7f"/><stop offset=".2267" stop-color="#878787"/><stop offset=".2567" stop-color="#8b8b8b"/><stop offset=".2733" stop-color="#929292"/><stop offset=".29" stop-color="#a0a0a0"/><stop offset=".3067" stop-color="#adadad"/><stop offset=".3233" stop-color="#b4b4b4"/><stop offset=".34" stop-color="#aeaeae"/><stop offset=".3567" stop-color="#a2a2a2"/><stop offset=".3733" stop-color="#959595"/><stop offset=".39" stop-color="#909090"/><stop offset=".4025" stop-color="#979797"/><stop offset=".415" stop-color="#a8a8a8"/><stop offset=".4275" stop-color="#b8b8b8"/><stop offset=".44" stop-color="#c0c0c0"/><stop offset=".4517" stop-color="#bbbbbb"/><stop offset=".4633" stop-color="#b0b0b0"/><stop offset=".475" stop-color="#a5a5a5"/><stop offset=".4867" stop-color="#a0a0a0"/><stop offset=".5033" stop-color="#a0a0a0"/><stop offset=".5433" stop-color="#a0a0a0"/><stop offset=".5967" stop-color="#a0a0a0"/><stop offset=".6087" stop-color="#9d9d9d"/><stop offset=".6247" stop-color="#969696"/><stop offset=".6367" stop-color="#949494"/><stop offset=".6457" stop-color="#8f8f8f"/><stop offset=".6577" stop-color="#848484"/><stop offset=".6667" stop-color="#7f7f7f"/><stop offset=".6867" stop-color="#777777"/><stop offset=".6982" stop-color="#7b7b7b"/><stop offset=".7097" stop-color="#858585"/><stop offset=".725" stop-color="#989898"/><stop offset=".7403" stop-color="#aaaaaa"/><stop offset=".7518" stop-color="#b4b4b4"/><stop offset=".7633" stop-color="#b8b8b8"/><stop offset=".7703" stop-color="#b3b3b3"/><stop offset=".7773" stop-color="#a6a6a6"/><stop offset=".7867" stop-color="#909090"/><stop offset=".796" stop-color="#797979"/><stop offset=".803" stop-color="#6c6c6c"/><stop offset=".81" stop-color="#676767"/><stop offset=".8167" stop-color="#6e6e6e"/><stop offset=".8233" stop-color="#7b7b7b"/><stop offset=".83" stop-color="#898989"/><stop offset=".8367" stop-color="#909090"/><stop offset=".8417" stop-color="#8b8b8b"/><stop offset=".8483" stop-color="#808080"/><stop offset=".8533" stop-color="#7b7b7b"/><stop offset=".8867" stop-color="#7f7f7f"/><stop offset=".9017" stop-color="#7c7c7c"/><stop offset=".9217" stop-color="#747474"/><stop offset=".9367" stop-color="#717171"/><stop offset=".9467" stop-color="#6d6d6d"/><stop offset=".96" stop-color="#636363"/><stop offset=".97" stop-color="#5f5f5f"/><stop offset="1" stop-color="#696969"/></linearGradient>
<linearGradient id="c55" x1="0" y1="0" x2="0" y2="1"><stop offset="0" stop-color="#c4c4c4"/><stop offset=".0085" stop-color="#bebebe"/><stop offset=".017" stop-color="#afafaf"/><stop offset=".0283" stop-color="#949494"/><stop offset=".0397" stop-color="#787878"/><stop offset=".0482" stop-color="#696969"/><stop offset=".0567" stop-color="#636363"/><stop offset=".0683" stop-color="#6a6a6a"/><stop offset=".08" stop-color="#777777"/><stop offset=".0917" stop-color="#858585"/><stop offset=".1033" stop-color="#8b8b8b"/><stop offset=".1183" stop-color="#878787"/><stop offset=".1383" stop-color="#7c7c7c"/><stop offset=".1533" stop-color="#777777"/><stop offset=".1867" stop-color="#7d7d7d"/><stop offset=".1987" stop-color="#828282"/><stop offset=".2147" stop-color="#8f8f8f"/><stop offset=".2267" stop-color="#949494"/><stop offset=".2567" stop-color="#949494"/><stop offset=".2733" stop-color="#979797"/><stop offset=".29" stop-color="#a0a0a0"/><stop offset=".3067" stop-color="#a8a8a8"/><stop offset=".3233" stop-color="#acacac"/><stop offset=".34" stop-color="#a5a5a5"/><stop offset=".3567" stop-color="#969696"/><stop offset=".3733" stop-color="#868686"/><stop offset=".39" stop-color="#7f7f7f"/><stop offset=".3975" stop-color="#838383"/><stop offset=".405" stop-color="#8c8c8c"/><stop offset=".415" stop-color="#9d9d9d"/><stop offset=".425" stop-color="#adadad"/><stop offset=".4325" stop-color="#b6b6b6"/><stop offset=".44" stop-color="#bababa"/><stop offset=".454" stop-color="#b6b6b6"/><stop offset=".4727" stop-color="#acacac"/><stop offset=".4867" stop-color="#a8a8a8"/><stop offset=".5033" stop-color="#aeaeae"/><stop offset=".5433" stop-color="#b4b4b4"/><stop offset=".5593" stop-color="#afafaf"/><stop offset=".5807" stop-color="#a4a4a4"/><stop offset=".5967" stop-color="#a0a0a0"/><stop offset=".6367" stop-color="#969696"/><stop offset=".6457" stop-color="#919191"/><stop offset=".6577" stop-color="#848484"/><stop offset=".6667" stop-color="#7f7f7f"/><stop offset=".6867" stop-color="#7d7d7d"/><stop offset=".6982" stop-color="#808080"/><stop offset=".7097" stop-color="#888888"/><stop offset=".725" stop-color="#979797"/><stop offset=".7403" stop-color="#a5a5a5"/><stop offset=".7518" stop-color="#adadad"/><stop offset=".7633" stop-color="#b0b0b0"/><stop offset=".7703" stop-color="#ababab"/><stop offset=".7773" stop-color="#a0a0a0"/><stop offset=".7867" stop-color="#8b8b8b"/><stop offset=".796" stop-color="#777777"/><stop offset=".803" stop-color="#6c6c6c"/><stop offset=".81" stop-color="#676767"/><stop offset=".8167" stop-color="#6c6c6c"/><stop offset=".8233" stop-color="#757575"/><stop offset=".83" stop-color="#7f7f7f"/><stop offset=".8367" stop-color="#838383"/><stop offset=".8533" stop-color="#7b7b7b"/><stop offset=".8633" stop-color="#808080"/><stop offset=".8767" stop-color="#8b8b8b"/><stop offset=".8867" stop-color="#909090"/><stop offset=".9017" stop-color="#8d8d8d"/><stop offset=".9217" stop-color="#868686"/><stop offset=".9367" stop-color="#838383"/><stop offset=".9417" stop-color="#808080"/><stop offset=".9467" stop-color="#787878"/><stop offset=".9533" stop-color="#696969"/><stop offset=".96" stop-color="#5a5a5a"/><stop offset=".965" stop-color="#525252"/><stop offset=".97" stop-color="#4f4f4f"/><stop offset=".9775" stop-color="#535353"/><stop offset=".985" stop-color="#5c5c5c"/><stop offset=".9925" stop-color="#656565"/><stop offset="1" stop-color="#696969"/></linearGradient>
<linearGradient id="c56" x1="0" y1="0" x2="0" y2="1"><stop offset="0" stop-color="#d4d4d4"/><stop offset=".0085" stop-color="#cfcfcf"/><stop offset=".017" stop-color="#c2c2c2"/><stop offset=".0283" stop-color="#aaaaaa"/><stop offset=".0397" stop-color="#929292"/><stop offset=".0482" stop-color="#858585"/><stop offset=".0567" stop-color="#7f7f7f"/><stop offset=".0707" stop-color="#7d7d7d"/><stop offset=".0893" stop-color="#767676"/><stop offset=".1033" stop-color="#737373"/><stop offset=".1533" stop-color="#777777"/><stop offset=".1867" stop-color="#7d7d7d"/><stop offset=".2267" stop-color="#878787"/><stop offset=".2357" stop-color="#8a8a8a"/><stop offset=".2477" stop-color="#919191"/><stop offset=".2567" stop-color="#949494"/><stop offset=".3233" stop-color="#9c9c9c"/><stop offset=".3433" stop-color="#989898"/><stop offset=".37" stop-color="#8f8f8f"/><stop offset=".39" stop-color="#8b8b8b"/><stop offset=".4025" stop-color="#929292"/><stop offset=".415" stop-color="#a0a0a0"/><stop offset=".4275" stop-color="#adadad"/><stop offset=".44" stop-color="#b4b4b4"/><stop offset=".4867" stop-color="#aaaaaa"/><stop offset=".5033" stop-color="#b0b0b0"/><stop offset=".5433" stop-color="#aeaeae"/><stop offset=".5593" stop-color="#ababab"/><stop offset=".5807" stop-color="#a3a3a3"/><stop offset=".5967" stop-color="#a0a0a0"/><stop offset=".6367" stop-color="#969696"/><stop offset=".6457" stop-color="#919191"/><stop offset=".6577" stop-color="#848484"/><stop offset=".6667" stop-color="#7f7f7f"/><stop offset=".6867" stop-color="#777777"/><stop offset=".7058" stop-color="#7b7b7b"/><stop offset=".725" stop-color="#838383"/><stop offset=".7442" stop-color="#8c8c8c"/><stop offset=".7633" stop-color="#909090"/><stop offset=".775" stop-color="#8a8a8a"/><stop offset=".7867" stop-color="#7f7f7f"/><stop offset=".7983" stop-color="#747474"/><stop offset=".81" stop-color="#6f6f6f"/><stop offset=".818" stop-color="#747474"/><stop offset=".8287" stop-color="#7f7f7f"/><stop offset=".8367" stop-color="#838383"/><stop offset=".8533" stop-color="#7b7b7b"/><stop offset=".8867" stop-color="#7f7f7f"/><stop offset=".9017" stop-color="#7d7d7d"/><stop offset=".9217" stop-color="#767676"/><stop offset=".9367" stop-color="#737373"/><stop offset=".9467" stop-color="#6f6f6f"/><stop offset=".96" stop-color="#646464"/><stop offset=".97" stop-color="#5f5f5f"/><stop offset="1" stop-color="#696969"/></linearGradient>
<linearGradient id="c57" x1="0" y1="0" x2="0" y2="1"><stop offset="0" stop-color="#d4d4d4"/><stop offset=".0085" stop-color="#cfcfcf"/><stop offset=".017" stop-color="#c2c2c2"/><stop offset=".0283" stop-color="#aaaaaa"/><stop offset=".0397" stop-color="#929292"/><stop offset=".0482" stop-color="#858585"/><stop offset=".0567" stop-color="#7f7f7f"/><stop offset=".0707" stop-color="#7d7d7d"/><stop offset=".0893" stop-color="#767676"/><stop offset=".1033" stop-color="#737373"/><stop offset=".1533" stop-color="#717171"/><stop offset=".1633" stop-color="#747474"/><stop offset=".1767" stop-color="#7b7b7b"/><stop offset=".1867" stop-color="#7d7d7d"/><stop offset=".1987" stop-color="#808080"/><stop offset=".2147" stop-color="#888888"/><stop offset=".2267" stop-color="#8b8b8b"/><stop offset=".2357" stop-color="#8e8e8e"/><stop offset=".2477" stop-color="#959595"/><stop offset=".2567" stop-color="#989898"/><stop offset=".3233" stop-color="#9c9c9c"/><stop offset=".34" stop-color="#989898"/><stop offset=".3567" stop-color="#909090"/><stop offset=".3733" stop-color="#878787"/><stop offset=".39" stop-color="#838383"/><stop offset=".3975" stop-color="#878787"/><stop offset=".405" stop-color="#909090"/><stop offset=".415" stop-color="#a1a1a1"/><stop offset=".425" stop-color="#b1b1b1"/><stop offset=".4325" stop-color="#bababa"/><stop offset=".44" stop-color="#bebebe"/><stop offset=".454" stop-color="#b9b9b9"/><stop offset=".4727" stop-color="#aeaeae"/><stop offset=".4867" stop-color="#aaaaaa"/><stop offset=".5033" stop-color="#b0b0b0"/><stop offset=".5153" stop-color="#adadad"/><stop offset=".5313" stop-color="#a6a6a6"/><stop offset=".5433" stop-color="#a4a4a4"/><stop offset=".5967" stop-color="#a0a0a0"/><stop offset=".6367" stop-color="#969696"/><stop offset=".6457" stop-color="#919191"/><stop offset=".6577" stop-color="#848484"/><stop offset=".6667" stop-color="#7f7f7f"/><stop offset=".6717" stop-color="#7c7c7c"/><stop offset=".6767" stop-color="#737373"/><stop offset=".6817" stop-color="#6b6b6b"/><stop offset=".6867" stop-color="#676767"/><stop offset=".7058" stop-color="#6d6d6d"/><stop offset=".725" stop-color="#797979"/><stop offset=".7442" stop-color="#868686"/><stop offset=".7633" stop-color="#8b8b8b"/><stop offset=".7773" stop-color="#878787"/><stop offset=".796" stop-color="#7c7c7c"/><stop offset=".81" stop-color="#777777"/><stop offset=".8167" stop-color="#7b7b7b"/><stop offset=".8233" stop-color="#838383"/><stop offset=".83" stop-color="#8c8c8c"/><stop offset=".8367" stop-color="#909090"/><stop offset=".8417" stop-color="#8c8c8c"/><stop offset=".8483" stop-color="#838383"/><stop offset=".8533" stop-color="#7f7f7f"/><stop offset=".8867" stop-color="#777777"/><stop offset=".9367" stop-color="#6f6f6f"/><stop offset=".945" stop-color="#6a6a6a"/><stop offset=".9533" stop-color="#5f5f5f"/><stop offset=".9617" stop-color="#545454"/><stop offset=".97" stop-color="#4f4f4f"/><stop offset=".9775" stop-color="#535353"/><stop offset=".985" stop-color="#5c5c5c"/><stop offset=".9925" stop-color="#656565"/><stop offset="1" stop-color="#696969"/></linearGradient>
<linearGradient id="c58" x1="0" y1="0" x2="0" y2="1"><stop offset="0" stop-color="#d4d4d4"/><stop offset=".0085" stop-color="#cfcfcf"/><stop offset=".017" stop-color="#c2c2c2"/><stop offset=".0283" stop-color="#aaaaaa"/><stop offset=".0397" stop-color="#929292"/><stop offset=".0482" stop-color="#858585"/><stop offset=".0567" stop-color="#7f7f7f"/><stop offset=".0707" stop-color="#7d7d7d"/><stop offset=".0893" stop-color="#767676"/><stop offset=".1033" stop-color="#737373"/><stop offset=".1533" stop-color="#717171"/><stop offset=".1867" stop-color="#777777"/><stop offset=".1987" stop-color="#7c7c7c"/><stop offset=".2147" stop-color="#878787"/><stop offset=".2267" stop-color="#8b8b8b"/><stop offset=".2357" stop-color="#8e8e8e"/><stop offset=".2477" stop-color="#959595"/><stop offset=".2567" stop-color="#989898"/><stop offset=".3233" stop-color="#a0a0a0"/><stop offset=".3433" stop-color="#9d9d9d"/><stop offset=".37" stop-color="#969696"/><stop offset=".39" stop-color="#949494"/><stop offset=".4025" stop-color="#9a9a9a"/><stop offset=".415" stop-color="#a9a9a9"/><stop offset=".4275" stop-color="#b7b7b7"/><stop offset=".44" stop-color="#bebebe"/><stop offset=".454" stop-color="#b9b9b9"/><stop offset=".4727" stop-color="#aeaeae"/><stop offset=".4867" stop-color="#aaaaaa"/><stop offset=".5033" stop-color="#aaaaaa"/><stop offset=".5433" stop-color="#a0a0a0"/><stop offset=".5967" stop-color="#a0a0a0"/><stop offset=".6367" stop-color="#9a9a9a"/><stop offset=".6457" stop-color="#959595"/><stop offset=".6577" stop-color="#888888"/><stop offset=".6667" stop-color="#838383"/><stop offset=".6727" stop-color="#808080"/><stop offset=".6807" stop-color="#757575"/><stop offset=".6867" stop-color="#717171"/><stop offset=".7058" stop-color="#757575"/><stop offset=".725" stop-color="#7e7e7e"/><stop offset=".7442" stop-color="#878787"/><stop offset=".7633" stop-color="#8b8b8b"/><stop offset=".7773" stop-color="#878787"/><stop offset=".796" stop-color="#7c7c7c"/><stop offset=".81" stop-color="#777777"/><stop offset=".8367" stop-color="#7f7f7f"/><stop offset=".8417" stop-color="#7d7d7d"/><stop offset=".8483" stop-color="#767676"/><stop offset=".8533" stop-color="#737373"/><stop offset=".8633" stop-color="#777777"/><stop offset=".8767" stop-color="#808080"/><stop offset=".8867" stop-color="#838383"/><stop offset=".9017" stop-color="#7f7f7f"/><stop offset=".9217" stop-color="#747474"/><stop offset=".9367" stop-color="#6f6f6f"/><stop offset=".9467" stop-color="#6c6c6c"/><stop offset=".96" stop-color="#636363"/><stop offset=".97" stop-color="#5f5f5f"/><stop offset="1" stop-color="#696969"/></linearGradient>
<linearGradient id="c59" x1="0" y1="0" x2="0" y2="1"><stop offset="0" stop-color="#d8d8d8"/><stop offset=".0085" stop-color="#d3d3d3"/><stop offset=".017" stop-color="#c5c5c5"/><stop offset=".0283" stop-color="#adadad"/><stop offset=".0397" stop-color="#949494"/><stop offset=".0482" stop-color="#878787"/><stop offset=".0567" stop-color="#818181"/><stop offset=".1033" stop-color="#777777"/><stop offset=".1533" stop-color="#717171"/><stop offset=".1867" stop-color="#777777"/><stop offset=".1987" stop-color="#7c7c7c"/><stop offset=".2147" stop-color="#878787"/><stop offset=".2267" stop-color="#8b8b8b"/><stop offset=".2357" stop-color="#8e8e8e"/><stop offset=".2477" stop-color="#959595"/><stop offset=".2567" stop-color="#989898"/><stop offset=".2767" stop-color="#9c9c9c"/><stop offset=".3033" stop-color="#a7a7a7"/><stop offset=".3233" stop-color="#acacac"/><stop offset=".3433" stop-color="#a7a7a7"/><stop offset=".37" stop-color="#9a9a9a"/><stop offset=".39" stop-color="#969696"/><stop offset=".4025" stop-color="#9c9c9c"/><stop offset=".415" stop-color="#ababab"/><stop offset=".4275" stop-color="#b9b9b9"/><stop offset=".44" stop-color="#c0c0c0"/><stop offset=".4517" stop-color="#bcbcbc"/><stop offset=".4633" stop-color="#b4b4b4"/><stop offset=".475" stop-color="#ababab"/><stop offset=".4867" stop-color="#a8a8a8"/><stop offset=".5033" stop-color="#aaaaaa"/><stop offset=".5433" stop-color="#a0a0a0"/><stop offset=".5967" stop-color="#aaaaaa"/><stop offset=".6087" stop-color="#a6a6a6"/><stop offset=".6247" stop-color="#9d9d9d"/><stop offset=".6367" stop-color="#9a9a9a"/><stop offset=".6457" stop-color="#959595"/><stop offset=".6577" stop-color="#888888"/><stop offset=".6667" stop-color="#838383"/><stop offset=".6727" stop-color="#818181"/><stop offset=".6807" stop-color="#7a7a7a"/><stop offset=".6867" stop-color="#777777"/><stop offset=".7097" stop-color="#7c7c7c"/><stop offset=".7403" stop-color="#878787"/><stop offset=".7633" stop-color="#8b8b8b"/><stop offset=".7773" stop-color="#878787"/><stop offset=".796" stop-color="#7c7c7c"/><stop offset=".81" stop-color="#777777"/><stop offset=".8367" stop-color="#7f7f7f"/><stop offset=".8533" stop-color="#7b7b7b"/><stop offset=".8867" stop-color="#7f7f7f"/><stop offset=".9017" stop-color="#7c7c7c"/><stop offset=".9217" stop-color="#737373"/><stop offset=".9367" stop-color="#6f6f6f"/><stop offset=".9467" stop-color="#6c6c6c"/><stop offset=".96" stop-color="#636363"/><stop offset=".97" stop-color="#5f5f5f"/><stop offset="1" stop-color="#696969"/></linearGradient>
<linearGradient id="c60" x1="0" y1="0" x2="0" y2="1"><stop offset="0" stop-color="#f6f6f6"/><stop offset=".0085" stop-color="#efefef"/><stop offset=".017" stop-color="#dddddd"/><stop offset=".0283" stop-color="#bcbcbc"/><stop offset=".0397" stop-color="#9b9b9b"/><stop offset=".0482" stop-color="#898989"/><stop offset=".0567" stop-color="#818181"/><stop offset=".1033" stop-color="#777777"/><stop offset=".1183" stop-color="#737373"/><stop offset=".1383" stop-color="#686868"/><stop offset=".1533" stop-color="#636363"/><stop offset=".1633" stop-color="#666666"/><stop offset=".1767" stop-color="#6d6d6d"/><stop offset=".1867" stop-color="#6f6f6f"/><stop offset=".1967" stop-color="#747474"/><stop offset=".2067" stop-color="#7d7d7d"/><stop offset=".2167" stop-color="#878787"/><stop offset=".2267" stop-color="#8b8b8b"/><stop offset=".2342" stop-color="#8f8f8f"/><stop offset=".2417" stop-color="#989898"/><stop offset=".2492" stop-color="#a0a0a0"/><stop offset=".2567" stop-color="#a4a4a4"/><stop offset=".2767" stop-color="#a7a7a7"/><stop offset=".3033" stop-color="#b0b0b0"/><stop offset=".3233" stop-color="#b4b4b4"/><stop offset=".3333" stop-color="#b1b1b1"/><stop offset=".3433" stop-color="#a8a8a8"/><stop offset=".3567" stop-color="#9a9a9a"/><stop offset=".37" stop-color="#8b8b8b"/><stop offset=".38" stop-color="#838383"/><stop offset=".39" stop-color="#7f7f7f"/><stop offset=".3975" stop-color="#848484"/><stop offset=".405" stop-color="#909090"/><stop offset=".415" stop-color="#a7a7a7"/><stop offset=".425" stop-color="#bdbdbd"/><stop offset=".4325" stop-color="#c9c9c9"/><stop offset=".44" stop-color="#cecece"/><stop offset=".4517" stop-color="#c7c7c7"/><stop offset=".4633" stop-color="#b9b9b9"/><stop offset=".475" stop-color="#aaaaaa"/><stop offset=".4867" stop-color="#a4a4a4"/><stop offset=".4917" stop-color="#a6a6a6"/><stop offset=".4983" stop-color="#adadad"/><stop offset=".5033" stop-color="#b0b0b0"/><stop offset=".5153" stop-color="#ababab"/><stop offset=".5313" stop-color="#9e9e9e"/><stop offset=".5433" stop-color="#9a9a9a"/><stop offset=".5567" stop-color="#a0a0a0"/><stop offset=".57" stop-color="#adadad"/><stop offset=".5833" stop-color="#bababa"/><stop offset=".5967" stop-color="#c0c0c0"/><stop offset=".6067" stop-color="#bababa"/><stop offset=".6167" stop-color="#adadad"/><stop offset=".6267" stop-color="#a0a0a0"/><stop offset=".6367" stop-color="#9a9a9a"/><stop offset=".6457" stop-color="#959595"/><stop offset=".6577" stop-color="#888888"/><stop offset=".6667" stop-color="#838383"/><stop offset=".6727" stop-color="#818181"/><stop offset=".6807" stop-color="#7a7a7a"/><stop offset=".6867" stop-color="#777777"/><stop offset=".6982" stop-color="#7c7c7c"/><stop offset=".7097" stop-color="#868686"/><stop offset=".725" stop-color="#9a9a9a"/><stop offset=".7403" stop-color="#adadad"/><stop offset=".7518" stop-color="#b8b8b8"/><stop offset=".7633" stop-color="#bcbcbc"/><stop offset=".7703" stop-color="#b6b6b6"/><stop offset=".7773" stop-color="#a7a7a7"/><stop offset=".7867" stop-color="#8b8b8b"/><stop offset=".796" stop-color="#707070"/><stop offset=".803" stop-color="#616161"/><stop offset=".81" stop-color="#5b5b5b"/><stop offset=".8167" stop-color="#636363"/><stop offset=".8233" stop-color="#737373"/><stop offset=".83" stop-color="#848484"/><stop offset=".8367" stop-color="#8b8b8b"/><stop offset=".8417" stop-color="#888888"/><stop offset=".8483" stop-color="#7f7f7f"/><stop offset=".8533" stop-color="#7b7b7b"/><stop offset=".8867" stop-color="#7f7f7f"/><stop offset=".9017" stop-color="#7c7c7c"/><stop offset=".9217" stop-color="#737373"/><stop offset=".9367" stop-color="#6f6f6f"/><stop offset=".945" stop-color="#6c6c6c"/><stop offset=".9533" stop-color="#636363"/><stop offset=".9617" stop-color="#5b5b5b"/><stop offset=".97" stop-color="#575757"/><stop offset=".979" stop-color="#5b5b5b"/><stop offset=".991" stop-color="#656565"/><stop offset="1" stop-color="#696969"/></linearGradient>
<linearGradient id="c61" x1="0" y1="0" x2="0" y2="1"><stop offset="0" stop-color="#f6f6f6"/><stop offset=".0085" stop-color="#efefef"/><stop offset=".017" stop-color="#dddddd"/><stop offset=".0283" stop-color="#bcbcbc"/><stop offset=".0397" stop-color="#9b9b9b"/><stop offset=".0482" stop-color="#898989"/><stop offset=".0567" stop-color="#818181"/><stop offset=".1033" stop-color="#777777"/><stop offset=".1183" stop-color="#737373"/><stop offset=".1383" stop-color="#686868"/><stop offset=".1533" stop-color="#636363"/><stop offset=".1633" stop-color="#666666"/><stop offset=".1767" stop-color="#6d6d6d"/><stop offset=".1867" stop-color="#6f6f6f"/><stop offset=".1987" stop-color="#747474"/><stop offset=".2147" stop-color="#7f7f7f"/><stop offset=".2267" stop-color="#838383"/><stop offset=".2357" stop-color="#878787"/><stop offset=".2477" stop-color="#929292"/><stop offset=".2567" stop-color="#969696"/><stop offset=".2733" stop-color="#999999"/><stop offset=".29" stop-color="#a2a2a2"/><stop offset=".3067" stop-color="#aaaaaa"/><stop offset=".3233" stop-color="#aeaeae"/><stop offset=".34" stop-color="#a7a7a7"/><stop offset=".3567" stop-color="#999999"/><stop offset=".3733" stop-color="#8a8a8a"/><stop offset=".39" stop-color="#838383"/><stop offset=".3975" stop-color="#878787"/><stop offset=".405" stop-color="#919191"/><stop offset=".415" stop-color="#a3a3a3"/><stop offset=".425" stop-color="#b4b4b4"/><stop offset=".4325" stop-color="#bebebe"/><stop offset=".44" stop-color="#c2c2c2"/><stop offset=".4517" stop-color="#bcbcbc"/><stop offset=".4633" stop-color="#b1b1b1"/><stop offset=".475" stop-color="#a5a5a5"/><stop offset=".4867" stop-color="#a0a0a0"/><stop offset=".4917" stop-color="#a3a3a3"/><stop offset=".4983" stop-color="#acacac"/><stop offset=".5033" stop-color="#b0b0b0"/><stop offset=".5433" stop-color="#a6a6a6"/><stop offset=".5593" stop-color="#aaaaaa"/><stop offset=".5807" stop-color="#b5b5b5"/><stop offset=".5967" stop-color="#bababa"/><stop offset=".6067" stop-color="#b5b5b5"/><stop offset=".6167" stop-color="#aaaaaa"/><stop offset=".6267" stop-color="#9f9f9f"/><stop offset=".6367" stop-color="#9a9a9a"/><stop offset=".6457" stop-color="#959595"/><stop offset=".6577" stop-color="#888888"/><stop offset=".6667" stop-color="#838383"/><stop offset=".6727" stop-color="#818181"/><stop offset=".6807" stop-color="#7a7a7a"/><stop offset=".6867" stop-color="#777777"/><stop offset=".7097" stop-color="#7c7c7c"/><stop offset=".7403" stop-color="#878787"/><stop offset=".7633" stop-color="#8b8b8b"/><stop offset=".775" stop-color="#878787"/><stop offset=".7867" stop-color="#7c7c7c"/><stop offset=".7983" stop-color="#727272"/><stop offset=".81" stop-color="#6d6d6d"/><stop offset=".8167" stop-color="#727272"/><stop offset=".8233" stop-color="#7c7c7c"/><stop offset=".83" stop-color="#878787"/><stop offset=".8367" stop-color="#8b8b8b"/><stop offset=".8417" stop-color="#888888"/><stop offset=".8483" stop-color="#7f7f7f"/><stop offset=".8533" stop-color="#7b7b7b"/><stop offset=".8867" stop-color="#7f7f7f"/><stop offset=".9017" stop-color="#7c7c7c"/><stop offset=".9217" stop-color="#737373"/><stop offset=".9367" stop-color="#6f6f6f"/><stop offset=".945" stop-color="#696969"/><stop offset=".9533" stop-color="#5b5b5b"/><stop offset=".9617" stop-color="#4d4d4d"/><stop offset=".97" stop-color="#474747"/><stop offset=".9775" stop-color="#4c4c4c"/><stop offset=".985" stop-color="#585858"/><stop offset=".9925" stop-color="#646464"/><stop offset="1" stop-color="#696969"/></linearGradient>
<linearGradient id="c62" x1="0" y1="0" x2="0" y2="1"><stop offset="0" stop-color="#e6e6e6"/><stop offset=".0085" stop-color="#dedede"/><stop offset=".017" stop-color="#cacaca"/><stop offset=".0283" stop-color="#a5a5a5"/><stop offset=".0397" stop-color="#7f7f7f"/><stop offset=".0482" stop-color="#6b6b6b"/><stop offset=".0567" stop-color="#636363"/><stop offset=".0637" stop-color="#666666"/><stop offset=".0707" stop-color="#6e6e6e"/><stop offset=".08" stop-color="#7c7c7c"/><stop offset=".0893" stop-color="#8b8b8b"/><stop offset=".0963" stop-color="#929292"/><stop offset=".1033" stop-color="#969696"/><stop offset=".1108" stop-color="#929292"/><stop offset=".1183" stop-color="#8b8b8b"/><stop offset=".1283" stop-color="#7c7c7c"/><stop offset=".1383" stop-color="#6e6e6e"/><stop offset=".1458" stop-color="#666666"/><stop offset=".1533" stop-color="#636363"/><stop offset=".1633" stop-color="#666666"/><stop offset=".1767" stop-color="#6d6d6d"/><stop offset=".1867" stop-color="#6f6f6f"/><stop offset=".2267" stop-color="#737373"/><stop offset=".2357" stop-color="#767676"/><stop offset=".2477" stop-color="#7d7d7d"/><stop offset=".2567" stop-color="#7f7f7f"/><stop offset=".2733" stop-color="#848484"/><stop offset=".29" stop-color="#909090"/><stop offset=".3067" stop-color="#9b9b9b"/><stop offset=".3233" stop-color="#a0a0a0"/><stop offset=".39" stop-color="#989898"/><stop offset=".3975" stop-color="#9b9b9b"/><stop offset=".405" stop-color="#a3a3a3"/><stop offset=".415" stop-color="#b3b3b3"/><stop offset=".425" stop-color="#c2c2c2"/><stop offset=".4325" stop-color="#cbcbcb"/><stop offset=".44" stop-color="#cecece"/><stop offset=".447" stop-color="#cacaca"/><stop offset=".454" stop-color="#bfbfbf"/><stop offset=".4633" stop-color="#ababab"/><stop offset=".4727" stop-color="#979797"/><stop offset=".4797" stop-color="#8c8c8c"/><stop offset=".4867" stop-color="#878787"/><stop offset=".4908" stop-color="#8f8f8f"/><stop offset=".495" stop-color="#a1a1a1"/><stop offset=".4992" stop-color="#b2b2b2"/><stop offset=".5033" stop-color="#bababa"/><stop offset=".5433" stop-color="#b4b4b4"/><stop offset=".5967" stop-color="#b6b6b6"/><stop offset=".6067" stop-color="#b1b1b1"/><stop offset=".6167" stop-color="#a8a8a8"/><stop offset=".6267" stop-color="#9e9e9e"/><stop offset=".6367" stop-color="#9a9a9a"/><stop offset=".6442" stop-color="#969696"/><stop offset=".6517" stop-color="#8d8d8d"/><stop offset=".6592" stop-color="#858585"/><stop offset=".6667" stop-color="#818181"/><stop offset=".6717" stop-color="#7d7d7d"/><stop offset=".6767" stop-color="#727272"/><stop offset=".6817" stop-color="#686868"/><stop offset=".6867" stop-color="#636363"/><stop offset=".6982" stop-color="#676767"/><stop offset=".7097" stop-color="#707070"/><stop offset=".725" stop-color="#818181"/><stop offset=".7403" stop-color="#939393"/><stop offset=".7518" stop-color="#9c9c9c"/><stop offset=".7633" stop-color="#a0a0a0"/><stop offset=".7703" stop-color="#9c9c9c"/><stop offset=".7773" stop-color="#929292"/><stop offset=".7867" stop-color="#7f7f7f"/><stop offset=".796" stop-color="#6d6d6d"/><stop offset=".803" stop-color="#636363"/><stop offset=".81" stop-color="#5f5f5f"/><stop offset=".8167" stop-color="#656565"/><stop offset=".8233" stop-color="#717171"/><stop offset=".83" stop-color="#7e7e7e"/><stop offset=".8367" stop-color="#838383"/><stop offset=".8417" stop-color="#7f7f7f"/><stop offset=".8483" stop-color="#747474"/><stop offset=".8533" stop-color="#6f6f6f"/><stop offset=".8617" stop-color="#777777"/><stop offset=".87" stop-color="#878787"/><stop offset=".8783" stop-color="#989898"/><stop offset=".8867" stop-color="#a0a0a0"/><stop offset=".8992" stop-color="#999999"/><stop offset=".9117" stop-color="#8b8b8b"/><stop offset=".9242" stop-color="#7e7e7e"/><stop offset=".9367" stop-color="#777777"/><stop offset=".9417" stop-color="#727272"/><stop offset=".9467" stop-color="#656565"/><stop offset=".9533" stop-color="#4d4d4d"/><stop offset=".96" stop-color="#353535"/><stop offset=".965" stop-color="#282828"/><stop offset=".97" stop-color="#232323"/><stop offset=".9745" stop-color="#272727"/><stop offset=".979" stop-color="#303030"/><stop offset=".985" stop-color="#424242"/><stop offset=".991" stop-color="#545454"/><stop offset=".9955" stop-color="#5d5d5d"/><stop offset="1" stop-color="#616161"/></linearGradient>
<linearGradient id="c63" x1="0" y1="0" x2="0" y2="1"><stop offset="0" stop-color="#e2e2e2"/><stop offset=".0085" stop-color="#dcdcdc"/><stop offset=".017" stop-color="#cccccc"/><stop offset=".0283" stop-color="#afafaf"/><stop offset=".0397" stop-color="#929292"/><stop offset=".0482" stop-color="#828282"/><stop offset=".0567" stop-color="#7b7b7b"/><stop offset=".1033" stop-color="#7f7f7f"/><stop offset=".1183" stop-color="#7c7c7c"/><stop offset=".1383" stop-color="#737373"/><stop offset=".1533" stop-color="#6f6f6f"/><stop offset=".1867" stop-color="#6f6f6f"/><stop offset=".2267" stop-color="#777777"/><stop offset=".2357" stop-color="#7c7c7c"/><stop offset=".2477" stop-color="#878787"/><stop offset=".2567" stop-color="#8b8b8b"/><stop offset=".2733" stop-color="#909090"/><stop offset=".29" stop-color="#9b9b9b"/><stop offset=".3067" stop-color="#a5a5a5"/><stop offset=".3233" stop-color="#aaaaaa"/><stop offset=".34" stop-color="#a6a6a6"/><stop offset=".3567" stop-color="#9e9e9e"/><stop offset=".3733" stop-color="#959595"/><stop offset=".39" stop-color="#929292"/><stop offset=".4025" stop-color="#999999"/><stop offset=".415" stop-color="#aaaaaa"/><stop offset=".4275" stop-color="#bababa"/><stop offset=".44" stop-color="#c2c2c2"/><stop offset=".4517" stop-color="#bcbcbc"/><stop offset=".4633" stop-color="#afafaf"/><stop offset=".475" stop-color="#a2a2a2"/><stop offset=".4867" stop-color="#9c9c9c"/><stop offset=".4908" stop-color="#a0a0a0"/><stop offset=".495" stop-color="#a9a9a9"/><stop offset=".4992" stop-color="#b2b2b2"/><stop offset=".5033" stop-color="#b6b6b6"/><stop offset=".5433" stop-color="#b6b6b6"/><stop offset=".5967" stop-color="#b6b6b6"/><stop offset=".6067" stop-color="#b1b1b1"/><stop offset=".6167" stop-color="#a8a8a8"/><stop offset=".6267" stop-color="#9e9e9e"/><stop offset=".6367" stop-color="#9a9a9a"/><stop offset=".6442" stop-color="#969696"/><stop offset=".6517" stop-color="#8d8d8d"/><stop offset=".6592" stop-color="#858585"/><stop offset=".6667" stop-color="#818181"/><stop offset=".6717" stop-color="#7d7d7d"/><stop offset=".6767" stop-color="#727272"/><stop offset=".6817" stop-color="#686868"/><stop offset=".6867" stop-color="#636363"/><stop offset=".7058" stop-color="#6a6a6a"/><stop offset=".725" stop-color="#777777"/><stop offset=".7442" stop-color="#858585"/><stop offset=".7633" stop-color="#8b8b8b"/><stop offset=".775" stop-color="#868686"/><stop offset=".7867" stop-color="#7b7b7b"/><stop offset=".7983" stop-color="#707070"/><stop offset=".81" stop-color="#6b6b6b"/><stop offset=".8167" stop-color="#6f6f6f"/><stop offset=".8233" stop-color="#777777"/><stop offset=".83" stop-color="#808080"/><stop offset=".8367" stop-color="#838383"/><stop offset=".8533" stop-color="#7f7f7f"/><stop offset=".8633" stop-color="#848484"/><stop offset=".8767" stop-color="#919191"/><stop offset=".8867" stop-color="#969696"/><stop offset=".8992" stop-color="#919191"/><stop offset=".9117" stop-color="#868686"/><stop offset=".9242" stop-color="#7c7c7c"/><stop offset=".9367" stop-color="#777777"/><stop offset=".9417" stop-color="#747474"/><stop offset=".9467" stop-color="#6a6a6a"/><stop offset=".9533" stop-color="#595959"/><stop offset=".96" stop-color="#484848"/><stop offset=".965" stop-color="#3f3f3f"/><stop offset=".97" stop-color="#3b3b3b"/><stop offset=".9775" stop-color="#414141"/><stop offset=".985" stop-color="#4e4e4e"/><stop offset=".9925" stop-color="#5b5b5b"/><stop offset="1" stop-color="#616161"/></linearGradient>
<linearGradient id="c64" x1="0" y1="0" x2="0" y2="1"><stop offset="0" stop-color="#d2d2d2"/><stop offset=".0085" stop-color="#cdcdcd"/><stop offset=".017" stop-color="#c2c2c2"/><stop offset=".0283" stop-color="#adadad"/><stop offset=".0397" stop-color="#989898"/><stop offset=".0482" stop-color="#8c8c8c"/><stop offset=".0567" stop-color="#878787"/><stop offset=".1033" stop-color="#7f7f7f"/><stop offset=".1183" stop-color="#7c7c7c"/><stop offset=".1383" stop-color="#737373"/><stop offset=".1533" stop-color="#6f6f6f"/><stop offset=".1633" stop-color="#727272"/><stop offset=".1767" stop-color="#797979"/><stop offset=".1867" stop-color="#7b7b7b"/><stop offset=".2267" stop-color="#818181"/><stop offset=".2357" stop-color="#858585"/><stop offset=".2477" stop-color="#909090"/><stop offset=".2567" stop-color="#949494"/><stop offset=".2733" stop-color="#989898"/><stop offset=".29" stop-color="#a2a2a2"/><stop offset=".3067" stop-color="#ababab"/><stop offset=".3233" stop-color="#b0b0b0"/><stop offset=".34" stop-color="#ababab"/><stop offset=".3567" stop-color="#a1a1a1"/><stop offset=".3733" stop-color="#969696"/><stop offset=".39" stop-color="#929292"/><stop offset=".4025" stop-color="#989898"/><stop offset=".415" stop-color="#a8a8a8"/><stop offset=".4275" stop-color="#b7b7b7"/><stop offset=".44" stop-color="#bebebe"/><stop offset=".454" stop-color="#b9b9b9"/><stop offset=".4727" stop-color="#aeaeae"/><stop offset=".4867" stop-color="#aaaaaa"/><stop offset=".4917" stop-color="#acacac"/><stop offset=".4983" stop-color="#b3b3b3"/><stop offset=".5033" stop-color="#b6b6b6"/><stop offset=".5433" stop-color="#b6b6b6"/><stop offset=".5967" stop-color="#bababa"/><stop offset=".6067" stop-color="#b5b5b5"/><stop offset=".6167" stop-color="#aaaaaa"/><stop offset=".6267" stop-color="#9f9f9f"/><stop offset=".6367" stop-color="#9a9a9a"/><stop offset=".6442" stop-color="#969696"/><stop offset=".6517" stop-color="#8d8d8d"/><stop offset=".6592" stop-color="#858585"/><stop offset=".6667" stop-color="#818181"/><stop offset=".6727" stop-color="#7d7d7d"/><stop offset=".6807" stop-color="#707070"/><stop offset=".6867" stop-color="#6b6b6b"/><stop offset=".7058" stop-color="#707070"/><stop offset=".725" stop-color="#7b7b7b"/><stop offset=".7442" stop-color="#868686"/><stop offset=".7633" stop-color="#8b8b8b"/><stop offset=".775" stop-color="#868686"/><stop offset=".7867" stop-color="#7b7b7b"/><stop offset=".7983" stop-color="#707070"/><stop offset=".81" stop-color="#6b6b6b"/><stop offset=".8167" stop-color="#707070"/><stop offset=".8233" stop-color="#797979"/><stop offset=".83" stop-color="#838383"/><stop offset=".8367" stop-color="#878787"/><stop offset=".8533" stop-color="#878787"/><stop offset=".8633" stop-color="#8b8b8b"/><stop offset=".8767" stop-color="#969696"/><stop offset=".8867" stop-color="#9a9a9a"/><stop offset=".8942" stop-color="#979797"/><stop offset=".9017" stop-color="#8f8f8f"/><stop offset=".9117" stop-color="#808080"/><stop offset=".9217" stop-color="#727272"/><stop offset=".9292" stop-color="#6a6a6a"/><stop offset=".9367" stop-color="#676767"/><stop offset=".9417" stop-color="#646464"/><stop offset=".9467" stop-color="#5c5c5c"/><stop offset=".9533" stop-color="#4d4d4d"/><stop offset=".96" stop-color="#3e3e3e"/><stop offset=".965" stop-color="#363636"/><stop offset=".97" stop-color="#333333"/><stop offset=".9775" stop-color="#3a3a3a"/><stop offset=".985" stop-color="#4a4a4a"/><stop offset=".9925" stop-color="#5a5a5a"/><stop offset="1" stop-color="#616161"/></linearGradient>
<linearGradient id="c65" x1="0" y1="0" x2="0" y2="1"><stop offset="0" stop-color="#e2e2e2"/><stop offset=".0085" stop-color="#dddddd"/><stop offset=".017" stop-color="#cecece"/><stop offset=".0283" stop-color="#b5b5b5"/><stop offset=".0397" stop-color="#9b9b9b"/><stop offset=".0482" stop-color="#8d8d8d"/><stop offset=".0567" stop-color="#878787"/><stop offset=".1033" stop-color="#818181"/><stop offset=".1158" stop-color="#7d7d7d"/><stop offset=".1283" stop-color="#747474"/><stop offset=".1408" stop-color="#6b6b6b"/><stop offset=".1533" stop-color="#676767"/><stop offset=".1633" stop-color="#6c6c6c"/><stop offset=".1767" stop-color="#777777"/><stop offset=".1867" stop-color="#7b7b7b"/><stop offset=".1987" stop-color="#808080"/><stop offset=".2147" stop-color="#8b8b8b"/><stop offset=".2267" stop-color="#909090"/><stop offset=".2357" stop-color="#939393"/><stop offset=".2477" stop-color="#9c9c9c"/><stop offset=".2567" stop-color="#a0a0a0"/><stop offset=".3233" stop-color="#a8a8a8"/><stop offset=".34" stop-color="#a4a4a4"/><stop offset=".3567" stop-color="#9c9c9c"/><stop offset=".3733" stop-color="#939393"/><stop offset=".39" stop-color="#909090"/><stop offset=".3975" stop-color="#939393"/><stop offset=".405" stop-color="#9c9c9c"/><stop offset=".415" stop-color="#adadad"/><stop offset=".425" stop-color="#bdbdbd"/><stop offset=".4325" stop-color="#c6c6c6"/><stop offset=".44" stop-color="#cacaca"/><stop offset=".4517" stop-color="#c5c5c5"/><stop offset=".4633" stop-color="#bababa"/><stop offset=".475" stop-color="#afafaf"/><stop offset=".4867" stop-color="#aaaaaa"/><stop offset=".4917" stop-color="#acacac"/><stop offset=".4983" stop-color="#b3b3b3"/><stop offset=".5033" stop-color="#b6b6b6"/><stop offset=".5433" stop-color="#b6b6b6"/><stop offset=".5967" stop-color="#bababa"/><stop offset=".6067" stop-color="#b5b5b5"/><stop offset=".6167" stop-color="#aaaaaa"/><stop offset=".6267" stop-color="#9f9f9f"/><stop offset=".6367" stop-color="#9a9a9a"/><stop offset=".6442" stop-color="#969696"/><stop offset=".6517" stop-color="#8d8d8d"/><stop offset=".6592" stop-color="#858585"/><stop offset=".6667" stop-color="#818181"/><stop offset=".6867" stop-color="#777777"/><stop offset=".7058" stop-color="#7c7c7c"/><stop offset=".725" stop-color="#858585"/><stop offset=".7442" stop-color="#8f8f8f"/><stop offset=".7633" stop-color="#949494"/><stop offset=".775" stop-color="#8c8c8c"/><stop offset=".7867" stop-color="#7b7b7b"/><stop offset=".7983" stop-color="#6b6b6b"/><stop offset=".81" stop-color="#636363"/><stop offset=".8167" stop-color="#6a6a6a"/><stop offset=".8233" stop-color="#797979"/><stop offset=".83" stop-color="#898989"/><stop offset=".8367" stop-color="#909090"/><stop offset=".8417" stop-color="#8b8b8b"/><stop offset=".8483" stop-color="#808080"/><stop offset=".8533" stop-color="#7b7b7b"/><stop offset=".8617" stop-color="#7f7f7f"/><stop offset=".87" stop-color="#878787"/><stop offset=".8783" stop-color="#909090"/><stop offset=".8867" stop-color="#949494"/><stop offset=".8992" stop-color="#8e8e8e"/><stop offset=".9117" stop-color="#818181"/><stop offset=".9242" stop-color="#757575"/><stop offset=".9367" stop-color="#6f6f6f"/><stop offset=".9417" stop-color="#6b6b6b"/><stop offset=".9467" stop-color="#616161"/><stop offset=".9533" stop-color="#4f4f4f"/><stop offset=".96" stop-color="#3d3d3d"/><stop offset=".965" stop-color="#333333"/><stop offset=".97" stop-color="#2f2f2f"/><stop offset=".9745" stop-color="#323232"/><stop offset=".979" stop-color="#3a3a3a"/><stop offset=".985" stop-color="#484848"/><stop offset=".991" stop-color="#565656"/><stop offset=".9955" stop-color="#5e5e5e"/><stop offset="1" stop-color="#616161"/></linearGradient>
<linearGradient id="c66" x1="0" y1="0" x2="0" y2="1"><stop offset="0" stop-color="#e2e2e2"/><stop offset=".0085" stop-color="#dddddd"/><stop offset=".017" stop-color="#cecece"/><stop offset=".0283" stop-color="#b5b5b5"/><stop offset=".0397" stop-color="#9b9b9b"/><stop offset=".0482" stop-color="#8d8d8d"/><stop offset=".0567" stop-color="#878787"/><stop offset=".1033" stop-color="#818181"/><stop offset=".1533" stop-color="#777777"/><stop offset=".1867" stop-color="#818181"/><stop offset=".1967" stop-color="#868686"/><stop offset=".2067" stop-color="#8e8e8e"/><stop offset=".2167" stop-color="#979797"/><stop offset=".2267" stop-color="#9c9c9c"/><stop offset=".2342" stop-color="#9f9f9f"/><stop offset=".2417" stop-color="#a8a8a8"/><stop offset=".2492" stop-color="#b0b0b0"/><stop offset=".2567" stop-color="#b4b4b4"/><stop offset=".3233" stop-color="#b8b8b8"/><stop offset=".34" stop-color="#b2b2b2"/><stop offset=".3567" stop-color="#a6a6a6"/><stop offset=".3733" stop-color="#999999"/><stop offset=".39" stop-color="#949494"/><stop offset=".3975" stop-color="#979797"/><stop offset=".405" stop-color="#9f9f9f"/><stop offset=".415" stop-color="#afafaf"/><stop offset=".425" stop-color="#bebebe"/><stop offset=".4325" stop-color="#c7c7c7"/><stop offset=".44" stop-color="#cacaca"/><stop offset=".4517" stop-color="#c5c5c5"/><stop offset=".4633" stop-color="#bababa"/><stop offset=".475" stop-color="#afafaf"/><stop offset=".4867" stop-color="#aaaaaa"/><stop offset=".4917" stop-color="#adadad"/><stop offset=".4983" stop-color="#b6b6b6"/><stop offset=".5033" stop-color="#bababa"/><stop offset=".5433" stop-color="#b4b4b4"/><stop offset=".5967" stop-color="#b6b6b6"/><stop offset=".6067" stop-color="#b1b1b1"/><stop offset=".6167" stop-color="#a8a8a8"/><stop offset=".6267" stop-color="#9e9e9e"/><stop offset=".6367" stop-color="#9a9a9a"/><stop offset=".6442" stop-color="#949494"/><stop offset=".6517" stop-color="#888888"/><stop offset=".6592" stop-color="#7d7d7d"/><stop offset=".6667" stop-color="#777777"/><stop offset=".6867" stop-color="#7f7f7f"/><stop offset=".6982" stop-color="#838383"/><stop offset=".7097" stop-color="#8b8b8b"/><stop offset=".725" stop-color="#9a9a9a"/><stop offset=".7403" stop-color="#a8a8a8"/><stop offset=".7518" stop-color="#b1b1b1"/><stop offset=".7633" stop-color="#b4b4b4"/><stop offset=".7703" stop-color="#afafaf"/><stop offset=".7773" stop-color="#a2a2a2"/><stop offset=".7867" stop-color="#8b8b8b"/><stop offset=".796" stop-color="#757575"/><stop offset=".803" stop-color="#686868"/><stop offset=".81" stop-color="#636363"/><stop offset=".8167" stop-color="#6a6a6a"/><stop offset=".8233" stop-color="#797979"/><stop offset=".83" stop-color="#898989"/><stop offset=".8367" stop-color="#909090"/><stop offset=".8408" stop-color="#8b8b8b"/><stop offset=".845" stop-color="#818181"/><stop offset=".8492" stop-color="#787878"/><stop offset=".8533" stop-color="#737373"/><stop offset=".8633" stop-color="#767676"/><stop offset=".8767" stop-color="#7d7d7d"/><stop offset=".8867" stop-color="#7f7f7f"/><stop offset=".9017" stop-color="#7d7d7d"/><stop offset=".9217" stop-color="#767676"/><stop offset=".9367" stop-color="#737373"/><stop offset=".9417" stop-color="#6f6f6f"/><stop offset=".9467" stop-color="#656565"/><stop offset=".9533" stop-color="#515151"/><stop offset=".96" stop-color="#3e3e3e"/><stop offset=".965" stop-color="#333333"/><stop offset=".97" stop-color="#2f2f2f"/><stop offset=".9745" stop-color="#323232"/><stop offset=".979" stop-color="#3a3a3a"/><stop offset=".985" stop-color="#484848"/><stop offset=".991" stop-color="#565656"/><stop offset=".9955" stop-color="#5e5e5e"/><stop offset="1" stop-color="#616161"/></linearGradient>
<linearGradient id="c67" x1="0" y1="0" x2="0" y2="1"><stop offset="0" stop-color="#e2e2e2"/><stop offset=".0085" stop-color="#dddddd"/><stop offset=".017" stop-color="#cecece"/><stop offset=".0283" stop-color="#b5b5b5"/><stop offset=".0397" stop-color="#9b9b9b"/><stop offset=".0482" stop-color="#8d8d8d"/><stop offset=".0567" stop-color="#878787"/><stop offset=".1033" stop-color="#818181"/><stop offset=".1533" stop-color="#777777"/><stop offset=".1867" stop-color="#818181"/><stop offset=".1967" stop-color="#878787"/><stop offset=".2067" stop-color="#939393"/><stop offset=".2167" stop-color="#9e9e9e"/><stop offset=".2267" stop-color="#a4a4a4"/><stop offset=".2357" stop-color="#a8a8a8"/><stop offset=".2477" stop-color="#b5b5b5"/><stop offset=".2567" stop-color="#bababa"/><stop offset=".3233" stop-color="#b8b8b8"/><stop offset=".34" stop-color="#b2b2b2"/><stop offset=".3567" stop-color="#a5a5a5"/><stop offset=".3733" stop-color="#979797"/><stop offset=".39" stop-color="#929292"/><stop offset=".3975" stop-color="#959595"/><stop offset=".405" stop-color="#9c9c9c"/><stop offset=".415" stop-color="#ababab"/><stop offset=".425" stop-color="#b9b9b9"/><stop offset=".4325" stop-color="#c1c1c1"/><stop offset=".44" stop-color="#c4c4c4"/><stop offset=".454" stop-color="#bfbfbf"/><stop offset=".4727" stop-color="#b2b2b2"/><stop offset=".4867" stop-color="#aeaeae"/><stop offset=".5033" stop-color="#bababa"/><stop offset=".5433" stop-color="#b0b0b0"/><stop offset=".5967" stop-color="#b6b6b6"/><stop offset=".6067" stop-color="#b1b1b1"/><stop offset=".6167" stop-color="#a8a8a8"/><stop offset=".6267" stop-color="#9e9e9e"/><stop offset=".6367" stop-color="#9a9a9a"/><stop offset=".6442" stop-color="#949494"/><stop offset=".6517" stop-color="#888888"/><stop offset=".6592" stop-color="#7d7d7d"/><stop offset=".6667" stop-color="#777777"/><stop offset=".6727" stop-color="#7a7a7a"/><stop offset=".6807" stop-color="#818181"/><stop offset=".6867" stop-color="#838383"/><stop offset=".7058" stop-color="#8a8a8a"/><stop offset=".725" stop-color="#9a9a9a"/><stop offset=".7442" stop-color="#a9a9a9"/><stop offset=".7633" stop-color="#b0b0b0"/><stop offset=".7703" stop-color="#acacac"/><stop offset=".7773" stop-color="#a1a1a1"/><stop offset=".7867" stop-color="#8d8d8d"/><stop offset=".796" stop-color="#7a7a7a"/><stop offset=".803" stop-color="#6f6f6f"/><stop offset=".81" stop-color="#6b6b6b"/><stop offset=".8167" stop-color="#717171"/><stop offset=".8233" stop-color="#7d7d7d"/><stop offset=".83" stop-color="#8a8a8a"/><stop offset=".8367" stop-color="#909090"/><stop offset=".8408" stop-color="#8b8b8b"/><stop offset=".845" stop-color="#818181"/><stop offset=".8492" stop-color="#787878"/><stop offset=".8533" stop-color="#737373"/><stop offset=".8867" stop-color="#777777"/><stop offset=".9367" stop-color="#737373"/><stop offset=".9417" stop-color="#707070"/><stop offset=".9467" stop-color="#666666"/><stop offset=".9533" stop-color="#545454"/><stop offset=".96" stop-color="#424242"/><stop offset=".965" stop-color="#393939"/><stop offset=".97" stop-color="#353535"/><stop offset=".9775" stop-color="#3c3c3c"/><stop offset=".985" stop-color="#4b4b4b"/><stop offset=".9925" stop-color="#5a5a5a"/><stop offset="1" stop-color="#616161"/></linearGradient>
<linearGradient id="c68" x1="0" y1="0" x2="0" y2="1"><stop offset="0" stop-color="#e6e6e6"/><stop offset=".0085" stop-color="#e0e0e0"/><stop offset=".017" stop-color="#d0d0d0"/><stop offset=".0283" stop-color="#b3b3b3"/><stop offset=".0397" stop-color="#969696"/><stop offset=".0482" stop-color="#868686"/><stop offset=".0567" stop-color="#7f7f7f"/><stop offset=".1033" stop-color="#838383"/><stop offset=".1183" stop-color="#818181"/><stop offset=".1383" stop-color="#7a7a7a"/><stop offset=".1533" stop-color="#777777"/><stop offset=".1633" stop-color="#7c7c7c"/><stop offset=".1767" stop-color="#878787"/><stop offset=".1867" stop-color="#8b8b8b"/><stop offset=".1987" stop-color="#8e8e8e"/><stop offset=".2147" stop-color="#959595"/><stop offset=".2267" stop-color="#989898"/><stop offset=".2342" stop-color="#9c9c9c"/><stop offset=".2417" stop-color="#a6a6a6"/><stop offset=".2492" stop-color="#afafaf"/><stop offset=".2567" stop-color="#b4b4b4"/><stop offset=".3233" stop-color="#b8b8b8"/><stop offset=".34" stop-color="#b0b0b0"/><stop offset=".3567" stop-color="#a0a0a0"/><stop offset=".3733" stop-color="#8f8f8f"/><stop offset=".39" stop-color="#878787"/><stop offset=".3975" stop-color="#8b8b8b"/><stop offset=".405" stop-color="#969696"/><stop offset=".415" stop-color="#a9a9a9"/><stop offset=".425" stop-color="#bcbcbc"/><stop offset=".4325" stop-color="#c6c6c6"/><stop offset=".44" stop-color="#cacaca"/><stop offset=".4517" stop-color="#c5c5c5"/><stop offset=".4633" stop-color="#bcbcbc"/><stop offset=".475" stop-color="#b2b2b2"/><stop offset=".4867" stop-color="#aeaeae"/><stop offset=".4917" stop-color="#b2b2b2"/><stop offset=".4983" stop-color="#bdbdbd"/><stop offset=".5033" stop-color="#c2c2c2"/><stop offset=".5133" stop-color="#bdbdbd"/><stop offset=".5233" stop-color="#b2b2b2"/><stop offset=".5333" stop-color="#a7a7a7"/><stop offset=".5433" stop-color="#a2a2a2"/><stop offset=".5593" stop-color="#a6a6a6"/><stop offset=".5807" stop-color="#b0b0b0"/><stop offset=".5967" stop-color="#b4b4b4"/><stop offset=".6067" stop-color="#afafaf"/><stop offset=".6167" stop-color="#a5a5a5"/><stop offset=".6267" stop-color="#9a9a9a"/><stop offset=".6367" stop-color="#969696"/><stop offset=".6442" stop-color="#919191"/><stop offset=".6517" stop-color="#868686"/><stop offset=".6592" stop-color="#7c7c7c"/><stop offset=".6667" stop-color="#777777"/><stop offset=".6717" stop-color="#7b7b7b"/><stop offset=".6767" stop-color="#838383"/><stop offset=".6817" stop-color="#8c8c8c"/><stop offset=".6867" stop-color="#909090"/><stop offset=".7058" stop-color="#969696"/><stop offset=".725" stop-color="#a4a4a4"/><stop offset=".7442" stop-color="#b1b1b1"/><stop offset=".7633" stop-color="#b8b8b8"/><stop offset=".7703" stop-color="#b3b3b3"/><stop offset=".7773" stop-color="#a5a5a5"/><stop offset=".7867" stop-color="#8d8d8d"/><stop offset=".796" stop-color="#757575"/><stop offset=".803" stop-color="#686868"/><stop offset=".81" stop-color="#636363"/><stop offset=".8167" stop-color="#6a6a6a"/><stop offset=".8233" stop-color="#797979"/><stop offset=".83" stop-color="#898989"/><stop offset=".8367" stop-color="#909090"/><stop offset=".8417" stop-color="#8b8b8b"/><stop offset=".8483" stop-color="#808080"/><stop offset=".8533" stop-color="#7b7b7b"/><stop offset=".8867" stop-color="#777777"/><stop offset=".9367" stop-color="#737373"/><stop offset=".9417" stop-color="#707070"/><stop offset=".9467" stop-color="#676767"/><stop offset=".9533" stop-color="#575757"/><stop offset=".96" stop-color="#474747"/><stop offset=".965" stop-color="#3e3e3e"/><stop offset=".97" stop-color="#3b3b3b"/><stop offset=".9775" stop-color="#414141"/><stop offset=".985" stop-color="#4e4e4e"/><stop offset=".9925" stop-color="#5b5b5b"/><stop offset="1" stop-color="#616161"/></linearGradient>
<linearGradient id="c69" x1="0" y1="0" x2="0" y2="1"><stop offset="0" stop-color="#f6f6f6"/><stop offset=".0085" stop-color="#efefef"/><stop offset=".017" stop-color="#dcdcdc"/><stop offset=".0283" stop-color="#bbbbbb"/><stop offset=".0397" stop-color="#999999"/><stop offset=".0482" stop-color="#878787"/><stop offset=".0567" stop-color="#7f7f7f"/><stop offset=".0707" stop-color="#828282"/><stop offset=".0893" stop-color="#898989"/><stop offset=".1033" stop-color="#8b8b8b"/><stop offset=".1183" stop-color="#878787"/><stop offset=".1383" stop-color="#7c7c7c"/><stop offset=".1533" stop-color="#777777"/><stop offset=".1633" stop-color="#7c7c7c"/><stop offset=".1767" stop-color="#878787"/><stop offset=".1867" stop-color="#8b8b8b"/><stop offset=".2267" stop-color="#8b8b8b"/><stop offset=".2357" stop-color="#909090"/><stop offset=".2477" stop-color="#9b9b9b"/><stop offset=".2567" stop-color="#a0a0a0"/><stop offset=".2767" stop-color="#a4a4a4"/><stop offset=".3033" stop-color="#afafaf"/><stop offset=".3233" stop-color="#b4b4b4"/><stop offset=".34" stop-color="#afafaf"/><stop offset=".3567" stop-color="#a6a6a6"/><stop offset=".3733" stop-color="#9c9c9c"/><stop offset=".39" stop-color="#989898"/><stop offset=".3975" stop-color="#9b9b9b"/><stop offset=".405" stop-color="#a5a5a5"/><stop offset=".415" stop-color="#b7b7b7"/><stop offset=".425" stop-color="#c8c8c8"/><stop offset=".4325" stop-color="#d2d2d2"/><stop offset=".44" stop-color="#d6d6d6"/><stop offset=".4517" stop-color="#d1d1d1"/><stop offset=".4633" stop-color="#c5c5c5"/><stop offset=".475" stop-color="#b9b9b9"/><stop offset=".4867" stop-color="#b4b4b4"/><stop offset=".5033" stop-color="#bababa"/><stop offset=".5153" stop-color="#b5b5b5"/><stop offset=".5313" stop-color="#aaaaaa"/><stop offset=".5433" stop-color="#a6a6a6"/><stop offset=".5567" stop-color="#aaaaaa"/><stop offset=".57" stop-color="#b3b3b3"/><stop offset=".5833" stop-color="#bcbcbc"/><stop offset=".5967" stop-color="#c0c0c0"/><stop offset=".6067" stop-color="#b9b9b9"/><stop offset=".6167" stop-color="#ababab"/><stop offset=".6267" stop-color="#9c9c9c"/><stop offset=".6367" stop-color="#969696"/><stop offset=".6442" stop-color="#919191"/><stop offset=".6517" stop-color="#888888"/><stop offset=".6592" stop-color="#7f7f7f"/><stop offset=".6667" stop-color="#7b7b7b"/><stop offset=".6867" stop-color="#838383"/><stop offset=".7058" stop-color="#8b8b8b"/><stop offset=".725" stop-color="#9c9c9c"/><stop offset=".7442" stop-color="#acacac"/><stop offset=".7633" stop-color="#b4b4b4"/><stop offset=".7703" stop-color="#aeaeae"/><stop offset=".7773" stop-color="#a0a0a0"/><stop offset=".7867" stop-color="#858585"/><stop offset=".796" stop-color="#6b6b6b"/><stop offset=".803" stop-color="#5d5d5d"/><stop offset=".81" stop-color="#575757"/><stop offset=".814" stop-color="#5b5b5b"/><stop offset=".818" stop-color="#656565"/><stop offset=".8233" stop-color="#777777"/><stop offset=".8287" stop-color="#8a8a8a"/><stop offset=".8327" stop-color="#949494"/><stop offset=".8367" stop-color="#989898"/><stop offset=".8408" stop-color="#939393"/><stop offset=".845" stop-color="#898989"/><stop offset=".8492" stop-color="#808080"/><stop offset=".8533" stop-color="#7b7b7b"/><stop offset=".8867" stop-color="#777777"/><stop offset=".9367" stop-color="#737373"/><stop offset=".9417" stop-color="#6f6f6f"/><stop offset=".9467" stop-color="#646464"/><stop offset=".9533" stop-color="#4f4f4f"/><stop offset=".96" stop-color="#3b3b3b"/><stop offset=".965" stop-color="#2f2f2f"/><stop offset=".97" stop-color="#2b2b2b"/><stop offset=".9745" stop-color="#2e2e2e"/><stop offset=".979" stop-color="#373737"/><stop offset=".985" stop-color="#464646"/><stop offset=".991" stop-color="#555555"/><stop offset=".9955" stop-color="#5e5e5e"/><stop offset="1" stop-color="#616161"/></linearGradient>
<linearGradient id="c70" x1="0" y1="0" x2="0" y2="1"><stop offset="0" stop-color="#f6f6f6"/><stop offset=".0085" stop-color="#ededed"/><stop offset=".017" stop-color="#d7d7d7"/><stop offset=".0283" stop-color="#afafaf"/><stop offset=".0397" stop-color="#868686"/><stop offset=".0482" stop-color="#707070"/><stop offset=".0567" stop-color="#676767"/><stop offset=".0683" stop-color="#6d6d6d"/><stop offset=".08" stop-color="#797979"/><stop offset=".0917" stop-color="#868686"/><stop offset=".1033" stop-color="#8b8b8b"/><stop offset=".1158" stop-color="#858585"/><stop offset=".1283" stop-color="#777777"/><stop offset=".1408" stop-color="#6a6a6a"/><stop offset=".1533" stop-color="#636363"/><stop offset=".1617" stop-color="#686868"/><stop offset=".17" stop-color="#737373"/><stop offset=".1783" stop-color="#7e7e7e"/><stop offset=".1867" stop-color="#838383"/><stop offset=".2267" stop-color="#8b8b8b"/><stop offset=".2567" stop-color="#949494"/><stop offset=".2667" stop-color="#979797"/><stop offset=".2767" stop-color="#9f9f9f"/><stop offset=".29" stop-color="#aeaeae"/><stop offset=".3033" stop-color="#bdbdbd"/><stop offset=".3133" stop-color="#c5c5c5"/><stop offset=".3233" stop-color="#c8c8c8"/><stop offset=".3333" stop-color="#c4c4c4"/><stop offset=".3433" stop-color="#bbbbbb"/><stop offset=".3567" stop-color="#aaaaaa"/><stop offset=".37" stop-color="#999999"/><stop offset=".38" stop-color="#8f8f8f"/><stop offset=".39" stop-color="#8b8b8b"/><stop offset=".3975" stop-color="#919191"/><stop offset=".405" stop-color="#9e9e9e"/><stop offset=".415" stop-color="#b7b7b7"/><stop offset=".425" stop-color="#cfcfcf"/><stop offset=".4325" stop-color="#dddddd"/><stop offset=".44" stop-color="#e2e2e2"/><stop offset=".447" stop-color="#dddddd"/><stop offset=".454" stop-color="#d0d0d0"/><stop offset=".4633" stop-color="#b9b9b9"/><stop offset=".4727" stop-color="#a1a1a1"/><stop offset=".4797" stop-color="#959595"/><stop offset=".4867" stop-color="#909090"/><stop offset=".4892" stop-color="#939393"/><stop offset=".4917" stop-color="#9c9c9c"/><stop offset=".495" stop-color="#adadad"/><stop offset=".4983" stop-color="#bdbdbd"/><stop offset=".5008" stop-color="#c6c6c6"/><stop offset=".5033" stop-color="#cacaca"/><stop offset=".5133" stop-color="#c5c5c5"/><stop offset=".5233" stop-color="#bcbcbc"/><stop offset=".5333" stop-color="#b2b2b2"/><stop offset=".5433" stop-color="#aeaeae"/><stop offset=".5567" stop-color="#b2b2b2"/><stop offset=".57" stop-color="#bcbcbc"/><stop offset=".5833" stop-color="#c5c5c5"/><stop offset=".5967" stop-color="#cacaca"/><stop offset=".6027" stop-color="#c7c7c7"/><stop offset=".6087" stop-color="#bfbfbf"/><stop offset=".6167" stop-color="#b0b0b0"/><stop offset=".6247" stop-color="#a1a1a1"/><stop offset=".6307" stop-color="#999999"/><stop offset=".6367" stop-color="#969696"/><stop offset=".6442" stop-color="#919191"/><stop offset=".6517" stop-color="#888888"/><stop offset=".6592" stop-color="#7f7f7f"/><stop offset=".6667" stop-color="#7b7b7b"/><stop offset=".6867" stop-color="#7b7b7b"/><stop offset=".6982" stop-color="#808080"/><stop offset=".7097" stop-color="#8a8a8a"/><stop offset=".725" stop-color="#9e9e9e"/><stop offset=".7403" stop-color="#b1b1b1"/><stop offset=".7518" stop-color="#bcbcbc"/><stop offset=".7633" stop-color="#c0c0c0"/><stop offset=".7703" stop-color="#b7b7b7"/><stop offset=".7773" stop-color="#a2a2a2"/><stop offset=".7867" stop-color="#7b7b7b"/><stop offset=".796" stop-color="#555555"/><stop offset=".803" stop-color="#3f3f3f"/><stop offset=".81" stop-color="#373737"/><stop offset=".814" stop-color="#3f3f3f"/><stop offset=".818" stop-color="#545454"/><stop offset=".8233" stop-color="#797979"/><stop offset=".8287" stop-color="#9f9f9f"/><stop offset=".8327" stop-color="#b4b4b4"/><stop offset=".8367" stop-color="#bcbcbc"/><stop offset=".8392" stop-color="#b8b8b8"/><stop offset=".8417" stop-color="#aeaeae"/><stop offset=".845" stop-color="#9c9c9c"/><stop offset=".8483" stop-color="#898989"/><stop offset=".8508" stop-color="#7f7f7f"/><stop offset=".8533" stop-color="#7b7b7b"/><stop offset=".8633" stop-color="#787878"/><stop offset=".8767" stop-color="#6f6f6f"/><stop offset=".8867" stop-color="#6b6b6b"/><stop offset=".8942" stop-color="#6e6e6e"/><stop offset=".9017" stop-color="#777777"/><stop offset=".9117" stop-color="#858585"/><stop offset=".9217" stop-color="#949494"/><stop offset=".9292" stop-color="#9c9c9c"/><stop offset=".9367" stop-color="#a0a0a0"/><stop offset=".9417" stop-color="#979797"/><stop offset=".9467" stop-color="#808080"/><stop offset=".9533" stop-color="#575757"/><stop offset=".96" stop-color="#2e2e2e"/><stop offset=".965" stop-color="#171717"/><stop offset=".97" stop-color="#0f0f0f"/><stop offset=".9745" stop-color="#141414"/><stop offset=".979" stop-color="#212121"/><stop offset=".985" stop-color="#383838"/><stop offset=".991" stop-color="#4f4f4f"/><stop offset=".9955" stop-color="#5c5c5c"/><stop offset="1" stop-color="#616161"/></linearGradient>
<linearGradient id="c71" x1="0" y1="0" x2="0" y2="1"><stop offset="0" stop-color="#e6e6e6"/><stop offset=".0085" stop-color="#dfdfdf"/><stop offset=".017" stop-color="#cecece"/><stop offset=".0283" stop-color="#afafaf"/><stop offset=".0397" stop-color="#8f8f8f"/><stop offset=".0482" stop-color="#7e7e7e"/><stop offset=".0567" stop-color="#777777"/><stop offset=".0683" stop-color="#7b7b7b"/><stop offset=".08" stop-color="#848484"/><stop offset=".0917" stop-color="#8d8d8d"/><stop offset=".1033" stop-color="#929292"/><stop offset=".1158" stop-color="#8d8d8d"/><stop offset=".1283" stop-color="#848484"/><stop offset=".1408" stop-color="#7b7b7b"/><stop offset=".1533" stop-color="#777777"/><stop offset=".1633" stop-color="#7b7b7b"/><stop offset=".1767" stop-color="#848484"/><stop offset=".1867" stop-color="#878787"/><stop offset=".2267" stop-color="#8b8b8b"/><stop offset=".2567" stop-color="#949494"/><stop offset=".2733" stop-color="#9a9a9a"/><stop offset=".29" stop-color="#a7a7a7"/><stop offset=".3067" stop-color="#b4b4b4"/><stop offset=".3233" stop-color="#bababa"/><stop offset=".34" stop-color="#b5b5b5"/><stop offset=".3567" stop-color="#ababab"/><stop offset=".3733" stop-color="#a0a0a0"/><stop offset=".39" stop-color="#9c9c9c"/><stop offset=".3975" stop-color="#9f9f9f"/><stop offset=".405" stop-color="#a8a8a8"/><stop offset=".415" stop-color="#b9b9b9"/><stop offset=".425" stop-color="#c9c9c9"/><stop offset=".4325" stop-color="#d2d2d2"/><stop offset=".44" stop-color="#d6d6d6"/><stop offset=".4517" stop-color="#d1d1d1"/><stop offset=".4633" stop-color="#c5c5c5"/><stop offset=".475" stop-color="#b9b9b9"/><stop offset=".4867" stop-color="#b4b4b4"/><stop offset=".5033" stop-color="#bababa"/><stop offset=".5153" stop-color="#b6b6b6"/><stop offset=".5313" stop-color="#adadad"/><stop offset=".5433" stop-color="#aaaaaa"/><stop offset=".5967" stop-color="#b0b0b0"/><stop offset=".6067" stop-color="#acacac"/><stop offset=".6167" stop-color="#a3a3a3"/><stop offset=".6267" stop-color="#9a9a9a"/><stop offset=".6367" stop-color="#969696"/><stop offset=".6457" stop-color="#929292"/><stop offset=".6577" stop-color="#8a8a8a"/><stop offset=".6667" stop-color="#878787"/><stop offset=".6727" stop-color="#858585"/><stop offset=".6807" stop-color="#7e7e7e"/><stop offset=".6867" stop-color="#7b7b7b"/><stop offset=".7058" stop-color="#7f7f7f"/><stop offset=".725" stop-color="#878787"/><stop offset=".7442" stop-color="#909090"/><stop offset=".7633" stop-color="#949494"/><stop offset=".7703" stop-color="#909090"/><stop offset=".7773" stop-color="#888888"/><stop offset=".7867" stop-color="#797979"/><stop offset=".796" stop-color="#6b6b6b"/><stop offset=".803" stop-color="#626262"/><stop offset=".81" stop-color="#5f5f5f"/><stop offset=".814" stop-color="#626262"/><stop offset=".818" stop-color="#6b6b6b"/><stop offset=".8233" stop-color="#797979"/><stop offset=".8287" stop-color="#888888"/><stop offset=".8327" stop-color="#909090"/><stop offset=".8367" stop-color="#949494"/><stop offset=".8417" stop-color="#909090"/><stop offset=".8483" stop-color="#878787"/><stop offset=".8533" stop-color="#838383"/><stop offset=".8867" stop-color="#7b7b7b"/><stop offset=".9367" stop-color="#777777"/><stop offset=".9417" stop-color="#737373"/><stop offset=".9467" stop-color="#686868"/><stop offset=".9533" stop-color="#535353"/><stop offset=".96" stop-color="#3f3f3f"/><stop offset=".965" stop-color="#333333"/><stop offset=".97" stop-color="#2f2f2f"/><stop offset=".9745" stop-color="#323232"/><stop offset=".979" stop-color="#3a3a3a"/><stop offset=".985" stop-color="#484848"/><stop offset=".991" stop-color="#565656"/><stop offset=".9955" stop-color="#5e5e5e"/><stop offset="1" stop-color="#616161"/></linearGradient>
<linearGradient id="c72" x1="0" y1="0" x2="0" y2="1"><stop offset="0" stop-color="#e2e2e2"/><stop offset=".0085" stop-color="#dadada"/><stop offset=".017" stop-color="#c6c6c6"/><stop offset=".0283" stop-color="#a1a1a1"/><stop offset=".0397" stop-color="#7b7b7b"/><stop offset=".0482" stop-color="#676767"/><stop offset=".0567" stop-color="#5f5f5f"/><stop offset=".0637" stop-color="#626262"/><stop offset=".0707" stop-color="#6a6a6a"/><stop offset=".08" stop-color="#787878"/><stop offset=".0893" stop-color="#878787"/><stop offset=".0963" stop-color="#8e8e8e"/><stop offset=".1033" stop-color="#929292"/><stop offset=".1158" stop-color="#8c8c8c"/><stop offset=".1283" stop-color="#7e7e7e"/><stop offset=".1408" stop-color="#717171"/><stop offset=".1533" stop-color="#6b6b6b"/><stop offset=".1617" stop-color="#707070"/><stop offset=".17" stop-color="#7b7b7b"/><stop offset=".1783" stop-color="#868686"/><stop offset=".1867" stop-color="#8b8b8b"/><stop offset=".2267" stop-color="#909090"/><stop offset=".2357" stop-color="#929292"/><stop offset=".2477" stop-color="#999999"/><stop offset=".2567" stop-color="#9c9c9c"/><stop offset=".2767" stop-color="#a0a0a0"/><stop offset=".3033" stop-color="#ababab"/><stop offset=".3233" stop-color="#b0b0b0"/><stop offset=".3433" stop-color="#adadad"/><stop offset=".37" stop-color="#a6a6a6"/><stop offset=".39" stop-color="#a4a4a4"/><stop offset=".3975" stop-color="#a7a7a7"/><stop offset=".405" stop-color="#b0b0b0"/><stop offset=".415" stop-color="#c0c0c0"/><stop offset=".425" stop-color="#d0d0d0"/><stop offset=".4325" stop-color="#d9d9d9"/><stop offset=".44" stop-color="#dcdcdc"/><stop offset=".4517" stop-color="#d6d6d6"/><stop offset=".4633" stop-color="#c8c8c8"/><stop offset=".475" stop-color="#bababa"/><stop offset=".4867" stop-color="#b4b4b4"/><stop offset=".5033" stop-color="#b6b6b6"/><stop offset=".5433" stop-color="#b2b2b2"/><stop offset=".5967" stop-color="#b4b4b4"/><stop offset=".6087" stop-color="#afafaf"/><stop offset=".6247" stop-color="#a4a4a4"/><stop offset=".6367" stop-color="#a0a0a0"/><stop offset=".6442" stop-color="#9c9c9c"/><stop offset=".6517" stop-color="#949494"/><stop offset=".6592" stop-color="#8b8b8b"/><stop offset=".6667" stop-color="#878787"/><stop offset=".6717" stop-color="#838383"/><stop offset=".6767" stop-color="#797979"/><stop offset=".6817" stop-color="#707070"/><stop offset=".6867" stop-color="#6b6b6b"/><stop offset=".6982" stop-color="#6f6f6f"/><stop offset=".7097" stop-color="#797979"/><stop offset=".725" stop-color="#8b8b8b"/><stop offset=".7403" stop-color="#9e9e9e"/><stop offset=".7518" stop-color="#a8a8a8"/><stop offset=".7633" stop-color="#acacac"/><stop offset=".7703" stop-color="#a7a7a7"/><stop offset=".7773" stop-color="#9a9a9a"/><stop offset=".7867" stop-color="#838383"/><stop offset=".796" stop-color="#6d6d6d"/><stop offset=".803" stop-color="#606060"/><stop offset=".81" stop-color="#5b5b5b"/><stop offset=".814" stop-color="#5f5f5f"/><stop offset=".818" stop-color="#676767"/><stop offset=".8233" stop-color="#777777"/><stop offset=".8287" stop-color="#878787"/><stop offset=".8327" stop-color="#909090"/><stop offset=".8367" stop-color="#949494"/><stop offset=".8417" stop-color="#909090"/><stop offset=".8483" stop-color="#878787"/><stop offset=".8533" stop-color="#838383"/><stop offset=".8867" stop-color="#7b7b7b"/><stop offset=".9017" stop-color="#797979"/><stop offset=".9217" stop-color="#727272"/><stop offset=".9367" stop-color="#6f6f6f"/><stop offset=".9417" stop-color="#6b6b6b"/><stop offset=".9467" stop-color="#606060"/><stop offset=".9533" stop-color="#4b4b4b"/><stop offset=".96" stop-color="#363636"/><stop offset=".965" stop-color="#2b2b2b"/><stop offset=".97" stop-color="#272727"/><stop offset=".9745" stop-color="#2a2a2a"/><stop offset=".979" stop-color="#333333"/><stop offset=".985" stop-color="#444444"/><stop offset=".991" stop-color="#555555"/><stop offset=".9955" stop-color="#5e5e5e"/><stop offset="1" stop-color="#616161"/></linearGradient>
<linearGradient id="c73" x1="0" y1="0" x2="0" y2="1"><stop offset="0" stop-color="#e2e2e2"/><stop offset=".0085" stop-color="#dcdcdc"/><stop offset=".017" stop-color="#cbcbcb"/><stop offset=".0283" stop-color="#adadad"/><stop offset=".0397" stop-color="#8e8e8e"/><stop offset=".0482" stop-color="#7e7e7e"/><stop offset=".0567" stop-color="#777777"/><stop offset=".0683" stop-color="#7b7b7b"/><stop offset=".08" stop-color="#848484"/><stop offset=".0917" stop-color="#8d8d8d"/><stop offset=".1033" stop-color="#929292"/><stop offset=".1183" stop-color="#8e8e8e"/><stop offset=".1383" stop-color="#838383"/><stop offset=".1533" stop-color="#7f7f7f"/><stop offset=".1617" stop-color="#838383"/><stop offset=".17" stop-color="#8c8c8c"/><stop offset=".1783" stop-color="#959595"/><stop offset=".1867" stop-color="#9a9a9a"/><stop offset=".1967" stop-color="#949494"/><stop offset=".2067" stop-color="#888888"/><stop offset=".2167" stop-color="#7d7d7d"/><stop offset=".2267" stop-color="#777777"/><stop offset=".2342" stop-color="#7e7e7e"/><stop offset=".2417" stop-color="#8b8b8b"/><stop offset=".2492" stop-color="#999999"/><stop offset=".2567" stop-color="#a0a0a0"/><stop offset=".2767" stop-color="#a3a3a3"/><stop offset=".3033" stop-color="#acacac"/><stop offset=".3233" stop-color="#b0b0b0"/><stop offset=".39" stop-color="#a8a8a8"/><stop offset=".3975" stop-color="#ababab"/><stop offset=".405" stop-color="#b3b3b3"/><stop offset=".415" stop-color="#c2c2c2"/><stop offset=".425" stop-color="#d1d1d1"/><stop offset=".4325" stop-color="#d9d9d9"/><stop offset=".44" stop-color="#dcdcdc"/><stop offset=".447" stop-color="#d8d8d8"/><stop offset=".454" stop-color="#cecece"/><stop offset=".4633" stop-color="#bbbbbb"/><stop offset=".4727" stop-color="#a8a8a8"/><stop offset=".4797" stop-color="#9e9e9e"/><stop offset=".4867" stop-color="#9a9a9a"/><stop offset=".4908" stop-color="#9e9e9e"/><stop offset=".495" stop-color="#a8a8a8"/><stop offset=".4992" stop-color="#b1b1b1"/><stop offset=".5033" stop-color="#b6b6b6"/><stop offset=".5433" stop-color="#bababa"/><stop offset=".5967" stop-color="#bababa"/><stop offset=".6067" stop-color="#b6b6b6"/><stop offset=".6167" stop-color="#adadad"/><stop offset=".6267" stop-color="#a4a4a4"/><stop offset=".6367" stop-color="#a0a0a0"/><stop offset=".6442" stop-color="#9c9c9c"/><stop offset=".6517" stop-color="#949494"/><stop offset=".6592" stop-color="#8b8b8b"/><stop offset=".6667" stop-color="#878787"/><stop offset=".6727" stop-color="#858585"/><stop offset=".6807" stop-color="#7e7e7e"/><stop offset=".6867" stop-color="#7b7b7b"/><stop offset=".7058" stop-color="#7f7f7f"/><stop offset=".725" stop-color="#878787"/><stop offset=".7442" stop-color="#909090"/><stop offset=".7633" stop-color="#949494"/><stop offset=".7703" stop-color="#909090"/><stop offset=".7773" stop-color="#878787"/><stop offset=".7867" stop-color="#777777"/><stop offset=".796" stop-color="#676767"/><stop offset=".803" stop-color="#5f5f5f"/><stop offset=".81" stop-color="#5b5b5b"/><stop offset=".814" stop-color="#5f5f5f"/><stop offset=".818" stop-color="#676767"/><stop offset=".8233" stop-color="#777777"/><stop offset=".8287" stop-color="#878787"/><stop offset=".8327" stop-color="#909090"/><stop offset=".8367" stop-color="#949494"/><stop offset=".8417" stop-color="#909090"/><stop offset=".8483" stop-color="#878787"/><stop offset=".8533" stop-color="#838383"/><stop offset=".8867" stop-color="#838383"/><stop offset=".9017" stop-color="#7f7f7f"/><stop offset=".9217" stop-color="#747474"/><stop offset=".9367" stop-color="#6f6f6f"/><stop offset=".9417" stop-color="#6b6b6b"/><stop offset=".9467" stop-color="#606060"/><stop offset=".9533" stop-color="#4b4b4b"/><stop offset=".96" stop-color="#363636"/><stop offset=".965" stop-color="#2b2b2b"/><stop offset=".97" stop-color="#272727"/><stop offset=".9745" stop-color="#2a2a2a"/><stop offset=".979" stop-color="#333333"/><stop offset=".985" stop-color="#444444"/><stop offset=".991" stop-color="#555555"/><stop offset=".9955" stop-color="#5e5e5e"/><stop offset="1" stop-color="#616161"/></linearGradient>
<linearGradient id="c74" x1="0" y1="0" x2="0" y2="1"><stop offset="0" stop-color="#f6f6f6"/><stop offset=".0085" stop-color="#efefef"/><stop offset=".017" stop-color="#dddddd"/><stop offset=".0283" stop-color="#bdbdbd"/><stop offset=".0397" stop-color="#9c9c9c"/><stop offset=".0482" stop-color="#8a8a8a"/><stop offset=".0567" stop-color="#838383"/><stop offset=".1033" stop-color="#878787"/><stop offset=".1533" stop-color="#7f7f7f"/><stop offset=".1633" stop-color="#828282"/><stop offset=".1767" stop-color="#898989"/><stop offset=".1867" stop-color="#8b8b8b"/><stop offset=".2267" stop-color="#8b8b8b"/><stop offset=".2357" stop-color="#909090"/><stop offset=".2477" stop-color="#9b9b9b"/><stop offset=".2567" stop-color="#a0a0a0"/><stop offset=".2767" stop-color="#a3a3a3"/><stop offset=".3033" stop-color="#ababab"/><stop offset=".3233" stop-color="#aeaeae"/><stop offset=".39" stop-color="#b0b0b0"/><stop offset=".4025" stop-color="#b6b6b6"/><stop offset=".415" stop-color="#c3c3c3"/><stop offset=".4275" stop-color="#d0d0d0"/><stop offset=".44" stop-color="#d6d6d6"/><stop offset=".4517" stop-color="#d1d1d1"/><stop offset=".4633" stop-color="#c5c5c5"/><stop offset=".475" stop-color="#b9b9b9"/><stop offset=".4867" stop-color="#b4b4b4"/><stop offset=".5033" stop-color="#bababa"/><stop offset=".5433" stop-color="#bababa"/><stop offset=".5967" stop-color="#bababa"/><stop offset=".6067" stop-color="#b6b6b6"/><stop offset=".6167" stop-color="#adadad"/><stop offset=".6267" stop-color="#a4a4a4"/><stop offset=".6367" stop-color="#a0a0a0"/><stop offset=".6442" stop-color="#9c9c9c"/><stop offset=".6517" stop-color="#949494"/><stop offset=".6592" stop-color="#8b8b8b"/><stop offset=".6667" stop-color="#878787"/><stop offset=".6727" stop-color="#858585"/><stop offset=".6807" stop-color="#7e7e7e"/><stop offset=".6867" stop-color="#7b7b7b"/><stop offset=".7058" stop-color="#808080"/><stop offset=".725" stop-color="#898989"/><stop offset=".7442" stop-color="#939393"/><stop offset=".7633" stop-color="#989898"/><stop offset=".775" stop-color="#909090"/><stop offset=".7867" stop-color="#7f7f7f"/><stop offset=".7983" stop-color="#6f6f6f"/><stop offset=".81" stop-color="#676767"/><stop offset=".8167" stop-color="#6e6e6e"/><stop offset=".8233" stop-color="#7b7b7b"/><stop offset=".83" stop-color="#898989"/><stop offset=".8367" stop-color="#909090"/><stop offset=".8417" stop-color="#8d8d8d"/><stop offset=".8483" stop-color="#868686"/><stop offset=".8533" stop-color="#838383"/><stop offset=".8867" stop-color="#838383"/><stop offset=".9017" stop-color="#7f7f7f"/><stop offset=".9217" stop-color="#747474"/><stop offset=".9367" stop-color="#6f6f6f"/><stop offset=".9417" stop-color="#6c6c6c"/><stop offset=".9467" stop-color="#646464"/><stop offset=".9533" stop-color="#555555"/><stop offset=".96" stop-color="#464646"/><stop offset=".965" stop-color="#3e3e3e"/><stop offset=".97" stop-color="#3b3b3b"/><stop offset=".9775" stop-color="#414141"/><stop offset=".985" stop-color="#4e4e4e"/><stop offset=".9925" stop-color="#5b5b5b"/><stop offset="1" stop-color="#616161"/></linearGradient>
<linearGradient id="c75" x1="0" y1="0" x2="0" y2="1"><stop offset="0" stop-color="#ececec"/><stop offset=".0085" stop-color="#e6e6e6"/><stop offset=".017" stop-color="#d5d5d5"/><stop offset=".0283" stop-color="#b8b8b8"/><stop offset=".0397" stop-color="#9a9a9a"/><stop offset=".0482" stop-color="#8a8a8a"/><stop offset=".0567" stop-color="#838383"/><stop offset=".1033" stop-color="#838383"/><stop offset=".1533" stop-color="#7f7f7f"/><stop offset=".1867" stop-color="#878787"/><stop offset=".2267" stop-color="#909090"/><stop offset=".2357" stop-color="#939393"/><stop offset=".2477" stop-color="#9c9c9c"/><stop offset=".2567" stop-color="#a0a0a0"/><stop offset=".2767" stop-color="#a3a3a3"/><stop offset=".3033" stop-color="#ababab"/><stop offset=".3233" stop-color="#aeaeae"/><stop offset=".39" stop-color="#b4b4b4"/><stop offset=".405" stop-color="#b9b9b9"/><stop offset=".425" stop-color="#c5c5c5"/><stop offset=".44" stop-color="#cacaca"/><stop offset=".4517" stop-color="#c6c6c6"/><stop offset=".4633" stop-color="#bdbdbd"/><stop offset=".475" stop-color="#b4b4b4"/><stop offset=".4867" stop-color="#b0b0b0"/><stop offset=".5033" stop-color="#bababa"/><stop offset=".5433" stop-color="#bababa"/><stop offset=".5967" stop-color="#bababa"/><stop offset=".6067" stop-color="#b6b6b6"/><stop offset=".6167" stop-color="#adadad"/><stop offset=".6267" stop-color="#a4a4a4"/><stop offset=".6367" stop-color="#a0a0a0"/><stop offset=".6442" stop-color="#9b9b9b"/><stop offset=".6517" stop-color="#909090"/><stop offset=".6592" stop-color="#848484"/><stop offset=".6667" stop-color="#7f7f7f"/><stop offset=".6867" stop-color="#7b7b7b"/><stop offset=".7058" stop-color="#808080"/><stop offset=".725" stop-color="#898989"/><stop offset=".7442" stop-color="#939393"/><stop offset=".7633" stop-color="#989898"/><stop offset=".7703" stop-color="#949494"/><stop offset=".7773" stop-color="#8b8b8b"/><stop offset=".7867" stop-color="#7b7b7b"/><stop offset=".796" stop-color="#6b6b6b"/><stop offset=".803" stop-color="#636363"/><stop offset=".81" stop-color="#5f5f5f"/><stop offset=".8167" stop-color="#676767"/><stop offset=".8233" stop-color="#777777"/><stop offset=".83" stop-color="#888888"/><stop offset=".8367" stop-color="#909090"/><stop offset=".8417" stop-color="#8d8d8d"/><stop offset=".8483" stop-color="#868686"/><stop offset=".8533" stop-color="#838383"/><stop offset=".8867" stop-color="#838383"/><stop offset=".9017" stop-color="#7f7f7f"/><stop offset=".9217" stop-color="#747474"/><stop offset=".9367" stop-color="#6f6f6f"/><stop offset=".945" stop-color="#686868"/><stop offset=".9533" stop-color="#595959"/><stop offset=".9617" stop-color="#4a4a4a"/><stop offset=".97" stop-color="#434343"/><stop offset=".9775" stop-color="#484848"/><stop offset=".985" stop-color="#525252"/><stop offset=".9925" stop-color="#5c5c5c"/><stop offset="1" stop-color="#616161"/></linearGradient>
<linearGradient id="c76" x1="0" y1="0" x2="0" y2="1"><stop offset="0" stop-color="#ffffff"/><stop offset=".0085" stop-color="#f9f9f9"/><stop offset=".017" stop-color="#e2e2e2"/><stop offset=".0283" stop-color="#b7b7b7"/><stop offset=".0397" stop-color="#8c8c8c"/><stop offset=".0482" stop-color="#747474"/><stop offset=".0567" stop-color="#6b6b6b"/><stop offset=".0683" stop-color="#727272"/><stop offset=".08" stop-color="#818181"/><stop offset=".0917" stop-color="#919191"/><stop offset=".1033" stop-color="#989898"/><stop offset=".1183" stop-color="#939393"/><stop offset=".1383" stop-color="#888888"/><stop offset=".1533" stop-color="#838383"/><stop offset=".1867" stop-color="#878787"/><stop offset=".2267" stop-color="#909090"/><stop offset=".2357" stop-color="#949494"/><stop offset=".2477" stop-color="#9f9f9f"/><stop offset=".2567" stop-color="#a4a4a4"/><stop offset=".2767" stop-color="#a7a7a7"/><stop offset=".3033" stop-color="#b0b0b0"/><stop offset=".3233" stop-color="#b4b4b4"/><stop offset=".39" stop-color="#acacac"/><stop offset=".4025" stop-color="#b3b3b3"/><stop offset=".415" stop-color="#c4c4c4"/><stop offset=".4275" stop-color="#d4d4d4"/><stop offset=".44" stop-color="#dcdcdc"/><stop offset=".447" stop-color="#d8d8d8"/><stop offset=".454" stop-color="#cecece"/><stop offset=".4633" stop-color="#bcbcbc"/><stop offset=".4727" stop-color="#a9a9a9"/><stop offset=".4797" stop-color="#9f9f9f"/><stop offset=".4867" stop-color="#9c9c9c"/><stop offset=".4908" stop-color="#a2a2a2"/><stop offset=".495" stop-color="#b1b1b1"/><stop offset=".4992" stop-color="#bfbfbf"/><stop offset=".5033" stop-color="#c6c6c6"/><stop offset=".5433" stop-color="#c0c0c0"/><stop offset=".5967" stop-color="#c2c2c2"/><stop offset=".6067" stop-color="#bcbcbc"/><stop offset=".6167" stop-color="#b1b1b1"/><stop offset=".6267" stop-color="#a5a5a5"/><stop offset=".6367" stop-color="#a0a0a0"/><stop offset=".6442" stop-color="#9b9b9b"/><stop offset=".6517" stop-color="#909090"/><stop offset=".6592" stop-color="#848484"/><stop offset=".6667" stop-color="#7f7f7f"/><stop offset=".6727" stop-color="#7c7c7c"/><stop offset=".6807" stop-color="#737373"/><stop offset=".6867" stop-color="#6f6f6f"/><stop offset=".6982" stop-color="#737373"/><stop offset=".7097" stop-color="#7e7e7e"/><stop offset=".725" stop-color="#929292"/><stop offset=".7403" stop-color="#a5a5a5"/><stop offset=".7518" stop-color="#b0b0b0"/><stop offset=".7633" stop-color="#b4b4b4"/><stop offset=".7703" stop-color="#acacac"/><stop offset=".7773" stop-color="#9a9a9a"/><stop offset=".7867" stop-color="#777777"/><stop offset=".796" stop-color="#555555"/><stop offset=".803" stop-color="#424242"/><stop offset=".81" stop-color="#3b3b3b"/><stop offset=".814" stop-color="#414141"/><stop offset=".818" stop-color="#525252"/><stop offset=".8233" stop-color="#6f6f6f"/><stop offset=".8287" stop-color="#8d8d8d"/><stop offset=".8327" stop-color="#9d9d9d"/><stop offset=".8367" stop-color="#a4a4a4"/><stop offset=".8408" stop-color="#a0a0a0"/><stop offset=".845" stop-color="#989898"/><stop offset=".8492" stop-color="#8f8f8f"/><stop offset=".8533" stop-color="#8b8b8b"/><stop offset=".8867" stop-color="#949494"/><stop offset=".9367" stop-color="#949494"/><stop offset=".9417" stop-color="#8d8d8d"/><stop offset=".9467" stop-color="#7b7b7b"/><stop offset=".9533" stop-color="#5b5b5b"/><stop offset=".96" stop-color="#3b3b3b"/><stop offset=".965" stop-color="#2a2a2a"/><stop offset=".97" stop-color="#232323"/><stop offset=".9745" stop-color="#272727"/><stop offset=".979" stop-color="#303030"/><stop offset=".985" stop-color="#424242"/><stop offset=".991" stop-color="#545454"/><stop offset=".9955" stop-color="#5d5d5d"/><stop offset="1" stop-color="#616161"/></linearGradient>
<linearGradient id="c77" x1="0" y1="0" x2="0" y2="1"><stop offset="0" stop-color="#ffffff"/><stop offset=".0085" stop-color="#fafafa"/><stop offset=".017" stop-color="#e5e5e5"/><stop offset=".0283" stop-color="#bfbfbf"/><stop offset=".0397" stop-color="#999999"/><stop offset=".0482" stop-color="#848484"/><stop offset=".0567" stop-color="#7b7b7b"/><stop offset=".0707" stop-color="#7f7f7f"/><stop offset=".0893" stop-color="#888888"/><stop offset=".1033" stop-color="#8b8b8b"/><stop offset=".1533" stop-color="#838383"/><stop offset=".1867" stop-color="#878787"/><stop offset=".1987" stop-color="#8b8b8b"/><stop offset=".2147" stop-color="#949494"/><stop offset=".2267" stop-color="#989898"/><stop offset=".2342" stop-color="#9c9c9c"/><stop offset=".2417" stop-color="#a6a6a6"/><stop offset=".2492" stop-color="#afafaf"/><stop offset=".2567" stop-color="#b4b4b4"/><stop offset=".2767" stop-color="#b6b6b6"/><stop offset=".3033" stop-color="#bdbdbd"/><stop offset=".3233" stop-color="#c0c0c0"/><stop offset=".34" stop-color="#bcbcbc"/><stop offset=".3567" stop-color="#b4b4b4"/><stop offset=".3733" stop-color="#ababab"/><stop offset=".39" stop-color="#a8a8a8"/><stop offset=".3975" stop-color="#ababab"/><stop offset=".405" stop-color="#b3b3b3"/><stop offset=".415" stop-color="#c3c3c3"/><stop offset=".425" stop-color="#d2d2d2"/><stop offset=".4325" stop-color="#dbdbdb"/><stop offset=".44" stop-color="#dedede"/><stop offset=".447" stop-color="#dbdbdb"/><stop offset=".454" stop-color="#d3d3d3"/><stop offset=".4633" stop-color="#c5c5c5"/><stop offset=".4727" stop-color="#b7b7b7"/><stop offset=".4797" stop-color="#afafaf"/><stop offset=".4867" stop-color="#acacac"/><stop offset=".4908" stop-color="#b1b1b1"/><stop offset=".495" stop-color="#bdbdbd"/><stop offset=".4992" stop-color="#c9c9c9"/><stop offset=".5033" stop-color="#cecece"/><stop offset=".5433" stop-color="#c8c8c8"/><stop offset=".5593" stop-color="#c5c5c5"/><stop offset=".5807" stop-color="#bdbdbd"/><stop offset=".5967" stop-color="#bababa"/><stop offset=".6067" stop-color="#b6b6b6"/><stop offset=".6167" stop-color="#adadad"/><stop offset=".6267" stop-color="#a4a4a4"/><stop offset=".6367" stop-color="#a0a0a0"/><stop offset=".6442" stop-color="#9b9b9b"/><stop offset=".6517" stop-color="#909090"/><stop offset=".6592" stop-color="#848484"/><stop offset=".6667" stop-color="#7f7f7f"/><stop offset=".6727" stop-color="#7c7c7c"/><stop offset=".6807" stop-color="#737373"/><stop offset=".6867" stop-color="#6f6f6f"/><stop offset=".6982" stop-color="#747474"/><stop offset=".7097" stop-color="#7f7f7f"/><stop offset=".725" stop-color="#949494"/><stop offset=".7403" stop-color="#a8a8a8"/><stop offset=".7518" stop-color="#b3b3b3"/><stop offset=".7633" stop-color="#b8b8b8"/><stop offset=".7703" stop-color="#b1b1b1"/><stop offset=".7773" stop-color="#9f9f9f"/><stop offset=".7867" stop-color="#7d7d7d"/><stop offset=".796" stop-color="#5c5c5c"/><stop offset=".803" stop-color="#4a4a4a"/><stop offset=".81" stop-color="#434343"/><stop offset=".814" stop-color="#494949"/><stop offset=".818" stop-color="#585858"/><stop offset=".8233" stop-color="#737373"/><stop offset=".8287" stop-color="#8f8f8f"/><stop offset=".8327" stop-color="#9e9e9e"/><stop offset=".8367" stop-color="#a4a4a4"/><stop offset=".8408" stop-color="#a0a0a0"/><stop offset=".845" stop-color="#989898"/><stop offset=".8492" stop-color="#8f8f8f"/><stop offset=".8533" stop-color="#8b8b8b"/><stop offset=".8867" stop-color="#949494"/><stop offset=".9367" stop-color="#949494"/><stop offset=".9417" stop-color="#8d8d8d"/><stop offset=".9467" stop-color="#7d7d7d"/><stop offset=".9533" stop-color="#5f5f5f"/><stop offset=".96" stop-color="#414141"/><stop offset=".965" stop-color="#313131"/><stop offset=".97" stop-color="#2b2b2b"/><stop offset=".9745" stop-color="#2e2e2e"/><stop offset=".979" stop-color="#373737"/><stop offset=".985" stop-color="#464646"/><stop offset=".991" stop-color="#555555"/><stop offset=".9955" stop-color="#5e5e5e"/><stop offset="1" stop-color="#616161"/></linearGradient>
<linearGradient id="c78" x1="0" y1="0" x2="0" y2="1"><stop offset="0" stop-color="#f6f6f6"/><stop offset=".0085" stop-color="#ededed"/><stop offset=".017" stop-color="#d7d7d7"/><stop offset=".0283" stop-color="#afafaf"/><stop offset=".0397" stop-color="#868686"/><stop offset=".0482" stop-color="#707070"/><stop offset=".0567" stop-color="#676767"/><stop offset=".0683" stop-color="#6e6e6e"/><stop offset=".08" stop-color="#7e7e7e"/><stop offset=".0917" stop-color="#8e8e8e"/><stop offset=".1033" stop-color="#969696"/><stop offset=".1183" stop-color="#929292"/><stop offset=".1383" stop-color="#878787"/><stop offset=".1533" stop-color="#838383"/><stop offset=".1867" stop-color="#8b8b8b"/><stop offset=".1967" stop-color="#909090"/><stop offset=".2067" stop-color="#9a9a9a"/><stop offset=".2167" stop-color="#a3a3a3"/><stop offset=".2267" stop-color="#a8a8a8"/><stop offset=".2342" stop-color="#acacac"/><stop offset=".2417" stop-color="#b6b6b6"/><stop offset=".2492" stop-color="#bfbfbf"/><stop offset=".2567" stop-color="#c4c4c4"/><stop offset=".3233" stop-color="#c8c8c8"/><stop offset=".34" stop-color="#c3c3c3"/><stop offset=".3567" stop-color="#b8b8b8"/><stop offset=".3733" stop-color="#adadad"/><stop offset=".39" stop-color="#a8a8a8"/><stop offset=".3975" stop-color="#ababab"/><stop offset=".405" stop-color="#b3b3b3"/><stop offset=".415" stop-color="#c1c1c1"/><stop offset=".425" stop-color="#cfcfcf"/><stop offset=".4325" stop-color="#d7d7d7"/><stop offset=".44" stop-color="#dadada"/><stop offset=".447" stop-color="#d6d6d6"/><stop offset=".454" stop-color="#cdcdcd"/><stop offset=".4633" stop-color="#bdbdbd"/><stop offset=".4727" stop-color="#acacac"/><stop offset=".4797" stop-color="#a3a3a3"/><stop offset=".4867" stop-color="#a0a0a0"/><stop offset=".4908" stop-color="#a7a7a7"/><stop offset=".495" stop-color="#b9b9b9"/><stop offset=".4992" stop-color="#cacaca"/><stop offset=".5033" stop-color="#d2d2d2"/><stop offset=".5433" stop-color="#c8c8c8"/><stop offset=".5593" stop-color="#c5c5c5"/><stop offset=".5807" stop-color="#bdbdbd"/><stop offset=".5967" stop-color="#bababa"/><stop offset=".6067" stop-color="#b5b5b5"/><stop offset=".6167" stop-color="#ababab"/><stop offset=".6267" stop-color="#a0a0a0"/><stop offset=".6367" stop-color="#9c9c9c"/><stop offset=".6457" stop-color="#989898"/><stop offset=".6577" stop-color="#8f8f8f"/><stop offset=".6667" stop-color="#8b8b8b"/><stop offset=".6727" stop-color="#888888"/><stop offset=".6807" stop-color="#7f7f7f"/><stop offset=".6867" stop-color="#7b7b7b"/><stop offset=".6982" stop-color="#7f7f7f"/><stop offset=".7097" stop-color="#878787"/><stop offset=".725" stop-color="#969696"/><stop offset=".7403" stop-color="#a4a4a4"/><stop offset=".7518" stop-color="#adadad"/><stop offset=".7633" stop-color="#b0b0b0"/><stop offset=".7703" stop-color="#ababab"/><stop offset=".7773" stop-color="#9d9d9d"/><stop offset=".7867" stop-color="#858585"/><stop offset=".796" stop-color="#6d6d6d"/><stop offset=".803" stop-color="#606060"/><stop offset=".81" stop-color="#5b5b5b"/><stop offset=".814" stop-color="#606060"/><stop offset=".818" stop-color="#6b6b6b"/><stop offset=".8233" stop-color="#7f7f7f"/><stop offset=".8287" stop-color="#949494"/><stop offset=".8327" stop-color="#9f9f9f"/><stop offset=".8367" stop-color="#a4a4a4"/><stop offset=".8408" stop-color="#a0a0a0"/><stop offset=".845" stop-color="#989898"/><stop offset=".8492" stop-color="#8f8f8f"/><stop offset=".8533" stop-color="#8b8b8b"/><stop offset=".8867" stop-color="#909090"/><stop offset=".8992" stop-color="#8a8a8a"/><stop offset=".9117" stop-color="#7f7f7f"/><stop offset=".9242" stop-color="#747474"/><stop offset=".9367" stop-color="#6f6f6f"/><stop offset=".9417" stop-color="#6b6b6b"/><stop offset=".9467" stop-color="#606060"/><stop offset=".9533" stop-color="#4b4b4b"/><stop offset=".96" stop-color="#363636"/><stop offset=".965" stop-color="#2b2b2b"/><stop offset=".97" stop-color="#272727"/><stop offset=".9745" stop-color="#2a2a2a"/><stop offset=".979" stop-color="#333333"/><stop offset=".985" stop-color="#444444"/><stop offset=".991" stop-color="#555555"/><stop offset=".9955" stop-color="#5e5e5e"/><stop offset="1" stop-color="#616161"/></linearGradient>
<linearGradient id="c79" x1="0" y1="0" x2="0" y2="1"><stop offset="0" stop-color="#e6e6e6"/><stop offset=".0085" stop-color="#dedede"/><stop offset=".017" stop-color="#cbcbcb"/><stop offset=".0283" stop-color="#a7a7a7"/><stop offset=".0397" stop-color="#838383"/><stop offset=".0482" stop-color="#6f6f6f"/><stop offset=".0567" stop-color="#676767"/><stop offset=".0637" stop-color="#6c6c6c"/><stop offset=".0707" stop-color="#797979"/><stop offset=".08" stop-color="#909090"/><stop offset=".0893" stop-color="#a6a6a6"/><stop offset=".0963" stop-color="#b3b3b3"/><stop offset=".1033" stop-color="#b8b8b8"/><stop offset=".1158" stop-color="#b1b1b1"/><stop offset=".1283" stop-color="#a2a2a2"/><stop offset=".1408" stop-color="#929292"/><stop offset=".1533" stop-color="#8b8b8b"/><stop offset=".1867" stop-color="#8b8b8b"/><stop offset=".1987" stop-color="#8f8f8f"/><stop offset=".2147" stop-color="#989898"/><stop offset=".2267" stop-color="#9c9c9c"/><stop offset=".2342" stop-color="#a0a0a0"/><stop offset=".2417" stop-color="#ababab"/><stop offset=".2492" stop-color="#b5b5b5"/><stop offset=".2567" stop-color="#bababa"/><stop offset=".3233" stop-color="#c4c4c4"/><stop offset=".34" stop-color="#bfbfbf"/><stop offset=".3567" stop-color="#b4b4b4"/><stop offset=".3733" stop-color="#a9a9a9"/><stop offset=".39" stop-color="#a4a4a4"/><stop offset=".3975" stop-color="#a7a7a7"/><stop offset=".405" stop-color="#b1b1b1"/><stop offset=".415" stop-color="#c2c2c2"/><stop offset=".425" stop-color="#d3d3d3"/><stop offset=".4325" stop-color="#dcdcdc"/><stop offset=".44" stop-color="#e0e0e0"/><stop offset=".447" stop-color="#dcdcdc"/><stop offset=".454" stop-color="#d2d2d2"/><stop offset=".4633" stop-color="#c0c0c0"/><stop offset=".4727" stop-color="#aeaeae"/><stop offset=".4797" stop-color="#a4a4a4"/><stop offset=".4867" stop-color="#a0a0a0"/><stop offset=".4892" stop-color="#a3a3a3"/><stop offset=".4917" stop-color="#adadad"/><stop offset=".495" stop-color="#bfbfbf"/><stop offset=".4983" stop-color="#d1d1d1"/><stop offset=".5008" stop-color="#dadada"/><stop offset=".5033" stop-color="#dedede"/><stop offset=".5153" stop-color="#dbdbdb"/><stop offset=".5313" stop-color="#d5d5d5"/><stop offset=".5433" stop-color="#d2d2d2"/><stop offset=".5593" stop-color="#cecece"/><stop offset=".5807" stop-color="#c4c4c4"/><stop offset=".5967" stop-color="#c0c0c0"/><stop offset=".6067" stop-color="#bababa"/><stop offset=".6167" stop-color="#aeaeae"/><stop offset=".6267" stop-color="#a1a1a1"/><stop offset=".6367" stop-color="#9c9c9c"/><stop offset=".6457" stop-color="#979797"/><stop offset=".6577" stop-color="#8c8c8c"/><stop offset=".6667" stop-color="#878787"/><stop offset=".6727" stop-color="#848484"/><stop offset=".6807" stop-color="#7b7b7b"/><stop offset=".6867" stop-color="#777777"/><stop offset=".7058" stop-color="#7e7e7e"/><stop offset=".725" stop-color="#8b8b8b"/><stop offset=".7442" stop-color="#999999"/><stop offset=".7633" stop-color="#a0a0a0"/><stop offset=".7703" stop-color="#9c9c9c"/><stop offset=".7773" stop-color="#929292"/><stop offset=".7867" stop-color="#7f7f7f"/><stop offset=".796" stop-color="#6d6d6d"/><stop offset=".803" stop-color="#636363"/><stop offset=".81" stop-color="#5f5f5f"/><stop offset=".814" stop-color="#636363"/><stop offset=".818" stop-color="#6e6e6e"/><stop offset=".8233" stop-color="#818181"/><stop offset=".8287" stop-color="#959595"/><stop offset=".8327" stop-color="#9f9f9f"/><stop offset=".8367" stop-color="#a4a4a4"/><stop offset=".8408" stop-color="#a0a0a0"/><stop offset=".845" stop-color="#989898"/><stop offset=".8492" stop-color="#8f8f8f"/><stop offset=".8533" stop-color="#8b8b8b"/><stop offset=".8867" stop-color="#949494"/><stop offset=".9367" stop-color="#8b8b8b"/><stop offset=".9417" stop-color="#848484"/><stop offset=".9467" stop-color="#727272"/><stop offset=".9533" stop-color="#515151"/><stop offset=".96" stop-color="#303030"/><stop offset=".965" stop-color="#1e1e1e"/><stop offset=".97" stop-color="#171717"/><stop offset=".9745" stop-color="#1b1b1b"/><stop offset=".979" stop-color="#272727"/><stop offset=".985" stop-color="#3c3c3c"/><stop offset=".991" stop-color="#515151"/><stop offset=".9955" stop-color="#5d5d5d"/><stop offset="1" stop-color="#616161"/></linearGradient>
<linearGradient id="c80" x1="0" y1="0" x2="0" y2="1"><stop offset="0" stop-color="#e2e2e2"/><stop offset=".0085" stop-color="#dcdcdc"/><stop offset=".017" stop-color="#cbcbcb"/><stop offset=".0283" stop-color="#adadad"/><stop offset=".0397" stop-color="#8e8e8e"/><stop offset=".0482" stop-color="#7e7e7e"/><stop offset=".0567" stop-color="#777777"/><stop offset=".0683" stop-color="#7c7c7c"/><stop offset=".08" stop-color="#858585"/><stop offset=".0917" stop-color="#8f8f8f"/><stop offset=".1033" stop-color="#949494"/><stop offset=".1158" stop-color="#909090"/><stop offset=".1283" stop-color="#878787"/><stop offset=".1408" stop-color="#7f7f7f"/><stop offset=".1533" stop-color="#7b7b7b"/><stop offset=".1867" stop-color="#838383"/><stop offset=".1987" stop-color="#878787"/><stop offset=".2147" stop-color="#909090"/><stop offset=".2267" stop-color="#949494"/><stop offset=".2342" stop-color="#999999"/><stop offset=".2417" stop-color="#a4a4a4"/><stop offset=".2492" stop-color="#afafaf"/><stop offset=".2567" stop-color="#b4b4b4"/><stop offset=".2767" stop-color="#b7b7b7"/><stop offset=".3033" stop-color="#c0c0c0"/><stop offset=".3233" stop-color="#c4c4c4"/><stop offset=".34" stop-color="#bfbfbf"/><stop offset=".3567" stop-color="#b4b4b4"/><stop offset=".3733" stop-color="#a9a9a9"/><stop offset=".39" stop-color="#a4a4a4"/><stop offset=".3975" stop-color="#a7a7a7"/><stop offset=".405" stop-color="#b1b1b1"/><stop offset=".415" stop-color="#c2c2c2"/><stop offset=".425" stop-color="#d3d3d3"/><stop offset=".4325" stop-color="#dcdcdc"/><stop offset=".44" stop-color="#e0e0e0"/><stop offset=".447" stop-color="#dcdcdc"/><stop offset=".454" stop-color="#d2d2d2"/><stop offset=".4633" stop-color="#c0c0c0"/><stop offset=".4727" stop-color="#aeaeae"/><stop offset=".4797" stop-color="#a4a4a4"/><stop offset=".4867" stop-color="#a0a0a0"/><stop offset=".4908" stop-color="#a7a7a7"/><stop offset=".495" stop-color="#b9b9b9"/><stop offset=".4992" stop-color="#cacaca"/><stop offset=".5033" stop-color="#d2d2d2"/><stop offset=".5133" stop-color="#cecece"/><stop offset=".5233" stop-color="#c6c6c6"/><stop offset=".5333" stop-color="#bebebe"/><stop offset=".5433" stop-color="#bababa"/><stop offset=".5593" stop-color="#bebebe"/><stop offset=".5807" stop-color="#cacaca"/><stop offset=".5967" stop-color="#cecece"/><stop offset=".6067" stop-color="#c7c7c7"/><stop offset=".6167" stop-color="#b7b7b7"/><stop offset=".6267" stop-color="#a7a7a7"/><stop offset=".6367" stop-color="#a0a0a0"/><stop offset=".6442" stop-color="#9c9c9c"/><stop offset=".6517" stop-color="#949494"/><stop offset=".6592" stop-color="#8b8b8b"/><stop offset=".6667" stop-color="#878787"/><stop offset=".6717" stop-color="#838383"/><stop offset=".6767" stop-color="#797979"/><stop offset=".6817" stop-color="#707070"/><stop offset=".6867" stop-color="#6b6b6b"/><stop offset=".6982" stop-color="#707070"/><stop offset=".7097" stop-color="#7b7b7b"/><stop offset=".725" stop-color="#909090"/><stop offset=".7403" stop-color="#a4a4a4"/><stop offset=".7518" stop-color="#afafaf"/><stop offset=".7633" stop-color="#b4b4b4"/><stop offset=".7703" stop-color="#afafaf"/><stop offset=".7773" stop-color="#a1a1a1"/><stop offset=".7867" stop-color="#898989"/><stop offset=".796" stop-color="#717171"/><stop offset=".803" stop-color="#646464"/><stop offset=".81" stop-color="#5f5f5f"/><stop offset=".814" stop-color="#636363"/><stop offset=".818" stop-color="#6d6d6d"/><stop offset=".8233" stop-color="#7f7f7f"/><stop offset=".8287" stop-color="#929292"/><stop offset=".8327" stop-color="#9c9c9c"/><stop offset=".8367" stop-color="#a0a0a0"/><stop offset=".8408" stop-color="#9b9b9b"/><stop offset=".845" stop-color="#929292"/><stop offset=".8492" stop-color="#888888"/><stop offset=".8533" stop-color="#838383"/><stop offset=".8867" stop-color="#7b7b7b"/><stop offset=".9367" stop-color="#7f7f7f"/><stop offset=".9417" stop-color="#797979"/><stop offset=".9467" stop-color="#676767"/><stop offset=".9533" stop-color="#474747"/><stop offset=".96" stop-color="#272727"/><stop offset=".965" stop-color="#161616"/><stop offset=".97" stop-color="#0f0f0f"/><stop offset=".9745" stop-color="#141414"/><stop offset=".979" stop-color="#212121"/><stop offset=".985" stop-color="#383838"/><stop offset=".991" stop-color="#4f4f4f"/><stop offset=".9955" stop-color="#5c5c5c"/><stop offset="1" stop-color="#616161"/></linearGradient>
<linearGradient id="c81" x1="0" y1="0" x2="0" y2="1"><stop offset="0" stop-color="#e2e2e2"/><stop offset=".0085" stop-color="#dcdcdc"/><stop offset=".017" stop-color="#cdcdcd"/><stop offset=".0283" stop-color="#b2b2b2"/><stop offset=".0397" stop-color="#969696"/><stop offset=".0482" stop-color="#878787"/><stop offset=".0567" stop-color="#818181"/><stop offset=".1033" stop-color="#838383"/><stop offset=".1533" stop-color="#7b7b7b"/><stop offset=".1867" stop-color="#7f7f7f"/><stop offset=".1987" stop-color="#848484"/><stop offset=".2147" stop-color="#8f8f8f"/><stop offset=".2267" stop-color="#949494"/><stop offset=".2357" stop-color="#979797"/><stop offset=".2477" stop-color="#a0a0a0"/><stop offset=".2567" stop-color="#a4a4a4"/><stop offset=".3233" stop-color="#acacac"/><stop offset=".3433" stop-color="#a9a9a9"/><stop offset=".37" stop-color="#a2a2a2"/><stop offset=".39" stop-color="#a0a0a0"/><stop offset=".3975" stop-color="#a3a3a3"/><stop offset=".405" stop-color="#ababab"/><stop offset=".415" stop-color="#bbbbbb"/><stop offset=".425" stop-color="#cacaca"/><stop offset=".4325" stop-color="#d3d3d3"/><stop offset=".44" stop-color="#d6d6d6"/><stop offset=".4517" stop-color="#cfcfcf"/><stop offset=".4633" stop-color="#c1c1c1"/><stop offset=".475" stop-color="#b2b2b2"/><stop offset=".4867" stop-color="#acacac"/><stop offset=".4908" stop-color="#b0b0b0"/><stop offset=".495" stop-color="#bbbbbb"/><stop offset=".4992" stop-color="#c5c5c5"/><stop offset=".5033" stop-color="#cacaca"/><stop offset=".5433" stop-color="#c6c6c6"/><stop offset=".5967" stop-color="#cecece"/><stop offset=".6067" stop-color="#c7c7c7"/><stop offset=".6167" stop-color="#b7b7b7"/><stop offset=".6267" stop-color="#a7a7a7"/><stop offset=".6367" stop-color="#a0a0a0"/><stop offset=".6442" stop-color="#9c9c9c"/><stop offset=".6517" stop-color="#949494"/><stop offset=".6592" stop-color="#8b8b8b"/><stop offset=".6667" stop-color="#878787"/><stop offset=".6717" stop-color="#838383"/><stop offset=".6767" stop-color="#797979"/><stop offset=".6817" stop-color="#707070"/><stop offset=".6867" stop-color="#6b6b6b"/><stop offset=".6982" stop-color="#6f6f6f"/><stop offset=".7097" stop-color="#7a7a7a"/><stop offset=".725" stop-color="#8d8d8d"/><stop offset=".7403" stop-color="#a1a1a1"/><stop offset=".7518" stop-color="#acacac"/><stop offset=".7633" stop-color="#b0b0b0"/><stop offset=".7703" stop-color="#ababab"/><stop offset=".7773" stop-color="#a0a0a0"/><stop offset=".7867" stop-color="#8b8b8b"/><stop offset=".796" stop-color="#777777"/><stop offset=".803" stop-color="#6c6c6c"/><stop offset=".81" stop-color="#676767"/><stop offset=".8167" stop-color="#6d6d6d"/><stop offset=".8233" stop-color="#797979"/><stop offset=".83" stop-color="#868686"/><stop offset=".8367" stop-color="#8b8b8b"/><stop offset=".8533" stop-color="#8b8b8b"/><stop offset=".8867" stop-color="#8b8b8b"/><stop offset=".9017" stop-color="#898989"/><stop offset=".9217" stop-color="#828282"/><stop offset=".9367" stop-color="#7f7f7f"/><stop offset=".9417" stop-color="#7a7a7a"/><stop offset=".9467" stop-color="#6b6b6b"/><stop offset=".9533" stop-color="#515151"/><stop offset=".96" stop-color="#373737"/><stop offset=".965" stop-color="#282828"/><stop offset=".97" stop-color="#232323"/><stop offset=".9745" stop-color="#272727"/><stop offset=".979" stop-color="#303030"/><stop offset=".985" stop-color="#424242"/><stop offset=".991" stop-color="#545454"/><stop offset=".9955" stop-color="#5d5d5d"/><stop offset="1" stop-color="#616161"/></linearGradient>
<linearGradient id="c82" x1="0" y1="0" x2="0" y2="1"><stop offset="0" stop-color="#e0e0e0"/><stop offset=".0085" stop-color="#dadada"/><stop offset=".017" stop-color="#cccccc"/><stop offset=".0283" stop-color="#b1b1b1"/><stop offset=".0397" stop-color="#969696"/><stop offset=".0482" stop-color="#878787"/><stop offset=".0567" stop-color="#818181"/><stop offset=".1033" stop-color="#838383"/><stop offset=".1158" stop-color="#808080"/><stop offset=".1283" stop-color="#777777"/><stop offset=".1408" stop-color="#6f6f6f"/><stop offset=".1533" stop-color="#6b6b6b"/><stop offset=".1633" stop-color="#707070"/><stop offset=".1767" stop-color="#7b7b7b"/><stop offset=".1867" stop-color="#7f7f7f"/><stop offset=".1967" stop-color="#848484"/><stop offset=".2067" stop-color="#909090"/><stop offset=".2167" stop-color="#9b9b9b"/><stop offset=".2267" stop-color="#a0a0a0"/><stop offset=".2342" stop-color="#a3a3a3"/><stop offset=".2417" stop-color="#acacac"/><stop offset=".2492" stop-color="#b4b4b4"/><stop offset=".2567" stop-color="#b8b8b8"/><stop offset=".3233" stop-color="#bababa"/><stop offset=".34" stop-color="#b3b3b3"/><stop offset=".3567" stop-color="#a3a3a3"/><stop offset=".3733" stop-color="#939393"/><stop offset=".39" stop-color="#8b8b8b"/><stop offset=".3975" stop-color="#929292"/><stop offset=".405" stop-color="#a2a2a2"/><stop offset=".415" stop-color="#bfbfbf"/><stop offset=".425" stop-color="#dcdcdc"/><stop offset=".4325" stop-color="#ececec"/><stop offset=".44" stop-color="#f2f2f2"/><stop offset=".447" stop-color="#ededed"/><stop offset=".454" stop-color="#dfdfdf"/><stop offset=".4633" stop-color="#c5c5c5"/><stop offset=".4727" stop-color="#ababab"/><stop offset=".4797" stop-color="#9d9d9d"/><stop offset=".4867" stop-color="#989898"/><stop offset=".4892" stop-color="#9b9b9b"/><stop offset=".4917" stop-color="#a3a3a3"/><stop offset=".495" stop-color="#b3b3b3"/><stop offset=".4983" stop-color="#c2c2c2"/><stop offset=".5008" stop-color="#cbcbcb"/><stop offset=".5033" stop-color="#cecece"/><stop offset=".5433" stop-color="#c6c6c6"/><stop offset=".5967" stop-color="#c6c6c6"/><stop offset=".6067" stop-color="#c0c0c0"/><stop offset=".6167" stop-color="#b3b3b3"/><stop offset=".6267" stop-color="#a6a6a6"/><stop offset=".6367" stop-color="#a0a0a0"/><stop offset=".6442" stop-color="#9c9c9c"/><stop offset=".6517" stop-color="#949494"/><stop offset=".6592" stop-color="#8b8b8b"/><stop offset=".6667" stop-color="#878787"/><stop offset=".6727" stop-color="#848484"/><stop offset=".6807" stop-color="#7b7b7b"/><stop offset=".6867" stop-color="#777777"/><stop offset=".6982" stop-color="#7c7c7c"/><stop offset=".7097" stop-color="#888888"/><stop offset=".725" stop-color="#9e9e9e"/><stop offset=".7403" stop-color="#b3b3b3"/><stop offset=".7518" stop-color="#bfbfbf"/><stop offset=".7633" stop-color="#c4c4c4"/><stop offset=".7703" stop-color="#bdbdbd"/><stop offset=".7773" stop-color="#acacac"/><stop offset=".7867" stop-color="#8d8d8d"/><stop offset=".796" stop-color="#6f6f6f"/><stop offset=".803" stop-color="#5e5e5e"/><stop offset=".81" stop-color="#575757"/><stop offset=".814" stop-color="#5a5a5a"/><stop offset=".818" stop-color="#626262"/><stop offset=".8233" stop-color="#717171"/><stop offset=".8287" stop-color="#808080"/><stop offset=".8327" stop-color="#888888"/><stop offset=".8367" stop-color="#8b8b8b"/><stop offset=".8533" stop-color="#8b8b8b"/><stop offset=".8867" stop-color="#909090"/><stop offset=".9017" stop-color="#8c8c8c"/><stop offset=".9217" stop-color="#838383"/><stop offset=".9367" stop-color="#7f7f7f"/><stop offset=".9417" stop-color="#797979"/><stop offset=".9467" stop-color="#686868"/><stop offset=".9533" stop-color="#494949"/><stop offset=".96" stop-color="#2a2a2a"/><stop offset=".965" stop-color="#191919"/><stop offset=".97" stop-color="#131313"/><stop offset=".9745" stop-color="#171717"/><stop offset=".979" stop-color="#242424"/><stop offset=".985" stop-color="#3a3a3a"/><stop offset=".991" stop-color="#505050"/><stop offset=".9955" stop-color="#5c5c5c"/><stop offset="1" stop-color="#616161"/></linearGradient>
<linearGradient id="c83" x1="0" y1="0" x2="0" y2="1"><stop offset="0" stop-color="#e0e0e0"/><stop offset=".0085" stop-color="#dadada"/><stop offset=".017" stop-color="#cccccc"/><stop offset=".0283" stop-color="#b1b1b1"/><stop offset=".0397" stop-color="#969696"/><stop offset=".0482" stop-color="#878787"/><stop offset=".0567" stop-color="#818181"/><stop offset=".1033" stop-color="#838383"/><stop offset=".1158" stop-color="#808080"/><stop offset=".1283" stop-color="#777777"/><stop offset=".1408" stop-color="#6f6f6f"/><stop offset=".1533" stop-color="#6b6b6b"/><stop offset=".1633" stop-color="#707070"/><stop offset=".1767" stop-color="#7b7b7b"/><stop offset=".1867" stop-color="#7f7f7f"/><stop offset=".1967" stop-color="#848484"/><stop offset=".2067" stop-color="#909090"/><stop offset=".2167" stop-color="#9b9b9b"/><stop offset=".2267" stop-color="#a0a0a0"/><stop offset=".2342" stop-color="#a4a4a4"/><stop offset=".2417" stop-color="#adadad"/><stop offset=".2492" stop-color="#b6b6b6"/><stop offset=".2567" stop-color="#bababa"/><stop offset=".3233" stop-color="#bababa"/><stop offset=".34" stop-color="#b5b5b5"/><stop offset=".3567" stop-color="#ababab"/><stop offset=".3733" stop-color="#a0a0a0"/><stop offset=".39" stop-color="#9c9c9c"/><stop offset=".3975" stop-color="#a0a0a0"/><stop offset=".405" stop-color="#adadad"/><stop offset=".415" stop-color="#c3c3c3"/><stop offset=".425" stop-color="#d9d9d9"/><stop offset=".4325" stop-color="#e5e5e5"/><stop offset=".44" stop-color="#eaeaea"/><stop offset=".447" stop-color="#e6e6e6"/><stop offset=".454" stop-color="#dadada"/><stop offset=".4633" stop-color="#c5c5c5"/><stop offset=".4727" stop-color="#b0b0b0"/><stop offset=".4797" stop-color="#a4a4a4"/><stop offset=".4867" stop-color="#a0a0a0"/><stop offset=".4908" stop-color="#a6a6a6"/><stop offset=".495" stop-color="#b5b5b5"/><stop offset=".4992" stop-color="#c3c3c3"/><stop offset=".5033" stop-color="#cacaca"/><stop offset=".5433" stop-color="#c6c6c6"/><stop offset=".5967" stop-color="#c6c6c6"/><stop offset=".6067" stop-color="#c0c0c0"/><stop offset=".6167" stop-color="#b3b3b3"/><stop offset=".6267" stop-color="#a6a6a6"/><stop offset=".6367" stop-color="#a0a0a0"/><stop offset=".6442" stop-color="#9c9c9c"/><stop offset=".6517" stop-color="#949494"/><stop offset=".6592" stop-color="#8b8b8b"/><stop offset=".6667" stop-color="#878787"/><stop offset=".6727" stop-color="#848484"/><stop offset=".6807" stop-color="#7b7b7b"/><stop offset=".6867" stop-color="#777777"/><stop offset=".7058" stop-color="#7e7e7e"/><stop offset=".725" stop-color="#8b8b8b"/><stop offset=".7442" stop-color="#999999"/><stop offset=".7633" stop-color="#a0a0a0"/><stop offset=".7703" stop-color="#9b9b9b"/><stop offset=".7773" stop-color="#909090"/><stop offset=".7867" stop-color="#7b7b7b"/><stop offset=".796" stop-color="#676767"/><stop offset=".803" stop-color="#5c5c5c"/><stop offset=".81" stop-color="#575757"/><stop offset=".814" stop-color="#5a5a5a"/><stop offset=".818" stop-color="#626262"/><stop offset=".8233" stop-color="#717171"/><stop offset=".8287" stop-color="#808080"/><stop offset=".8327" stop-color="#888888"/><stop offset=".8367" stop-color="#8b8b8b"/><stop offset=".8533" stop-color="#8b8b8b"/><stop offset=".8867" stop-color="#909090"/><stop offset=".9017" stop-color="#8c8c8c"/><stop offset=".9217" stop-color="#838383"/><stop offset=".9367" stop-color="#7f7f7f"/><stop offset=".9417" stop-color="#797979"/><stop offset=".9467" stop-color="#686868"/><stop offset=".9533" stop-color="#494949"/><stop offset=".96" stop-color="#2a2a2a"/><stop offset=".965" stop-color="#191919"/><stop offset=".97" stop-color="#131313"/><stop offset=".9745" stop-color="#171717"/><stop offset=".979" stop-color="#242424"/><stop offset=".985" stop-color="#3a3a3a"/><stop offset=".991" stop-color="#505050"/><stop offset=".9955" stop-color="#5c5c5c"/><stop offset="1" stop-color="#616161"/></linearGradient>
</defs>
<g>
<rect x="52.2" y="50.6" width="52.8" height="27.71" fill="#f8f800"/>
<rect x="52.2" y="50.6" width="52.8" height="27.41" fill="url(#pdot)"/>
<rect x="87.2" y="50.6" width="17.8" height="27.41" fill="url(#pdot2)"/>
<rect x="52.2" y="78.02" width="52.8" height="25.89" fill="#f6a440"/>
<rect x="52.2" y="78.02" width="52.8" height="25.59" fill="url(#phat)"/>
<rect x="52.2" y="103.6" width="52.8" height="27.72" fill="#f8f800"/>
<rect x="52.2" y="103.6" width="52.8" height="27.42" fill="url(#pdot)"/>
<rect x="87.2" y="103.6" width="17.8" height="27.42" fill="url(#pdot2)"/>
<rect x="52.2" y="131.02" width="52.8" height="18.58" fill="#f6a440"/>
<rect x="52.2" y="131.02" width="52.8" height="18.28" fill="url(#phat)"/>
<rect x="52.2" y="149.29" width="52.8" height="9.44" fill="#f8f800"/>
<rect x="52.2" y="149.29" width="52.8" height="9.14" fill="url(#pdot)"/>
<rect x="87.2" y="149.29" width="17.8" height="9.14" fill="url(#pdot2)"/>
<rect x="52.2" y="158.43" width="52.8" height="18.58" fill="#f6a440"/>
<rect x="52.2" y="158.43" width="52.8" height="18.28" fill="url(#phat)"/>
<rect x="52.2" y="176.71" width="52.8" height="11.27" fill="#f8f800"/>
<rect x="52.2" y="176.71" width="52.8" height="10.97" fill="url(#pdot)"/>
<rect x="87.2" y="176.71" width="17.8" height="10.97" fill="url(#pdot2)"/>
<rect x="52.2" y="187.67" width="52.8" height="9.44" fill="#f6a440"/>
<rect x="52.2" y="187.67" width="52.8" height="9.14" fill="url(#phat)"/>
<rect x="52.2" y="196.81" width="52.8" height="9.44" fill="#f8f800"/>
<rect x="52.2" y="196.81" width="52.8" height="9.14" fill="url(#pdot)"/>
<rect x="87.2" y="196.81" width="17.8" height="9.14" fill="url(#pdot2)"/>
<rect x="52.2" y="205.95" width="52.8" height="9.44" fill="#00ee3c"/>
<rect x="52.2" y="205.95" width="52.8" height="9.14" fill="url(#pdot)"/>
<rect x="87.2" y="205.95" width="17.8" height="9.14" fill="url(#pdot2)"/>
<rect x="52.2" y="215.09" width="52.8" height="9.44" fill="#f8f800"/>
<rect x="52.2" y="215.09" width="52.8" height="9.14" fill="url(#pdot)"/>
<rect x="87.2" y="215.09" width="17.8" height="9.14" fill="url(#pdot2)"/>
<rect x="52.2" y="224.23" width="52.8" height="36.85" fill="#00ee3c"/>
<rect x="52.2" y="224.23" width="52.8" height="36.55" fill="url(#pdot)"/>
<rect x="87.2" y="224.23" width="17.8" height="36.55" fill="url(#pdot2)"/>
<rect x="52.2" y="260.78" width="52.8" height="27.72" fill="#f8f800"/>
<rect x="52.2" y="260.78" width="52.8" height="27.42" fill="url(#pdot)"/>
<rect x="87.2" y="260.78" width="17.8" height="27.42" fill="url(#pdot2)"/>
<rect x="52.2" y="288.2" width="52.8" height="9.44" fill="#f6a440"/>
<rect x="52.2" y="288.2" width="52.8" height="9.14" fill="url(#phat)"/>
<rect x="52.2" y="297.33" width="52.8" height="18.58" fill="#f8f800"/>
<rect x="52.2" y="297.33" width="52.8" height="18.28" fill="url(#pdot)"/>
<rect x="87.2" y="297.33" width="17.8" height="18.28" fill="url(#pdot2)"/>
<rect x="52.2" y="315.61" width="52.8" height="27.71" fill="#f6a440"/>
<rect x="52.2" y="315.61" width="52.8" height="27.41" fill="url(#phat)"/>
<rect x="52.2" y="343.03" width="52.8" height="33.2" fill="#f8f800"/>
<rect x="52.2" y="343.03" width="52.8" height="32.9" fill="url(#pdot)"/>
<rect x="87.2" y="343.03" width="17.8" height="32.9" fill="url(#pdot2)"/>
<rect x="52.2" y="375.92" width="52.8" height="22.23" fill="#00ee3c"/>
<rect x="52.2" y="375.92" width="52.8" height="21.93" fill="url(#pdot)"/>
<rect x="87.2" y="375.92" width="17.8" height="21.93" fill="url(#pdot2)"/>
<rect x="52.2" y="397.86" width="52.8" height="18.58" fill="#f8f800"/>
<rect x="52.2" y="397.86" width="52.8" height="18.28" fill="url(#pdot)"/>
<rect x="87.2" y="397.86" width="17.8" height="18.28" fill="url(#pdot2)"/>
<rect x="52.2" y="416.13" width="52.8" height="9.44" fill="#00ee3c"/>
<rect x="52.2" y="416.13" width="52.8" height="9.14" fill="url(#pdot)"/>
<rect x="87.2" y="416.13" width="17.8" height="9.14" fill="url(#pdot2)"/>
<rect x="52.2" y="425.27" width="52.8" height="45.99" fill="#f8f800"/>
<rect x="52.2" y="425.27" width="52.8" height="45.69" fill="url(#pdot)"/>
<rect x="87.2" y="425.27" width="17.8" height="45.69" fill="url(#pdot2)"/>
<rect x="52.2" y="470.96" width="52.8" height="22.23" fill="#f6a440"/>
<rect x="52.2" y="470.96" width="52.8" height="21.93" fill="url(#phat)"/>
<rect x="52.2" y="492.9" width="52.8" height="24.06" fill="#00ee3c"/>
<rect x="52.2" y="492.9" width="52.8" height="23.76" fill="url(#pdot)"/>
<rect x="87.2" y="492.9" width="17.8" height="23.76" fill="url(#pdot2)"/>
<rect x="52.2" y="516.65" width="52.8" height="36.85" fill="#f6a440"/>
<rect x="52.2" y="516.65" width="52.8" height="36.55" fill="url(#phat)"/>
<rect x="52.2" y="553.21" width="52.8" height="14.92" fill="#f8f800"/>
<rect x="52.2" y="553.21" width="52.8" height="14.62" fill="url(#pdot)"/>
<rect x="87.2" y="553.21" width="17.8" height="14.62" fill="url(#pdot2)"/>
<rect x="52.2" y="567.83" width="52.8" height="13.09" fill="#00ee3c"/>
<rect x="52.2" y="567.83" width="52.8" height="12.79" fill="url(#pdot)"/>
<rect x="87.2" y="567.83" width="17.8" height="12.79" fill="url(#pdot2)"/>
<rect x="52.2" y="580.62" width="52.8" height="18.58" fill="#f8f800"/>
<rect x="52.2" y="580.62" width="52.8" height="18.28" fill="url(#pdot)"/>
<rect x="87.2" y="580.62" width="17.8" height="18.28" fill="url(#pdot2)"/>
<rect x="52.2" y="77.56" width="52.8" height="0.9" fill="#3a2a10" fill-opacity=".7"/>
<rect x="52.2" y="103.15" width="52.8" height="0.9" fill="#3a2a10" fill-opacity=".7"/>
<rect x="52.2" y="130.57" width="52.8" height="0.9" fill="#3a2a10" fill-opacity=".7"/>
<rect x="52.2" y="148.84" width="52.8" height="0.9" fill="#3a2a10" fill-opacity=".7"/>
<rect x="52.2" y="157.98" width="52.8" height="0.9" fill="#3a2a10" fill-opacity=".7"/>
<rect x="52.2" y="176.26" width="52.8" height="0.9" fill="#3a2a10" fill-opacity=".7"/>
<rect x="52.2" y="187.22" width="52.8" height="0.9" fill="#3a2a10" fill-opacity=".7"/>
<rect x="52.2" y="196.36" width="52.8" height="0.9" fill="#3a2a10" fill-opacity=".7"/>
<rect x="52.2" y="205.5" width="52.8" height="0.9" fill="#3a2a10" fill-opacity=".7"/>
<rect x="52.2" y="214.64" width="52.8" height="0.9" fill="#3a2a10" fill-opacity=".7"/>
<rect x="52.2" y="223.78" width="52.8" height="0.9" fill="#3a2a10" fill-opacity=".7"/>
<rect x="52.2" y="260.33" width="52.8" height="0.9" fill="#3a2a10" fill-opacity=".7"/>
<rect x="52.2" y="287.75" width="52.8" height="0.9" fill="#3a2a10" fill-opacity=".7"/>
<rect x="52.2" y="296.88" width="52.8" height="0.9" fill="#3a2a10" fill-opacity=".7"/>
<rect x="52.2" y="315.16" width="52.8" height="0.9" fill="#3a2a10" fill-opacity=".7"/>
<rect x="52.2" y="342.58" width="52.8" height="0.9" fill="#3a2a10" fill-opacity=".7"/>
<rect x="52.2" y="375.47" width="52.8" height="0.9" fill="#3a2a10" fill-opacity=".7"/>
<rect x="52.2" y="397.41" width="52.8" height="0.9" fill="#3a2a10" fill-opacity=".7"/>
<rect x="52.2" y="415.68" width="52.8" height="0.9" fill="#3a2a10" fill-opacity=".7"/>
<rect x="52.2" y="424.82" width="52.8" height="0.9" fill="#3a2a10" fill-opacity=".7"/>
<rect x="52.2" y="470.51" width="52.8" height="0.9" fill="#3a2a10" fill-opacity=".7"/>
<rect x="52.2" y="492.45" width="52.8" height="0.9" fill="#3a2a10" fill-opacity=".7"/>
<rect x="52.2" y="516.2" width="52.8" height="0.9" fill="#3a2a10" fill-opacity=".7"/>
<rect x="52.2" y="552.76" width="52.8" height="0.9" fill="#3a2a10" fill-opacity=".7"/>
<rect x="52.2" y="567.38" width="52.8" height="0.9" fill="#3a2a10" fill-opacity=".7"/>
<rect x="52.2" y="580.17" width="52.8" height="0.9" fill="#3a2a10" fill-opacity=".7"/>
<rect x="49.2" y="50" width="55.8" height="1" fill="#8a8aa8"/>
<rect x="51.3" y="50.6" width="0.9" height="548.3" fill="#9a9a9a"/>
<path d="M48.5 50.6h3.2M49.9 54.26h1.8M49.9 57.91h1.8M49.9 61.57h1.8M49.9 65.22h1.8M48.5 68.88h3.2M49.9 72.53h1.8M49.9 76.19h1.8M49.9 79.84h1.8M49.9 83.5h1.8M48.5 87.15h3.2M49.9 90.81h1.8M49.9 94.46h1.8M49.9 98.12h1.8M49.9 101.77h1.8M48.5 105.43h3.2M49.9 109.09h1.8M49.9 112.74h1.8M49.9 116.4h1.8M49.9 120.05h1.8M48.5 123.71h3.2M49.9 127.36h1.8M49.9 131.02h1.8M49.9 134.67h1.8M49.9 138.33h1.8M48.5 141.98h3.2M49.9 145.64h1.8M49.9 149.29h1.8M49.9 152.95h1.8M49.9 156.6h1.8M48.5 160.26h3.2M49.9 163.92h1.8M49.9 167.57h1.8M49.9 171.23h1.8M49.9 174.88h1.8M48.5 178.54h3.2M49.9 182.19h1.8M49.9 185.85h1.8M49.9 189.5h1.8M49.9 193.16h1.8M48.5 196.81h3.2M49.9 200.47h1.8M49.9 204.12h1.8M49.9 207.78h1.8M49.9 211.43h1.8M48.5 215.09h3.2M49.9 218.75h1.8M49.9 222.4h1.8M49.9 226.06h1.8M49.9 229.71h1.8M48.5 233.37h3.2M49.9 237.02h1.8M49.9 240.68h1.8M49.9 244.33h1.8M49.9 247.99h1.8M48.5 251.64h3.2M49.9 255.3h1.8M49.9 258.95h1.8M49.9 262.61h1.8M49.9 266.26h1.8M48.5 269.92h3.2M49.9 273.58h1.8M49.9 277.23h1.8M49.9 280.89h1.8M49.9 284.54h1.8M48.5 288.2h3.2M49.9 291.85h1.8M49.9 295.51h1.8M49.9 299.16h1.8M49.9 302.82h1.8M48.5 306.47h3.2M49.9 310.13h1.8M49.9 313.78h1.8M49.9 317.44h1.8M49.9 321.09h1.8M48.5 324.75h3.2M49.9 328.41h1.8M49.9 332.06h1.8M49.9 335.72h1.8M49.9 339.37h1.8M48.5 343.03h3.2M49.9 346.68h1.8M49.9 350.34h1.8M49.9 353.99h1.8M49.9 357.65h1.8M48.5 361.3h3.2M49.9 364.96h1.8M49.9 368.61h1.8M49.9 372.27h1.8M49.9 375.92h1.8M48.5 379.58h3.2M49.9 383.24h1.8M49.9 386.89h1.8M49.9 390.55h1.8M49.9 394.2h1.8M48.5 397.86h3.2M49.9 401.51h1.8M49.9 405.17h1.8M49.9 408.82h1.8M49.9 412.48h1.8M48.5 416.13h3.2M49.9 419.79h1.8M49.9 423.44h1.8M49.9 427.1h1.8M49.9 430.75h1.8M48.5 434.41h3.2M49.9 438.07h1.8M49.9 441.72h1.8M49.9 445.38h1.8M49.9 449.03h1.8M48.5 452.69h3.2M49.9 456.34h1.8M49.9 460h1.8M49.9 463.65h1.8M49.9 467.31h1.8M48.5 470.96h3.2M49.9 474.62h1.8M49.9 478.27h1.8M49.9 481.93h1.8M49.9 485.58h1.8M48.5 489.24h3.2M49.9 492.9h1.8M49.9 496.55h1.8M49.9 500.21h1.8M49.9 503.86h1.8M48.5 507.52h3.2M49.9 511.17h1.8M49.9 514.83h1.8M49.9 518.48h1.8M49.9 522.14h1.8M48.5 525.79h3.2M49.9 529.45h1.8M49.9 533.1h1.8M49.9 536.76h1.8M49.9 540.41h1.8M48.5 544.07h3.2M49.9 547.73h1.8M49.9 551.38h1.8M49.9 555.04h1.8M49.9 558.69h1.8M48.5 562.35h3.2M49.9 566h1.8M49.9 569.66h1.8M49.9 573.31h1.8M49.9 576.97h1.8M48.5 580.62h3.2M49.9 584.28h1.8M49.9 587.93h1.8M49.9 591.59h1.8M49.9 595.24h1.8M48.5 598.9h3.2" stroke="#8c8c8c" stroke-width=".7" fill="none"/>
<g font-family='"DejaVu Sans", "Liberation Sans", sans-serif' font-size="7.1" fill="#0a0a0a" stroke="#000" stroke-width=".07" text-anchor="end">
<text transform="translate(44.6 53.5) scale(1.3 1)">0.0</text>
<text transform="translate(44.6 71.78) scale(1.3 1)">10.0</text>
<text transform="translate(44.6 90.05) scale(1.3 1)">20.0</text>
<text transform="translate(44.6 108.33) scale(1.3 1)">30.0</text>
<text transform="translate(44.6 126.61) scale(1.3 1)">40.0</text>
<text transform="translate(44.6 144.88) scale(1.3 1)">50.0</text>
<text transform="translate(44.6 163.16) scale(1.3 1)">60.0</text>
<text transform="translate(44.6 181.44) scale(1.3 1)">70.0</text>
<text transform="translate(44.6 199.71) scale(1.3 1)">80.0</text>
<text transform="translate(44.6 217.99) scale(1.3 1)">90.0</text>
<text transform="translate(44.6 236.27) scale(1.3 1)">100.0</text>
<text transform="translate(44.6 254.54) scale(1.3 1)">110.0</text>
<text transform="translate(44.6 272.82) scale(1.3 1)">120.0</text>
<text transform="translate(44.6 291.1) scale(1.3 1)">130.0</text>
<text transform="translate(44.6 309.37) scale(1.3 1)">140.0</text>
<text transform="translate(44.6 327.65) scale(1.3 1)">150.0</text>
<text transform="translate(44.6 345.93) scale(1.3 1)">160.0</text>
<text transform="translate(44.6 364.2) scale(1.3 1)">170.0</text>
<text transform="translate(44.6 382.48) scale(1.3 1)">180.0</text>
<text transform="translate(44.6 400.76) scale(1.3 1)">190.0</text>
<text transform="translate(44.6 419.03) scale(1.3 1)">200.0</text>
<text transform="translate(44.6 437.31) scale(1.3 1)">210.0</text>
<text transform="translate(44.6 455.59) scale(1.3 1)">220.0</text>
<text transform="translate(44.6 473.86) scale(1.3 1)">230.0</text>
<text transform="translate(44.6 492.14) scale(1.3 1)">240.0</text>
<text transform="translate(44.6 510.42) scale(1.3 1)">250.0</text>
<text transform="translate(44.6 528.69) scale(1.3 1)">260.0</text>
<text transform="translate(44.6 546.97) scale(1.3 1)">270.0</text>
<text transform="translate(44.6 565.25) scale(1.3 1)">280.0</text>
<text transform="translate(44.6 583.52) scale(1.3 1)">290.0</text>
<text transform="translate(44.6 601.8) scale(1.3 1)">300.0</text>
</g>
<g stroke="#2e2e9c" fill="none" stroke-width="1.5">
<path d="M110.2 50.6 V595.6"/>
<path d="M106.8 50.6 h6.2" stroke-width="1.3"/>
<path d="M107.4 149.29 h5" stroke-width="1.1"/>
<path d="M107.4 343.03 h5" stroke-width="1.1"/>
<path d="M107.4 553.21 h5" stroke-width="1.1"/>
<path d="M107.2 597.6 q1.5 -2.4 3 -1 t3 -1.2" stroke-width="1"/>
<path d="M110.2 598 V604.4 M106.8 604.6 h6.4" stroke-width="1.2"/>
</g>
<g font-family='"DejaVu Sans", "Liberation Sans", sans-serif' font-size="7.1" fill="#2e2e9c" stroke="#2e2e9c" stroke-width=".12">
<text transform="translate(120 51.9) scale(1.3 1)">0.0</text>
<text transform="translate(116.6 151.79) scale(1.3 1)">54.0</text>
<text transform="translate(116.6 345.53) scale(1.3 1)">160.0</text>
<text transform="translate(116.6 555.71) scale(1.3 1)">275.0</text>
</g>
<g font-family='"DejaVu Sans", "Liberation Sans", sans-serif' font-size="8.7" font-weight="bold" font-style="italic" fill="#2e2e9c">
<text transform="translate(115 103.8) scale(1.45 1)">B1</text>
<text transform="translate(115 247.6) scale(1.45 1)">B2</text>
<text transform="translate(115 449.6) scale(1.45 1)">B3</text>
</g>
</g>
<g>
<path d="M225.11 50.6V600M280.52 50.6V600M335.93 50.6V600M391.34 50.6V600M446.75 50.6V600M502.16 50.6V600M557.58 50.6V600M612.99 50.6V600" stroke="#e2e2e2" stroke-width="1" fill="none"/>
<path d="M197.4 50.6H668.4" stroke="#7a7a7a" stroke-width="1.1" fill="none"/>
<path d="M197.4 50.6V600H668.4V50.6" stroke="#4a4a4a" stroke-width="1.2" fill="none"/>
<path d="M225.11 50.6v5M225.11 600v-5M280.52 50.6v5M280.52 600v-5M335.93 50.6v5M335.93 600v-5M391.34 50.6v5M391.34 600v-5M446.75 50.6v5M446.75 600v-5M502.16 50.6v5M502.16 600v-5M557.58 50.6v5M557.58 600v-5M612.99 50.6v5M612.99 600v-5M668.4 50.6v5M668.4 600v-5M197.4 50.6h5M668.4 50.6h-5M197.4 141.74h5M668.4 141.74h-5M197.4 232.87h5M668.4 232.87h-5M197.4 324h5M668.4 324h-5M197.4 415.14h5M668.4 415.14h-5M197.4 506.28h5M668.4 506.28h-5M197.4 597.41h5M668.4 597.41h-5" stroke="#555" stroke-width="1" fill="none"/>
<path d="M280.52 50.6 L280.52 81.59 L280.52 107.1 L280.52 134.44 L280.52 152.67 L280.52 174.54 L280.52 190.95 L280.52 227.4 L280.52 263.86 L280.52 290.65 L280.52 317.63 L280.52 326.92 L280.52 348.61 L280.52 377.96 L280.52 399.65 L280.52 416.96 L280.52 427.35 L280.52 472.56 L280.52 494.43 L280.52 509.01 L280.52 518.12 L280.52 536.35 L280.52 563.69 L280.52 581.92 L280.52 596.68" fill="none" stroke="#000000" stroke-width="1.9" stroke-dasharray="8.5 5.5"/>
<g fill="#000000"><rect x="277.32" y="47.4" width="6.4" height="6.4" rx="1.6"/><rect x="277.32" y="78.39" width="6.4" height="6.4" rx="1.6"/><rect x="277.32" y="103.9" width="6.4" height="6.4" rx="1.6"/><rect x="277.32" y="131.24" width="6.4" height="6.4" rx="1.6"/><rect x="277.32" y="149.47" width="6.4" height="6.4" rx="1.6"/><rect x="277.32" y="171.34" width="6.4" height="6.4" rx="1.6"/><rect x="277.32" y="187.75" width="6.4" height="6.4" rx="1.6"/><rect x="277.32" y="224.2" width="6.4" height="6.4" rx="1.6"/><rect x="277.32" y="260.66" width="6.4" height="6.4" rx="1.6"/><rect x="277.32" y="287.45" width="6.4" height="6.4" rx="1.6"/><rect x="277.32" y="314.43" width="6.4" height="6.4" rx="1.6"/><rect x="277.32" y="323.72" width="6.4" height="6.4" rx="1.6"/><rect x="277.32" y="345.41" width="6.4" height="6.4" rx="1.6"/><rect x="277.32" y="374.76" width="6.4" height="6.4" rx="1.6"/><rect x="277.32" y="396.45" width="6.4" height="6.4" rx="1.6"/><rect x="277.32" y="413.76" width="6.4" height="6.4" rx="1.6"/><rect x="277.32" y="424.15" width="6.4" height="6.4" rx="1.6"/><rect x="277.32" y="469.36" width="6.4" height="6.4" rx="1.6"/><rect x="277.32" y="491.23" width="6.4" height="6.4" rx="1.6"/><rect x="277.32" y="505.81" width="6.4" height="6.4" rx="1.6"/><rect x="277.32" y="514.92" width="6.4" height="6.4" rx="1.6"/><rect x="277.32" y="533.15" width="6.4" height="6.4" rx="1.6"/><rect x="277.32" y="560.49" width="6.4" height="6.4" rx="1.6"/><rect x="277.32" y="578.72" width="6.4" height="6.4" rx="1.6"/><rect x="277.32" y="593.48" width="6.4" height="6.4" rx="1.6"/></g>
<path d="M280.52 50.6 L274.98 81.59 L280.52 107.1 L274.98 134.44 L280.52 152.67 L280.52 174.54 L280.52 190.95 L280.52 227.4 L280.52 263.86 L286.06 290.65 L269.44 317.63 L269.44 326.92 L263.89 348.61 L269.44 377.96 L263.89 399.65 L263.89 416.96 L269.44 427.35 L269.44 472.56 L269.44 494.43 L274.98 509.01 L269.44 518.12 L263.89 536.35 L263.89 563.69 L263.89 581.92 L280.52 596.68" fill="none" stroke="#ff0000" stroke-width="1.9" stroke-dasharray="8.5 5.5"/>
<g fill="#ff0000"><circle cx="280.52" cy="50.6" r="4"/><circle cx="274.98" cy="81.59" r="4"/><circle cx="280.52" cy="107.1" r="4"/><circle cx="274.98" cy="134.44" r="4"/><circle cx="280.52" cy="152.67" r="4"/><circle cx="280.52" cy="174.54" r="4"/><circle cx="280.52" cy="190.95" r="4"/><circle cx="280.52" cy="227.4" r="4"/><circle cx="280.52" cy="263.86" r="4"/><circle cx="286.06" cy="290.65" r="4"/><circle cx="269.44" cy="317.63" r="4"/><circle cx="269.44" cy="326.92" r="4"/><circle cx="263.89" cy="348.61" r="4"/><circle cx="269.44" cy="377.96" r="4"/><circle cx="263.89" cy="399.65" r="4"/><circle cx="263.89" cy="416.96" r="4"/><circle cx="269.44" cy="427.35" r="4"/><circle cx="269.44" cy="472.56" r="4"/><circle cx="269.44" cy="494.43" r="4"/><circle cx="274.98" cy="509.01" r="4"/><circle cx="269.44" cy="518.12" r="4"/><circle cx="263.89" cy="536.35" r="4"/><circle cx="263.89" cy="563.69" r="4"/><circle cx="263.89" cy="581.92" r="4"/><circle cx="280.52" cy="596.68" r="4"/></g>
<path d="M308.22 50.6 L297.14 81.59 L302.68 107.1 L302.68 134.44 L302.68 152.67 L308.22 174.54 L302.68 190.95 L302.68 227.4 L291.6 263.86 L302.68 290.65 L286.06 317.63 L280.52 326.92 L274.98 348.61 L269.44 377.96 L269.44 399.65 L263.89 416.96 L269.44 427.35 L274.98 472.56 L263.89 494.43 L274.98 509.01 L263.89 518.12 L252.81 536.35 L263.89 563.69 L263.89 581.92 L280.52 596.68" fill="none" stroke="#ffb000" stroke-width="1.9" stroke-dasharray="8.5 5.5"/>
<g fill="#ffb000"><circle cx="308.22" cy="50.6" r="4"/><circle cx="297.14" cy="81.59" r="4"/><circle cx="302.68" cy="107.1" r="4"/><circle cx="302.68" cy="134.44" r="4"/><circle cx="302.68" cy="152.67" r="4"/><circle cx="308.22" cy="174.54" r="4"/><circle cx="302.68" cy="190.95" r="4"/><circle cx="302.68" cy="227.4" r="4"/><circle cx="291.6" cy="263.86" r="4"/><circle cx="302.68" cy="290.65" r="4"/><circle cx="286.06" cy="317.63" r="4"/><circle cx="280.52" cy="326.92" r="4"/><circle cx="274.98" cy="348.61" r="4"/><circle cx="269.44" cy="377.96" r="4"/><circle cx="269.44" cy="399.65" r="4"/><circle cx="263.89" cy="416.96" r="4"/><circle cx="269.44" cy="427.35" r="4"/><circle cx="274.98" cy="472.56" r="4"/><circle cx="263.89" cy="494.43" r="4"/><circle cx="274.98" cy="509.01" r="4"/><circle cx="263.89" cy="518.12" r="4"/><circle cx="252.81" cy="536.35" r="4"/><circle cx="263.89" cy="563.69" r="4"/><circle cx="263.89" cy="581.92" r="4"/><circle cx="280.52" cy="596.68" r="4"/></g>
<path d="M363.64 50.6 L341.47 81.59 L341.47 107.1 L335.93 134.44 L341.47 152.67 L341.47 174.54 L341.47 190.95 L335.93 227.4 L324.85 263.86 L324.85 290.65 L308.22 317.63 L302.68 326.92 L291.6 348.61 L291.6 377.96 L274.98 399.65 L274.98 416.96 L274.98 427.35 L274.98 472.56 L258.35 494.43 L274.98 509.01 L269.44 518.12 L269.44 536.35 L269.44 563.69 L263.89 581.92 L280.52 596.68" fill="none" stroke="#80ff00" stroke-width="1.9" stroke-dasharray="8.5 5.5"/>
<g fill="#80ff00"><circle cx="363.64" cy="50.6" r="4"/><circle cx="341.47" cy="81.59" r="4"/><circle cx="341.47" cy="107.1" r="4"/><circle cx="335.93" cy="134.44" r="4"/><circle cx="341.47" cy="152.67" r="4"/><circle cx="341.47" cy="174.54" r="4"/><circle cx="341.47" cy="190.95" r="4"/><circle cx="335.93" cy="227.4" r="4"/><circle cx="324.85" cy="263.86" r="4"/><circle cx="324.85" cy="290.65" r="4"/><circle cx="308.22" cy="317.63" r="4"/><circle cx="302.68" cy="326.92" r="4"/><circle cx="291.6" cy="348.61" r="4"/><circle cx="291.6" cy="377.96" r="4"/><circle cx="274.98" cy="399.65" r="4"/><circle cx="274.98" cy="416.96" r="4"/><circle cx="274.98" cy="427.35" r="4"/><circle cx="274.98" cy="472.56" r="4"/><circle cx="258.35" cy="494.43" r="4"/><circle cx="274.98" cy="509.01" r="4"/><circle cx="269.44" cy="518.12" r="4"/><circle cx="269.44" cy="536.35" r="4"/><circle cx="269.44" cy="563.69" r="4"/><circle cx="263.89" cy="581.92" r="4"/><circle cx="280.52" cy="596.68" r="4"/></g>
<path d="M413.51 50.6 L380.26 81.59 L385.8 107.1 L385.8 134.44 L380.26 152.67 L380.26 174.54 L374.72 190.95 L369.18 227.4 L352.55 263.86 L352.55 290.65 L330.39 317.63 L330.39 326.92 L308.22 348.61 L297.14 377.96 L280.52 399.65 L280.52 416.96 L274.98 427.35 L280.52 472.56 L269.44 494.43 L280.52 509.01 L274.98 518.12 L269.44 536.35 L263.89 563.69 L263.89 581.92 L280.52 596.68" fill="none" stroke="#00ff40" stroke-width="1.9" stroke-dasharray="8.5 5.5"/>
<g fill="#00ff40"><circle cx="413.51" cy="50.6" r="4"/><circle cx="380.26" cy="81.59" r="4"/><circle cx="385.8" cy="107.1" r="4"/><circle cx="385.8" cy="134.44" r="4"/><circle cx="380.26" cy="152.67" r="4"/><circle cx="380.26" cy="174.54" r="4"/><circle cx="374.72" cy="190.95" r="4"/><circle cx="369.18" cy="227.4" r="4"/><circle cx="352.55" cy="263.86" r="4"/><circle cx="352.55" cy="290.65" r="4"/><circle cx="330.39" cy="317.63" r="4"/><circle cx="330.39" cy="326.92" r="4"/><circle cx="308.22" cy="348.61" r="4"/><circle cx="297.14" cy="377.96" r="4"/><circle cx="280.52" cy="399.65" r="4"/><circle cx="280.52" cy="416.96" r="4"/><circle cx="274.98" cy="427.35" r="4"/><circle cx="280.52" cy="472.56" r="4"/><circle cx="269.44" cy="494.43" r="4"/><circle cx="280.52" cy="509.01" r="4"/><circle cx="274.98" cy="518.12" r="4"/><circle cx="269.44" cy="536.35" r="4"/><circle cx="263.89" cy="563.69" r="4"/><circle cx="263.89" cy="581.92" r="4"/><circle cx="280.52" cy="596.68" r="4"/></g>
<path d="M424.59 50.6 L385.8 81.59 L391.34 107.1 L385.8 134.44 L396.88 152.67 L391.34 174.54 L385.8 190.95 L380.26 227.4 L363.64 263.86 L363.64 290.65 L341.47 317.63 L335.93 326.92 L313.76 348.61 L308.22 377.96 L286.06 399.65 L280.52 416.96 L280.52 427.35 L280.52 472.56 L274.98 494.43 L280.52 509.01 L269.44 518.12 L269.44 536.35 L263.89 563.69 L263.89 581.92 L280.52 596.68" fill="none" stroke="#00ffff" stroke-width="1.9" stroke-dasharray="8.5 5.5"/>
<g fill="#00ffff"><circle cx="424.59" cy="50.6" r="4"/><circle cx="385.8" cy="81.59" r="4"/><circle cx="391.34" cy="107.1" r="4"/><circle cx="385.8" cy="134.44" r="4"/><circle cx="396.88" cy="152.67" r="4"/><circle cx="391.34" cy="174.54" r="4"/><circle cx="385.8" cy="190.95" r="4"/><circle cx="380.26" cy="227.4" r="4"/><circle cx="363.64" cy="263.86" r="4"/><circle cx="363.64" cy="290.65" r="4"/><circle cx="341.47" cy="317.63" r="4"/><circle cx="335.93" cy="326.92" r="4"/><circle cx="313.76" cy="348.61" r="4"/><circle cx="308.22" cy="377.96" r="4"/><circle cx="286.06" cy="399.65" r="4"/><circle cx="280.52" cy="416.96" r="4"/><circle cx="280.52" cy="427.35" r="4"/><circle cx="280.52" cy="472.56" r="4"/><circle cx="274.98" cy="494.43" r="4"/><circle cx="280.52" cy="509.01" r="4"/><circle cx="269.44" cy="518.12" r="4"/><circle cx="269.44" cy="536.35" r="4"/><circle cx="263.89" cy="563.69" r="4"/><circle cx="263.89" cy="581.92" r="4"/><circle cx="280.52" cy="596.68" r="4"/></g>
<path d="M457.84 50.6 L430.13 81.59 L430.13 107.1 L424.59 134.44 L424.59 152.67 L413.51 174.54 L413.51 190.95 L402.42 227.4 L385.8 263.86 L374.72 290.65 L347.01 317.63 L341.47 326.92 L324.85 348.61 L308.22 377.96 L291.6 399.65 L280.52 416.96 L274.98 427.35 L274.98 472.56 L263.89 494.43 L274.98 509.01 L263.89 518.12 L258.35 536.35 L252.81 563.69 L258.35 581.92 L280.52 596.68" fill="none" stroke="#0040ff" stroke-width="1.9" stroke-dasharray="8.5 5.5"/>
<g fill="#0040ff"><circle cx="457.84" cy="50.6" r="4"/><circle cx="430.13" cy="81.59" r="4"/><circle cx="430.13" cy="107.1" r="4"/><circle cx="424.59" cy="134.44" r="4"/><circle cx="424.59" cy="152.67" r="4"/><circle cx="413.51" cy="174.54" r="4"/><circle cx="413.51" cy="190.95" r="4"/><circle cx="402.42" cy="227.4" r="4"/><circle cx="385.8" cy="263.86" r="4"/><circle cx="374.72" cy="290.65" r="4"/><circle cx="347.01" cy="317.63" r="4"/><circle cx="341.47" cy="326.92" r="4"/><circle cx="324.85" cy="348.61" r="4"/><circle cx="308.22" cy="377.96" r="4"/><circle cx="291.6" cy="399.65" r="4"/><circle cx="280.52" cy="416.96" r="4"/><circle cx="274.98" cy="427.35" r="4"/><circle cx="274.98" cy="472.56" r="4"/><circle cx="263.89" cy="494.43" r="4"/><circle cx="274.98" cy="509.01" r="4"/><circle cx="263.89" cy="518.12" r="4"/><circle cx="258.35" cy="536.35" r="4"/><circle cx="252.81" cy="563.69" r="4"/><circle cx="258.35" cy="581.92" r="4"/><circle cx="280.52" cy="596.68" r="4"/></g>
<path d="M496.62 50.6 L457.84 81.59 L457.84 107.1 L457.84 134.44 L457.84 152.67 L452.29 174.54 L452.29 190.95 L430.13 227.4 L407.96 263.86 L391.34 290.65 L363.64 317.63 L358.09 326.92 L330.39 348.61 L313.76 377.96 L297.14 399.65 L286.06 416.96 L286.06 427.35 L280.52 472.56 L263.89 494.43 L274.98 509.01 L263.89 518.12 L258.35 536.35 L241.73 563.69 L252.81 581.92 L280.52 596.68" fill="none" stroke="#8000ff" stroke-width="1.9" stroke-dasharray="8.5 5.5"/>
<g fill="#8000ff"><circle cx="496.62" cy="50.6" r="4"/><circle cx="457.84" cy="81.59" r="4"/><circle cx="457.84" cy="107.1" r="4"/><circle cx="457.84" cy="134.44" r="4"/><circle cx="457.84" cy="152.67" r="4"/><circle cx="452.29" cy="174.54" r="4"/><circle cx="452.29" cy="190.95" r="4"/><circle cx="430.13" cy="227.4" r="4"/><circle cx="407.96" cy="263.86" r="4"/><circle cx="391.34" cy="290.65" r="4"/><circle cx="363.64" cy="317.63" r="4"/><circle cx="358.09" cy="326.92" r="4"/><circle cx="330.39" cy="348.61" r="4"/><circle cx="313.76" cy="377.96" r="4"/><circle cx="297.14" cy="399.65" r="4"/><circle cx="286.06" cy="416.96" r="4"/><circle cx="286.06" cy="427.35" r="4"/><circle cx="280.52" cy="472.56" r="4"/><circle cx="263.89" cy="494.43" r="4"/><circle cx="274.98" cy="509.01" r="4"/><circle cx="263.89" cy="518.12" r="4"/><circle cx="258.35" cy="536.35" r="4"/><circle cx="241.73" cy="563.69" r="4"/><circle cx="252.81" cy="581.92" r="4"/><circle cx="280.52" cy="596.68" r="4"/></g>
<g font-family='"Liberation Serif", serif' font-size="16.5" font-weight="bold" fill="#1c1c1c">
<text x="191.6" y="56.2" text-anchor="end">0</text>
<text x="191.6" y="147.34" text-anchor="end">50</text>
<text x="191.6" y="238.47" text-anchor="end">100</text>
<text x="191.6" y="329.61" text-anchor="end">150</text>
<text x="191.6" y="420.74" text-anchor="end">200</text>
<text x="191.6" y="511.88" text-anchor="end">250</text>
<text x="191.6" y="603.01" text-anchor="end">300</text>
<text x="224.61" y="620.6" text-anchor="middle">-1</text>
<text x="280.52" y="620.6" text-anchor="middle">0</text>
<text x="335.93" y="620.6" text-anchor="middle">1</text>
<text x="391.34" y="620.6" text-anchor="middle">2</text>
<text x="446.75" y="620.6" text-anchor="middle">3</text>
<text x="502.16" y="620.6" text-anchor="middle">4</text>
<text x="557.58" y="620.6" text-anchor="middle">5</text>
<text x="612.99" y="620.6" text-anchor="middle">6</text>
<text x="668.4" y="620.6" text-anchor="middle">7</text>
</g>
<text transform="translate(398 43.3) scale(1 .87)" font-family='"Liberation Sans", "Noto Sans CJK TC", sans-serif' font-size="17.35" fill="#111">新街國小</text>
<text transform="translate(337.2 642.8) scale(1 .87)" font-family='"Liberation Sans", "Noto Sans CJK TC", sans-serif' font-size="16.55" fill="#222">相對井底累積壓縮量</text>
<text x="494.2" y="642.8" font-family='"Liberation Sans", sans-serif' font-size="17.2" fill="#222">(cm)</text>
<g transform="translate(158 357.4) rotate(-90)"><text transform="scale(1 .87)" font-family='"Liberation Sans", "Noto Sans CJK TC", sans-serif' font-size="16.4" fill="#222">深度</text><text x="37.3" y=".9" font-family='"Liberation Sans", sans-serif' font-size="17.7" fill="#222">(m)</text></g>
<rect x="392.3" y="471.4" width="147.5" height="117" fill="#fff" stroke="#555" stroke-width="1"/>
<rect x="395" y="474.1" width="39.7" height="21.6" fill="#5b9bd5"/>
<clipPath id="swc"><rect x="395" y="474.1" width="39.7" height="21.6"/></clipPath>
<g clip-path="url(#swc)" fill="none" stroke="#1f3f70" stroke-width=".7"><circle cx="406.8" cy="474.9" r="3.2"/><circle cx="421.6" cy="474.9" r="3.2"/><circle cx="399.4" cy="479.9" r="3.2"/><circle cx="414.3" cy="479.9" r="3.2"/><circle cx="429.6" cy="479.9" r="3.2"/><circle cx="406.8" cy="484.9" r="3.2"/><circle cx="421.6" cy="484.9" r="3.2"/><circle cx="399.4" cy="489.9" r="3.2"/><circle cx="414.3" cy="489.9" r="3.2"/><circle cx="429.6" cy="489.9" r="3.2"/><circle cx="406.8" cy="494.9" r="3.2"/><circle cx="421.6" cy="494.9" r="3.2"/></g>
<rect x="395" y="474.1" width="39.7" height="21.6" fill="none" stroke="#444" stroke-width=".8"/>
<text x="436" y="490.1" font-family='"Liberation Serif", "Noto Serif CJK SC", serif' font-size="14.5" fill="#111">礫石</text>
<rect x="395" y="504.5" width="39.7" height="21.6" fill="#00f040"/>
<rect x="395" y="504.5" width="39.7" height="21.6" fill="url(#lgdot)"/>
<rect x="395" y="504.5" width="39.7" height="21.6" fill="none" stroke="#444" stroke-width=".8"/>
<text x="436" y="520.5" font-family='"Liberation Serif", "Noto Serif CJK SC", serif' font-size="14.5" fill="#111">粗、中砂</text>
<rect x="395" y="534.4" width="39.7" height="21.6" fill="#ffff66"/>
<rect x="395" y="534.4" width="39.7" height="21.6" fill="url(#lgdot)"/>
<rect x="395" y="534.4" width="39.7" height="21.6" fill="none" stroke="#444" stroke-width=".8"/>
<text x="436" y="550.4" font-family='"Liberation Serif", "Noto Serif CJK SC", serif' font-size="14.5" fill="#111">細、極細砂</text>
<rect x="395" y="564.2" width="39.7" height="21.6" fill="#ffa347"/>
<clipPath id="swh"><rect x="395" y="564.2" width="39.7" height="21.6"/></clipPath>
<g clip-path="url(#swh)" stroke="#222" stroke-width=".7" fill="none"><path d="M384 586l15 -22M388.5 586l15 -22M399 586l15 -22M403.5 586l15 -22M414 586l15 -22M418.5 586l15 -22M429 586l15 -22M433.5 586l15 -22"/></g><g clip-path="url(#swh)" fill="#222"><rect x="397.5" y="576.2" width="1" height="1"/><rect x="400" y="572.7" width="1" height="1"/><rect x="402" y="579.2" width="1" height="1"/><rect x="412" y="576.2" width="1" height="1"/><rect x="414.5" y="572.2" width="1" height="1"/><rect x="417" y="579.7" width="1" height="1"/><rect x="419" y="569.2" width="1" height="1"/><rect x="427" y="578.2" width="1" height="1"/><rect x="429.5" y="581.2" width="1" height="1"/><rect x="431.5" y="576.2" width="1" height="1"/><rect x="404" y="567.7" width="1" height="1"/><rect x="433" y="569.2" width="1" height="1"/></g>
<rect x="395" y="564.2" width="39.7" height="21.6" fill="none" stroke="#444" stroke-width=".8"/>
<text x="436" y="580.2" font-family='"Liberation Serif", "Noto Serif CJK SC", serif' font-size="14.5" fill="#111">粉砂、泥、黏土</text>
<rect x="549.6" y="438.8" width="106.9" height="149.6" fill="#fff" stroke="#555" stroke-width="1"/>
<path d="M553.2 449.7h7.2M570 449.7h4.8" stroke="#000000" stroke-width="1.9" fill="none"/>
<rect x="563.3" y="446.5" width="6.4" height="6.4" rx="1.6" fill="#000000"/>
<text x="582.4" y="454.9" font-family='"Liberation Serif", serif' font-size="15.6" font-weight="bold" fill="#111">2014/12/12</text>
<path d="M553.2 468h7.2M570 468h4.8" stroke="#ff0000" stroke-width="1.9" fill="none"/>
<circle cx="566.5" cy="468" r="4" fill="#ff0000"/>
<text x="582.4" y="473.2" font-family='"Liberation Serif", serif' font-size="15.6" font-weight="bold" fill="#111">2015/12/16</text>
<path d="M553.2 486.3h7.2M570 486.3h4.8" stroke="#ffb000" stroke-width="1.9" fill="none"/>
<circle cx="566.5" cy="486.3" r="4" fill="#ffb000"/>
<text x="582.4" y="491.5" font-family='"Liberation Serif", serif' font-size="15.6" font-weight="bold" fill="#111">2016/12/20</text>
<path d="M553.2 504.6h7.2M570 504.6h4.8" stroke="#80ff00" stroke-width="1.9" fill="none"/>
<circle cx="566.5" cy="504.6" r="4" fill="#80ff00"/>
<text x="582.4" y="509.8" font-family='"Liberation Serif", serif' font-size="15.6" font-weight="bold" fill="#111">2017/12/04</text>
<path d="M553.2 522.9h7.2M570 522.9h4.8" stroke="#00ff40" stroke-width="1.9" fill="none"/>
<circle cx="566.5" cy="522.9" r="4" fill="#00ff40"/>
<text x="582.4" y="528.1" font-family='"Liberation Serif", serif' font-size="15.6" font-weight="bold" fill="#111">2018/12/10</text>
<path d="M553.2 541.2h7.2M570 541.2h4.8" stroke="#00ffff" stroke-width="1.9" fill="none"/>
<circle cx="566.5" cy="541.2" r="4" fill="#00ffff"/>
<text x="582.4" y="546.4" font-family='"Liberation Serif", serif' font-size="15.6" font-weight="bold" fill="#111">2019/12/09</text>
<path d="M553.2 559.5h7.2M570 559.5h4.8" stroke="#0040ff" stroke-width="1.9" fill="none"/>
<circle cx="566.5" cy="559.5" r="4" fill="#0040ff"/>
<text x="582.4" y="564.7" font-family='"Liberation Serif", serif' font-size="15.6" font-weight="bold" fill="#111">2020/12/08</text>
<path d="M553.2 577.8h7.2M570 577.8h4.8" stroke="#8000ff" stroke-width="1.9" fill="none"/>
<circle cx="566.5" cy="577.8" r="4" fill="#8000ff"/>
<text x="582.4" y="583" font-family='"Liberation Serif", serif' font-size="15.6" font-weight="bold" fill="#111">2021/11/01</text>
</g>
<g clip-path="url(#hclip)"><g filter="url(#jet)">
<rect x="690" y="40" width="840" height="570" fill="#777"/>
<rect x="692.6" y="50.6" width="24.96" height="546.7" fill="url(#c0)"/>
<rect x="717.37" y="50.6" width="9.73" height="546.7" fill="url(#c1)"/>
<rect x="726.89" y="50.6" width="9.73" height="546.7" fill="url(#c2)"/>
<rect x="736.43" y="50.6" width="9.73" height="546.7" fill="url(#c3)"/>
<rect x="745.96" y="50.6" width="9.73" height="546.7" fill="url(#c4)"/>
<rect x="755.49" y="50.6" width="9.73" height="546.7" fill="url(#c5)"/>
<rect x="765.01" y="50.6" width="9.73" height="546.7" fill="url(#c6)"/>
<rect x="774.55" y="50.6" width="9.73" height="546.7" fill="url(#c7)"/>
<rect x="784.08" y="50.6" width="9.73" height="546.7" fill="url(#c8)"/>
<rect x="793.61" y="50.6" width="9.73" height="546.7" fill="url(#c9)"/>
<rect x="803.13" y="50.6" width="9.73" height="546.7" fill="url(#c10)"/>
<rect x="812.66" y="50.6" width="9.73" height="546.7" fill="url(#c11)"/>
<rect x="822.2" y="50.6" width="9.73" height="546.7" fill="url(#c12)"/>
<rect x="831.73" y="50.6" width="9.73" height="546.7" fill="url(#c13)"/>
<rect x="841.25" y="50.6" width="9.73" height="546.7" fill="url(#c14)"/>
<rect x="850.79" y="50.6" width="9.73" height="546.7" fill="url(#c15)"/>
<rect x="860.32" y="50.6" width="9.73" height="546.7" fill="url(#c16)"/>
<rect x="869.85" y="50.6" width="9.73" height="546.7" fill="url(#c17)"/>
<rect x="879.38" y="50.6" width="9.73" height="546.7" fill="url(#c18)"/>
<rect x="888.9" y="50.6" width="9.73" height="546.7" fill="url(#c19)"/>
<rect x="898.43" y="50.6" width="9.73" height="546.7" fill="url(#c20)"/>
<rect x="907.97" y="50.6" width="9.73" height="546.7" fill="url(#c21)"/>
<rect x="917.5" y="50.6" width="9.73" height="546.7" fill="url(#c22)"/>
<rect x="927.02" y="50.6" width="9.73" height="546.7" fill="url(#c23)"/>
<rect x="936.56" y="50.6" width="9.73" height="546.7" fill="url(#c24)"/>
<rect x="946.09" y="50.6" width="9.73" height="546.7" fill="url(#c25)"/>
<rect x="955.62" y="50.6" width="9.73" height="546.7" fill="url(#c26)"/>
<rect x="965.14" y="50.6" width="9.73" height="546.7" fill="url(#c27)"/>
<rect x="974.67" y="50.6" width="9.73" height="546.7" fill="url(#c28)"/>
<rect x="984.2" y="50.6" width="9.73" height="546.7" fill="url(#c29)"/>
<rect x="993.74" y="50.6" width="9.73" height="546.7" fill="url(#c30)"/>
<rect x="1003.26" y="50.6" width="9.73" height="546.7" fill="url(#c31)"/>
<rect x="1012.8" y="50.6" width="9.73" height="546.7" fill="url(#c32)"/>
<rect x="1022.33" y="50.6" width="9.73" height="546.7" fill="url(#c33)"/>
<rect x="1031.86" y="50.6" width="9.73" height="546.7" fill="url(#c34)"/>
<rect x="1041.38" y="50.6" width="9.73" height="546.7" fill="url(#c35)"/>
<rect x="1050.91" y="50.6" width="9.73" height="546.7" fill="url(#c36)"/>
<rect x="1060.44" y="50.6" width="9.73" height="546.7" fill="url(#c37)"/>
<rect x="1069.97" y="50.6" width="9.73" height="546.7" fill="url(#c38)"/>
<rect x="1079.51" y="50.6" width="9.73" height="546.7" fill="url(#c39)"/>
<rect x="1089.04" y="50.6" width="9.73" height="546.7" fill="url(#c40)"/>
<rect x="1098.57" y="50.6" width="9.73" height="546.7" fill="url(#c41)"/>
<rect x="1108.1" y="50.6" width="9.73" height="546.7" fill="url(#c42)"/>
<rect x="1117.62" y="50.6" width="9.73" height="546.7" fill="url(#c43)"/>
<rect x="1127.15" y="50.6" width="9.73" height="546.7" fill="url(#c44)"/>
<rect x="1136.68" y="50.6" width="9.73" height="546.7" fill="url(#c45)"/>
<rect x="1146.21" y="50.6" width="9.73" height="546.7" fill="url(#c46)"/>
<rect x="1155.74" y="50.6" width="9.73" height="546.7" fill="url(#c47)"/>
<rect x="1165.28" y="50.6" width="9.73" height="546.7" fill="url(#c48)"/>
<rect x="1174.81" y="50.6" width="9.73" height="546.7" fill="url(#c49)"/>
<rect x="1184.34" y="50.6" width="9.73" height="546.7" fill="url(#c50)"/>
<rect x="1193.87" y="50.6" width="9.73" height="546.7" fill="url(#c51)"/>
<rect x="1203.39" y="50.6" width="9.73" height="546.7" fill="url(#c52)"/>
<rect x="1212.92" y="50.6" width="9.73" height="546.7" fill="url(#c53)"/>
<rect x="1222.45" y="50.6" width="9.73" height="546.7" fill="url(#c54)"/>
<rect x="1231.99" y="50.6" width="9.73" height="546.7" fill="url(#c55)"/>
<rect x="1241.51" y="50.6" width="9.73" height="546.7" fill="url(#c56)"/>
<rect x="1251.05" y="50.6" width="9.73" height="546.7" fill="url(#c57)"/>
<rect x="1260.57" y="50.6" width="9.73" height="546.7" fill="url(#c58)"/>
<rect x="1270.11" y="50.6" width="9.73" height="546.7" fill="url(#c59)"/>
<rect x="1279.63" y="50.6" width="9.73" height="546.7" fill="url(#c60)"/>
<rect x="1289.16" y="50.6" width="9.73" height="546.7" fill="url(#c61)"/>
<rect x="1298.69" y="50.6" width="9.73" height="546.7" fill="url(#c62)"/>
<rect x="1308.22" y="50.6" width="9.73" height="546.7" fill="url(#c63)"/>
<rect x="1317.76" y="50.6" width="9.73" height="546.7" fill="url(#c64)"/>
<rect x="1327.28" y="50.6" width="9.73" height="546.7" fill="url(#c65)"/>
<rect x="1336.82" y="50.6" width="9.73" height="546.7" fill="url(#c66)"/>
<rect x="1346.35" y="50.6" width="9.73" height="546.7" fill="url(#c67)"/>
<rect x="1355.88" y="50.6" width="9.73" height="546.7" fill="url(#c68)"/>
<rect x="1365.4" y="50.6" width="9.73" height="546.7" fill="url(#c69)"/>
<rect x="1374.93" y="50.6" width="9.73" height="546.7" fill="url(#c70)"/>
<rect x="1384.47" y="50.6" width="9.73" height="546.7" fill="url(#c71)"/>
<rect x="1393.99" y="50.6" width="9.73" height="546.7" fill="url(#c72)"/>
<rect x="1403.53" y="50.6" width="9.73" height="546.7" fill="url(#c73)"/>
<rect x="1413.05" y="50.6" width="9.73" height="546.7" fill="url(#c74)"/>
<rect x="1422.59" y="50.6" width="9.73" height="546.7" fill="url(#c75)"/>
<rect x="1432.12" y="50.6" width="9.73" height="546.7" fill="url(#c76)"/>
<rect x="1441.64" y="50.6" width="9.73" height="546.7" fill="url(#c77)"/>
<rect x="1451.17" y="50.6" width="9.73" height="546.7" fill="url(#c78)"/>
<rect x="1460.7" y="50.6" width="9.73" height="546.7" fill="url(#c79)"/>
<rect x="1470.24" y="50.6" width="9.73" height="546.7" fill="url(#c80)"/>
<rect x="1479.76" y="50.6" width="9.73" height="546.7" fill="url(#c81)"/>
<rect x="1489.3" y="50.6" width="9.73" height="546.7" fill="url(#c82)"/>
<rect x="1498.82" y="50.6" width="24.58" height="546.7" fill="url(#c83)"/>
</g></g>
<g stroke="#3c3c3c" stroke-width="1.2" fill="none">
<path d="M704.6 50.6H1519.8M704.6 597.3H1519.8M712.6 50.6V597.3M1511.8 50.6V597.3"/>
<path d="M712.6 50.6v-8M712.6 597.3v8.2M741.19 50.6v-8M741.19 597.3v8.2M769.78 50.6v-8M769.78 597.3v8.2M798.37 50.6v-8M798.37 597.3v8.2M826.96 50.6v-8M826.96 597.3v8.2M855.55 50.6v-8M855.55 597.3v8.2M884.14 50.6v-8M884.14 597.3v8.2M912.73 50.6v-8M912.73 597.3v8.2M941.32 50.6v-8M941.32 597.3v8.2M969.91 50.6v-8M969.91 597.3v8.2M998.5 50.6v-8M998.5 597.3v8.2M1027.09 50.6v-8M1027.09 597.3v8.2M1055.68 50.6v-8M1055.68 597.3v8.2M1084.27 50.6v-8M1084.27 597.3v8.2M1112.86 50.6v-8M1112.86 597.3v8.2M1141.45 50.6v-8M1141.45 597.3v8.2M1170.04 50.6v-8M1170.04 597.3v8.2M1198.63 50.6v-8M1198.63 597.3v8.2M1227.22 50.6v-8M1227.22 597.3v8.2M1255.81 50.6v-8M1255.81 597.3v8.2M1284.4 50.6v-8M1284.4 597.3v8.2M1312.99 50.6v-8M1312.99 597.3v8.2M1341.58 50.6v-8M1341.58 597.3v8.2M1370.17 50.6v-8M1370.17 597.3v8.2M1398.76 50.6v-8M1398.76 597.3v8.2M1427.35 50.6v-8M1427.35 597.3v8.2M1455.94 50.6v-8M1455.94 597.3v8.2M1484.53 50.6v-8M1484.53 597.3v8.2M704.6 141.72H712.6M1511.8 141.72H1519.8M704.6 232.83H712.6M1511.8 232.83H1519.8M704.6 323.95H712.6M1511.8 323.95H1519.8M704.6 415.07H712.6M1511.8 415.07H1519.8M704.6 506.18H712.6M1511.8 506.18H1519.8"/>
</g>
<path d="M1503.2 141.72H1511.8M1503.2 232.83H1511.8M1503.2 323.95H1511.8M1503.2 415.07H1511.8M1503.2 506.18H1511.8" stroke="#d8d8d8" stroke-width="1" fill="none"/>
<g font-family='"Liberation Serif", serif' font-size="14.8" font-weight="bold" fill="#2a2a2a" text-anchor="middle" letter-spacing=".7">
<text x="691" y="56.2">0</text>
<text x="691" y="147.32">50</text>
<text x="691" y="238.43">100</text>
<text x="691" y="329.55">150</text>
<text x="691" y="420.67">200</text>
<text x="691" y="511.78">250</text>
<text x="691" y="602.9">300</text>
</g>
<g font-family='"Liberation Sans", "Noto Sans CJK TC", sans-serif' font-size="15" font-weight="bold" fill="#111">
<text transform="translate(706.7 609.6) rotate(90)">2014/12</text>
<text transform="translate(735.29 609.6) rotate(90)">2015/03</text>
<text transform="translate(763.88 609.6) rotate(90)">2015/06</text>
<text transform="translate(792.47 609.6) rotate(90)">2015/09</text>
<text transform="translate(821.06 609.6) rotate(90)">2015/12</text>
<text transform="translate(849.65 609.6) rotate(90)">2016/03</text>
<text transform="translate(878.24 609.6) rotate(90)">2016/06</text>
<text transform="translate(906.83 609.6) rotate(90)">2016/09</text>
<text transform="translate(935.42 609.6) rotate(90)">2016/12</text>
<text transform="translate(964.01 609.6) rotate(90)">2017/03</text>
<text transform="translate(992.6 609.6) rotate(90)">2017/05</text>
<text transform="translate(1021.19 609.6) rotate(90)">2017/08</text>
<text transform="translate(1049.78 609.6) rotate(90)">2017/11</text>
<text transform="translate(1078.37 609.6) rotate(90)">2018/02</text>
<text transform="translate(1106.96 609.6) rotate(90)">2018/05</text>
<text transform="translate(1135.55 609.6) rotate(90)">2018/08</text>
<text transform="translate(1164.14 609.6) rotate(90)">2018/11</text>
<text transform="translate(1192.73 609.6) rotate(90)">2019/02</text>
<text transform="translate(1221.32 609.6) rotate(90)">2019/05</text>
<text transform="translate(1249.91 609.6) rotate(90)">2019/08</text>
<text transform="translate(1278.5 609.6) rotate(90)">2019/11</text>
<text transform="translate(1307.09 609.6) rotate(90)">2020/02</text>
<text transform="translate(1335.68 609.6) rotate(90)">2020/05</text>
<text transform="translate(1364.27 609.6) rotate(90)">2020/08</text>
<text transform="translate(1392.86 609.6) rotate(90)">2020/11</text>
<text transform="translate(1421.45 609.6) rotate(90)">2021/02</text>
<text transform="translate(1450.04 609.6) rotate(90)">2021/05</text>
<text transform="translate(1478.63 609.6) rotate(90)">2021/08</text>
</g>
<rect x="1526.8" y="50.6" width="32" height="546.7" fill="url(#cbar)" stroke="#333" stroke-width="1"/>
<g font-family='"Liberation Serif", serif' font-size="12.4" font-weight="bold" fill="#222" letter-spacing=".3">
<text x="1565.4" y="86.86">0.6</text>
<text x="1565.4" y="173.14">0.4</text>
<text x="1565.4" y="259.42">0.2</text>
<text x="1565.4" y="345.7">0</text>
<text x="1565.4" y="431.98">-0.2</text>
<text x="1565.4" y="518.26">-0.4</text>
</g>
<path d="M1553.2 82.56H1558.8M1553.2 168.84H1558.8M1553.2 255.12H1558.8M1553.2 341.4H1558.8M1553.2 427.68H1558.8M1553.2 513.96H1558.8" stroke="#333" stroke-width="1.1" fill="none"/>
<g transform="translate(1610.9 370.2) rotate(-90)"><text transform="scale(1 .87)" font-family='"Liberation Sans", "Noto Sans CJK TC", sans-serif' font-size="17.8" fill="#3a3a3a">壓縮量</text><text x="52" y=".2" font-family='"Liberation Sans", sans-serif' font-size="17.6" letter-spacing="1.3" fill="#3a3a3a">(cm)</text></g>
</svg></body></html>
